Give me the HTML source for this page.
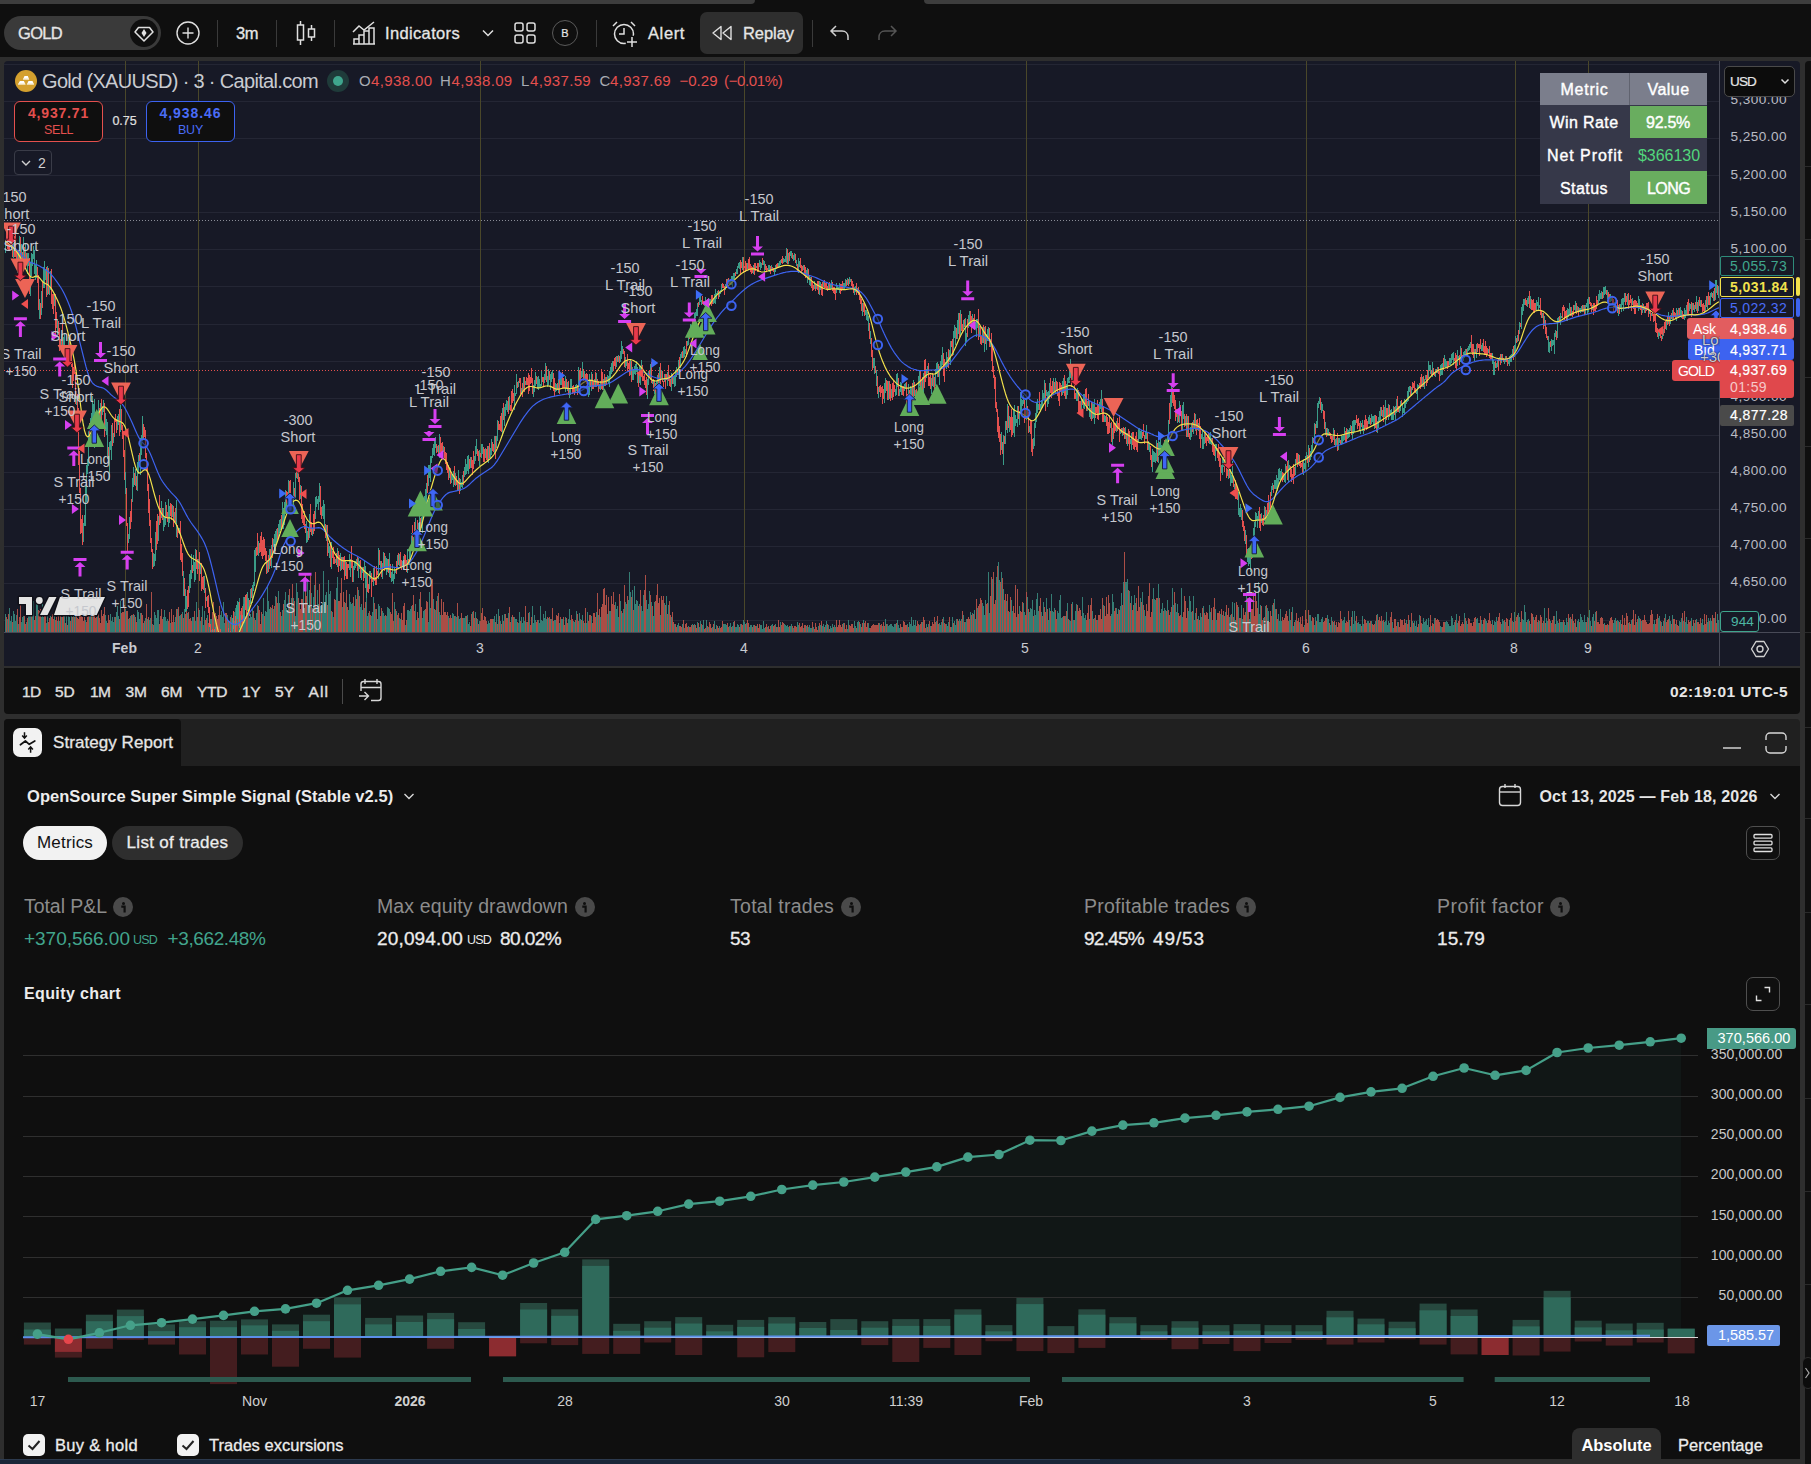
<!DOCTYPE html>
<html><head><meta charset="utf-8"><title>GOLD</title><style>html,body{margin:0;padding:0;background:#0f0f0f;}
body{width:1811px;height:1464px;position:relative;overflow:hidden;font-family:"Liberation Sans",sans-serif;}
.b{position:absolute;display:block;}
.t{position:absolute;white-space:nowrap;display:block;}
.lb{font-family:"Liberation Sans",sans-serif;font-size:15px;fill:#c6c8ce;}
</style></head><body>
<div class="b" style="left:0px;top:57px;width:1811px;height:1407px;background:#2e2e2e;"></div>
<div class="b" style="left:1805px;top:61px;width:6px;height:1403px;background:#0f0f0f;border-radius:4px 0 0 0;"></div>
<div class="b" style="left:1805px;top:166px;width:6px;height:1px;background:#2a2a2a;"></div>
<div class="b" style="left:1805px;top:239px;width:6px;height:1px;background:#2a2a2a;"></div>
<div class="b" style="left:1805px;top:377px;width:6px;height:1px;background:#2a2a2a;"></div>
<div class="b" style="left:1805px;top:446px;width:6px;height:1px;background:#2a2a2a;"></div>
<div class="b" style="left:1805px;top:538px;width:6px;height:1px;background:#2a2a2a;"></div>
<div class="b" style="left:1805px;top:632px;width:6px;height:1px;background:#2a2a2a;"></div>
<div class="b" style="left:1805px;top:727px;width:6px;height:1px;background:#2a2a2a;"></div>
<div class="b" style="left:1805px;top:818px;width:6px;height:1px;background:#2a2a2a;"></div>
<div class="b" style="left:1805px;top:912px;width:6px;height:1px;background:#2a2a2a;"></div>
<div class="b" style="left:1805px;top:1004px;width:6px;height:1px;background:#2a2a2a;"></div>
<div class="b" style="left:1805px;top:1098px;width:6px;height:1px;background:#2a2a2a;"></div>
<div class="b" style="left:1805px;top:1191px;width:6px;height:1px;background:#2a2a2a;"></div>
<div class="b" style="left:1805px;top:1284px;width:6px;height:1px;background:#2a2a2a;"></div>
<div class="b" style="left:4px;top:61px;width:1796px;height:605px;background:#171926;border-radius:4px 4px 0 0;"></div>
<div class="b" style="left:4px;top:668px;width:1796px;height:46px;background:#0f0f0f;border-radius:0 0 4px 4px;"></div>
<div class="b" style="left:0px;top:0px;width:755px;height:4px;background:#3d3d3d;border-radius:0 0 4px 0;"></div>
<div class="b" style="left:924px;top:0px;width:887px;height:4px;background:#3d3d3d;border-radius:0 0 0 4px;"></div>
<div class="b" style="left:4px;top:16px;width:157px;height:34px;background:#3a3a3a;border-radius:17px;"></div>
<span class="t" style="left:18.0px;top:23.0px;font-size:16.5px;line-height:20px;color:#e6e6e6;letter-spacing:-0.69px;-webkit-text-stroke:0.3px #e6e6e6;">GOLD</span>
<div class="b" style="left:130px;top:19px;width:28px;height:28px;background:#0f0f0f;border-radius:14px;"></div>
<svg class="b" style="left:130px;top:19px;" width="28" height="28" viewBox="0 0 28 28"><path d="M8.5 8.5H19.5L23 13L14 22L5 13Z" fill="none" stroke="#e0e0e0" stroke-width="1.5" stroke-linejoin="round"/><path d="M14 10L16.5 14L14 18L11.5 14Z" fill="#e0e0e0"/></svg>
<svg class="b" style="left:176px;top:21px;" width="24" height="24" viewBox="0 0 24 24"><circle cx="12" cy="12" r="11" fill="none" stroke="#e0e0e0" stroke-width="1.4"/><path d="M12 6.5V17.5M6.5 12H17.5" stroke="#e0e0e0" stroke-width="1.4"/></svg>
<div class="b" style="left:217px;top:20px;width:1px;height:27px;background:#3a3a3a;"></div>
<div class="b" style="left:276px;top:20px;width:1px;height:27px;background:#3a3a3a;"></div>
<div class="b" style="left:334px;top:20px;width:1px;height:27px;background:#3a3a3a;"></div>
<div class="b" style="left:596px;top:20px;width:1px;height:27px;background:#3a3a3a;"></div>
<div class="b" style="left:812px;top:20px;width:1px;height:27px;background:#3a3a3a;"></div>
<span class="t" style="left:236.0px;top:23.0px;font-size:16.5px;line-height:20px;color:#e6e6e6;letter-spacing:-0.46px;-webkit-text-stroke:0.3px #e6e6e6;">3m</span>
<svg class="b" style="left:294px;top:20px;" width="24" height="27" viewBox="0 0 24 27"><path d="M6.5 1V5M6.5 20V25M17.5 5V9M17.5 17V21" stroke="#e0e0e0" stroke-width="1.5"/><rect x="3.5" y="5" width="6" height="15" fill="none" stroke="#e0e0e0" stroke-width="1.5"/><rect x="14.5" y="9" width="6" height="8" fill="none" stroke="#e0e0e0" stroke-width="1.5"/></svg>
<svg class="b" style="left:352px;top:20px;" width="24" height="26" viewBox="0 0 24 26"><path d="M1 12L7 6L12 10L22 2" fill="none" stroke="#e0e0e0" stroke-width="1.5"/><path d="M2 24V19H7V24M7 24V15H12V24M12 24V11H17V24M17 24V8H22V24M1 24H23" fill="none" stroke="#e0e0e0" stroke-width="1.5"/></svg>
<span class="t" style="left:385.0px;top:23.0px;font-size:16.5px;line-height:20px;color:#e6e6e6;letter-spacing:0.35px;-webkit-text-stroke:0.3px #e6e6e6;">Indicators</span>
<svg class="b" style="left:481px;top:28px;" width="14" height="10" viewBox="0 0 14 10"><path d="M2 2.5L7 7.5L12 2.5" fill="none" stroke="#e0e0e0" stroke-width="1.5"/></svg>
<svg class="b" style="left:514px;top:22px;" width="22" height="22" viewBox="0 0 22 22"><rect x="1" y="1" width="8" height="8" rx="2" fill="none" stroke="#e0e0e0" stroke-width="1.5"/><rect x="13" y="1" width="8" height="8" rx="2" fill="none" stroke="#e0e0e0" stroke-width="1.5"/><rect x="1" y="13" width="8" height="8" rx="2" fill="none" stroke="#e0e0e0" stroke-width="1.5"/><rect x="13" y="13" width="8" height="8" rx="2" fill="none" stroke="#e0e0e0" stroke-width="1.5"/></svg>
<div class="b" style="left:552px;top:20px;width:26px;height:26px;border:1px solid #5a5a5a;border-radius:13px;box-sizing:border-box;"></div>
<span class="t" style="left:561.3px;top:27.0px;font-size:11px;line-height:13px;color:#e6e6e6;-webkit-text-stroke:0.2px #e6e6e6;">B</span>
<svg class="b" style="left:610px;top:19px;" width="30" height="30" viewBox="0 0 30 30"><circle cx="14" cy="15" r="9.5" fill="none" stroke="#e0e0e0" stroke-width="1.5"/><path d="M14 9V15H9" fill="none" stroke="#e0e0e0" stroke-width="1.5"/><path d="M3 7L7 3M21 3L25 7" stroke="#e0e0e0" stroke-width="1.5"/><circle cx="22" cy="23" r="6.5" fill="#0f0f0f"/><path d="M22 18V28M17 23H27" stroke="#e0e0e0" stroke-width="1.5"/></svg>
<span class="t" style="left:648.0px;top:23.0px;font-size:16.5px;line-height:20px;color:#e6e6e6;letter-spacing:0.61px;-webkit-text-stroke:0.3px #e6e6e6;">Alert</span>
<div class="b" style="left:700px;top:12px;width:103px;height:42px;background:#2e2e2e;border-radius:7px;"></div>
<svg class="b" style="left:711px;top:24px;" width="22" height="18" viewBox="0 0 22 18"><path d="M10 2.5V15.5L2 9Z M20 2.5V15.5L12 9Z" fill="none" stroke="#e0e0e0" stroke-width="1.4" stroke-linejoin="round"/></svg>
<span class="t" style="left:743.0px;top:23.0px;font-size:16.5px;line-height:20px;color:#e6e6e6;letter-spacing:-0.06px;-webkit-text-stroke:0.3px #e6e6e6;">Replay</span>
<svg class="b" style="left:829px;top:23px;" width="22" height="20" viewBox="0 0 22 20"><path d="M7 3L2 8L7 13M2 8H13C17 8 19 11 19 14V17" fill="none" stroke="#d0d0d0" stroke-width="1.5"/></svg>
<svg class="b" style="left:876px;top:23px;" width="22" height="20" viewBox="0 0 22 20"><path d="M15 3L20 8L15 13M20 8H9C5 8 3 11 3 14V17" fill="none" stroke="#555" stroke-width="1.5"/></svg>
<svg class="b" style="left:0;top:0" width="1811" height="700" viewBox="0 0 1811 700">
<defs><clipPath id="pane"><rect x="4" y="61" width="1715" height="571"/></clipPath></defs>
<g clip-path="url(#pane)">
<path d="M4 64.5H1720M4 101.5H1720M4 138.5H1720M4 175.5H1720M4 212.5H1720M4 249.5H1720M4 286.5H1720M4 324.5H1720M4 361.5H1720M4 398.5H1720M4 435.5H1720M4 472.5H1720M4 509.5H1720M4 546.5H1720M4 583.5H1720M4 620.5H1720" stroke="#242634" stroke-width="1" fill="none"/>
<path d="M125.5 61V632M198.5 61V632M480.5 61V632M744.5 61V632M1026.5 61V632M1306.5 61V632M1515.5 61V632M1588.5 61V632" stroke="#4a4729" stroke-width="1" fill="none"/>
<path d="M4 220.5H1720" stroke="#8a8c96" stroke-width="1" stroke-dasharray="1 2" fill="none"/>
<path d="M4 370.5H1720" stroke="#e4504e" stroke-width="1" stroke-dasharray="1 2" fill="none"/>
<path d="M5.5 632V613.7M7.5 632V618.9M9.5 632V607.9M10.5 632V621.1M11.5 632V616.1M13.5 632V611.1M14.5 632V614.0M15.5 632V620.5M16.5 632V615.3M18.5 632V623.9M21.5 632V622.2M22.5 632V616.8M23.5 632V615.6M26.5 632V622.3M28.5 632V615.0M29.5 632V613.6M30.5 632V602.1M32.5 632V611.5M33.5 632V601.2M36.5 632V600.9M37.5 632V600.8M41.5 632V617.2M42.5 632V600.9M43.5 632V617.0M46.5 632V623.2M47.5 632V613.1M50.5 632V615.6M54.5 632V615.7M57.5 632V621.1M59.5 632V620.8M61.5 632V617.2M64.5 632V614.6M66.5 632V612.3M68.5 632V613.7M69.5 632V617.2M71.5 632V614.7M73.5 632V600.5M75.5 632V600.9M85.5 632V619.6M89.5 632V603.9M90.5 632V615.5M92.5 632V612.2M97.5 632V607.9M105.5 632V614.8M106.5 632V621.0M110.5 632V613.5M111.5 632V620.8M112.5 632V616.9M113.5 632V621.5M114.5 632V617.0M116.5 632V611.6M117.5 632V606.2M118.5 632V616.1M120.5 632V600.6M125.5 632V608.8M128.5 632V619.2M130.5 632V615.8M132.5 632V615.2M134.5 632V615.1M137.5 632V610.2M138.5 632V611.9M139.5 632V619.4M140.5 632V612.5M143.5 632V622.7M145.5 632V618.3M147.5 632V619.4M149.5 632V620.4M150.5 632V617.8M152.5 632V623.5M154.5 632V611.6M155.5 632V615.3M156.5 632V618.4M157.5 632V609.5M158.5 632V609.5M163.5 632V617.1M164.5 632V609.7M165.5 632V616.9M166.5 632V620.8M167.5 632V618.8M170.5 632V622.5M174.5 632V621.8M175.5 632V617.2M177.5 632V608.6M179.5 632V616.1M180.5 632V615.1M182.5 632V612.2M184.5 632V608.9M187.5 632V613.1M192.5 632V617.3M193.5 632V616.7M195.5 632V621.2M196.5 632V601.8M199.5 632V609.5M200.5 632V620.5M202.5 632V606.2M203.5 632V624.6M204.5 632V611.4M207.5 632V614.7M209.5 632V614.9M210.5 632V619.0M211.5 632V619.4M214.5 632V614.1M220.5 632V615.1M221.5 632V610.8M222.5 632V617.2M223.5 632V602.3M224.5 632V622.6M227.5 632V614.7M229.5 632V621.0M231.5 632V615.3M232.5 632V620.9M234.5 632V611.8M235.5 632V608.2M238.5 632V617.9M239.5 632V598.3M243.5 632V596.6M244.5 632V604.1M245.5 632V619.7M248.5 632V614.0M249.5 632V618.2M250.5 632V613.9M251.5 632V617.3M252.5 632V608.6M254.5 632V618.4M256.5 632V613.2M257.5 632V604.7M262.5 632V613.6M263.5 632V598.2M265.5 632V611.1M266.5 632V612.4M267.5 632V586.2M268.5 632V601.1M269.5 632V608.6M271.5 632V607.6M273.5 632V609.3M275.5 632V595.5M278.5 632V590.6M279.5 632V602.8M281.5 632V616.2M282.5 632V609.7M284.5 632V599.8M285.5 632V591.6M286.5 632V608.0M287.5 632V609.6M288.5 632V594.5M290.5 632V606.4M291.5 632V598.3M293.5 632V597.6M295.5 632V615.7M296.5 632V582.7M297.5 632V591.9M303.5 632V582.3M304.5 632V608.0M307.5 632V578.5M308.5 632V605.0M309.5 632V590.3M311.5 632V592.5M313.5 632V597.0M314.5 632V585.3M316.5 632V607.4M317.5 632V590.0M318.5 632V603.5M320.5 632V605.8M322.5 632V602.6M323.5 632V571.4M324.5 632V603.7M325.5 632V595.0M326.5 632V592.1M328.5 632V580.4M329.5 632V593.7M330.5 632V590.6M332.5 632V611.8M333.5 632V617.4M336.5 632V588.4M337.5 632V576.7M342.5 632V606.5M345.5 632V602.9M348.5 632V609.7M349.5 632V593.6M350.5 632V601.6M351.5 632V604.2M352.5 632V603.3M354.5 632V606.0M355.5 632V595.1M358.5 632V590.3M360.5 632V606.6M361.5 632V604.2M362.5 632V610.2M364.5 632V608.1M366.5 632V593.4M367.5 632V616.1M368.5 632V613.4M371.5 632V616.3M372.5 632V612.2M373.5 632V596.8M375.5 632V608.7M377.5 632V618.6M378.5 632V603.7M379.5 632V606.2M382.5 632V611.2M383.5 632V613.4M384.5 632V616.1M386.5 632V616.0M387.5 632V607.1M388.5 632V608.0M389.5 632V608.5M394.5 632V601.9M396.5 632V611.3M399.5 632V618.4M400.5 632V619.3M405.5 632V625.3M407.5 632V609.8M408.5 632V610.2M409.5 632V610.8M410.5 632V608.5M411.5 632V605.8M415.5 632V604.4M416.5 632V619.5M419.5 632V598.9M422.5 632V617.9M423.5 632V611.3M424.5 632V610.2M428.5 632V622.1M429.5 632V592.1M430.5 632V607.7M433.5 632V598.6M435.5 632V610.2M437.5 632V595.5M439.5 632V611.8M440.5 632V615.0M448.5 632V616.3M452.5 632V612.9M453.5 632V614.4M455.5 632V616.3M456.5 632V616.6M458.5 632V615.9M459.5 632V618.8M460.5 632V617.6M463.5 632V617.5M464.5 632V618.2M465.5 632V616.4M467.5 632V615.4M468.5 632V623.6M469.5 632V622.1M472.5 632V612.2M475.5 632V611.9M477.5 632V618.6M479.5 632V621.2M487.5 632V624.0M488.5 632V621.1M489.5 632V623.2M493.5 632V618.8M494.5 632V615.8M496.5 632V613.6M498.5 632V609.3M500.5 632V621.2M502.5 632V615.0M504.5 632V614.2M508.5 632V613.0M511.5 632V617.4M514.5 632V617.3M515.5 632V618.8M516.5 632V618.6M518.5 632V623.2M519.5 632V612.1M521.5 632V617.1M522.5 632V623.4M523.5 632V617.4M524.5 632V621.3M526.5 632V622.0M529.5 632V612.1M532.5 632V606.1M533.5 632V622.6M534.5 632V614.8M535.5 632V620.3M538.5 632V620.0M539.5 632V623.1M540.5 632V606.1M541.5 632V620.0M542.5 632V621.1M543.5 632V613.8M544.5 632V618.4M545.5 632V610.8M546.5 632V619.3M548.5 632V617.7M551.5 632V618.6M554.5 632V620.3M555.5 632V619.6M559.5 632V622.9M561.5 632V618.9M562.5 632V619.3M565.5 632V616.9M568.5 632V618.5M569.5 632V609.3M570.5 632V619.7M573.5 632V621.3M574.5 632V621.6M576.5 632V611.0M579.5 632V613.0M580.5 632V618.5M582.5 632V615.0M584.5 632V622.5M586.5 632V622.8M587.5 632V612.0M591.5 632V616.0M596.5 632V612.0M598.5 632V615.1M600.5 632V616.7M607.5 632V614.2M609.5 632V610.9M610.5 632V611.1M615.5 632V602.4M616.5 632V608.7M617.5 632V606.4M618.5 632V616.6M620.5 632V601.2M622.5 632V612.7M623.5 632V609.3M625.5 632V602.4M626.5 632V604.1M628.5 632V600.2M629.5 632V572.0M630.5 632V591.9M632.5 632V590.3M634.5 632V585.9M635.5 632V603.9M636.5 632V599.5M637.5 632V601.1M639.5 632V604.0M641.5 632V605.9M642.5 632V611.0M643.5 632V594.7M646.5 632V600.4M647.5 632V609.0M648.5 632V604.3M649.5 632V590.8M651.5 632V602.3M653.5 632V615.5M654.5 632V602.0M660.5 632V614.5M664.5 632V603.0M666.5 632V595.7M668.5 632V604.9M671.5 632V617.2M674.5 632V624.1M677.5 632V624.8M678.5 632V622.7M682.5 632V623.6M684.5 632V627.7M688.5 632V626.2M692.5 632V624.0M694.5 632V623.5M697.5 632V621.7M699.5 632V626.8M700.5 632V620.6M702.5 632V625.2M703.5 632V620.1M706.5 632V620.0M708.5 632V627.1M712.5 632V626.7M714.5 632V620.6M716.5 632V624.9M719.5 632V625.8M723.5 632V624.3M724.5 632V623.6M725.5 632V624.1M726.5 632V624.7M729.5 632V626.1M730.5 632V623.4M732.5 632V626.3M733.5 632V622.4M735.5 632V626.6M736.5 632V626.9M737.5 632V624.1M738.5 632V624.8M740.5 632V624.1M743.5 632V620.0M744.5 632V621.9M746.5 632V622.9M749.5 632V626.7M750.5 632V624.7M751.5 632V625.3M753.5 632V624.9M756.5 632V626.3M760.5 632V625.4M761.5 632V624.8M762.5 632V628.9M763.5 632V620.9M764.5 632V628.2M767.5 632V626.5M771.5 632V625.0M772.5 632V623.9M775.5 632V624.4M777.5 632V626.8M780.5 632V622.3M784.5 632V624.2M785.5 632V624.7M786.5 632V625.9M787.5 632V624.7M788.5 632V626.8M790.5 632V626.2M791.5 632V623.6M793.5 632V627.7M797.5 632V622.0M798.5 632V624.5M803.5 632V627.8M806.5 632V626.4M808.5 632V627.3M809.5 632V624.9M810.5 632V627.5M811.5 632V627.6M813.5 632V626.7M818.5 632V625.5M820.5 632V624.6M822.5 632V625.7M823.5 632V624.0M825.5 632V625.1M826.5 632V621.3M828.5 632V625.1M830.5 632V626.1M831.5 632V627.6M832.5 632V623.6M834.5 632V624.6M835.5 632V627.2M843.5 632V623.0M847.5 632V628.6M848.5 632V620.0M854.5 632V621.0M855.5 632V625.9M857.5 632V621.7M858.5 632V621.3M860.5 632V624.1M863.5 632V619.9M868.5 632V622.7M869.5 632V627.7M879.5 632V623.4M882.5 632V625.5M885.5 632V619.2M887.5 632V623.6M888.5 632V626.0M889.5 632V625.1M890.5 632V623.8M891.5 632V624.1M892.5 632V625.6M893.5 632V626.5M894.5 632V624.0M895.5 632V623.6M897.5 632V620.1M898.5 632V624.7M899.5 632V627.7M902.5 632V626.5M907.5 632V623.8M909.5 632V622.1M910.5 632V624.4M911.5 632V616.7M912.5 632V625.9M913.5 632V620.2M914.5 632V625.0M915.5 632V620.0M919.5 632V625.2M922.5 632V621.9M926.5 632V624.0M928.5 632V623.9M930.5 632V626.0M936.5 632V620.9M939.5 632V622.5M940.5 632V625.1M941.5 632V621.6M943.5 632V617.1M946.5 632V624.4M947.5 632V625.7M948.5 632V621.8M951.5 632V627.1M952.5 632V616.5M954.5 632V620.9M955.5 632V625.3M956.5 632V619.1M959.5 632V618.7M961.5 632V618.8M963.5 632V614.8M965.5 632V621.8M966.5 632V619.3M970.5 632V612.4M972.5 632V612.9M974.5 632V609.9M975.5 632V619.1M977.5 632V608.4M982.5 632V603.3M983.5 632V605.9M984.5 632V615.0M985.5 632V600.0M988.5 632V572.1M989.5 632V613.1M992.5 632V579.2M996.5 632V576.9M998.5 632V562.0M999.5 632V580.0M1001.5 632V572.0M1003.5 632V588.7M1006.5 632V600.6M1009.5 632V612.4M1011.5 632V600.2M1012.5 632V610.9M1016.5 632V616.5M1019.5 632V605.7M1023.5 632V602.9M1024.5 632V611.6M1027.5 632V597.2M1029.5 632V611.9M1030.5 632V607.7M1031.5 632V609.4M1032.5 632V599.8M1034.5 632V610.0M1035.5 632V615.0M1036.5 632V598.9M1037.5 632V593.3M1038.5 632V610.9M1041.5 632V612.4M1043.5 632V602.1M1046.5 632V598.0M1048.5 632V620.0M1049.5 632V608.4M1051.5 632V594.2M1052.5 632V611.1M1053.5 632V612.4M1054.5 632V608.0M1057.5 632V610.5M1058.5 632V613.4M1059.5 632V599.7M1060.5 632V595.0M1061.5 632V617.7M1062.5 632V617.0M1065.5 632V615.7M1067.5 632V603.4M1069.5 632V619.7M1070.5 632V620.9M1072.5 632V601.5M1073.5 632V619.8M1075.5 632V611.4M1076.5 632V604.0M1082.5 632V597.1M1083.5 632V612.6M1084.5 632V618.4M1085.5 632V615.4M1089.5 632V619.3M1092.5 632V610.6M1094.5 632V617.7M1097.5 632V619.5M1103.5 632V604.8M1111.5 632V613.7M1112.5 632V593.6M1113.5 632V602.2M1116.5 632V608.2M1118.5 632V609.3M1120.5 632V605.5M1121.5 632V593.1M1123.5 632V581.9M1125.5 632V582.3M1126.5 632V582.3M1127.5 632V578.6M1129.5 632V590.9M1131.5 632V596.4M1134.5 632V594.9M1135.5 632V603.2M1140.5 632V598.1M1142.5 632V591.5M1144.5 632V610.0M1145.5 632V615.5M1153.5 632V587.7M1154.5 632V599.4M1155.5 632V599.6M1158.5 632V584.0M1160.5 632V613.4M1161.5 632V608.5M1162.5 632V603.1M1164.5 632V607.7M1165.5 632V609.9M1167.5 632V600.1M1170.5 632V612.3M1172.5 632V587.6M1173.5 632V605.1M1175.5 632V603.0M1176.5 632V612.2M1177.5 632V604.1M1181.5 632V588.0M1182.5 632V617.1M1188.5 632V611.1M1189.5 632V596.0M1190.5 632V600.9M1191.5 632V612.2M1193.5 632V595.9M1194.5 632V619.9M1195.5 632V613.1M1198.5 632V616.1M1200.5 632V612.5M1201.5 632V616.8M1203.5 632V606.0M1209.5 632V605.3M1210.5 632V611.6M1212.5 632V619.7M1215.5 632V608.6M1216.5 632V620.0M1220.5 632V614.0M1222.5 632V615.3M1225.5 632V611.8M1229.5 632V617.2M1230.5 632V614.5M1232.5 632V602.3M1234.5 632V602.5M1235.5 632V619.6M1238.5 632V606.9M1241.5 632V605.2M1242.5 632V618.5M1246.5 632V595.3M1249.5 632V618.8M1250.5 632V608.4M1258.5 632V581.5M1259.5 632V613.7M1260.5 632V605.4M1263.5 632V617.9M1265.5 632V605.7M1267.5 632V607.8M1268.5 632V610.7M1272.5 632V604.6M1274.5 632V599.0M1275.5 632V609.3M1278.5 632V614.2M1279.5 632V620.5M1280.5 632V609.4M1281.5 632V620.7M1289.5 632V608.8M1290.5 632V620.2M1292.5 632V606.6M1293.5 632V625.7M1295.5 632V619.5M1299.5 632V622.2M1304.5 632V625.4M1309.5 632V614.9M1310.5 632V614.5M1311.5 632V621.4M1314.5 632V625.0M1315.5 632V617.4M1317.5 632V613.7M1318.5 632V613.6M1319.5 632V622.3M1320.5 632V622.2M1321.5 632V619.3M1322.5 632V617.2M1327.5 632V614.7M1328.5 632V619.2M1330.5 632V625.4M1331.5 632V616.6M1333.5 632V621.5M1335.5 632V625.0M1342.5 632V621.2M1343.5 632V619.8M1344.5 632V617.3M1349.5 632V620.2M1350.5 632V626.0M1352.5 632V611.3M1353.5 632V623.6M1354.5 632V611.3M1355.5 632V620.8M1357.5 632V622.5M1358.5 632V621.6M1359.5 632V624.4M1360.5 632V624.0M1362.5 632V615.6M1363.5 632V624.3M1367.5 632V620.6M1368.5 632V621.1M1371.5 632V620.7M1375.5 632V620.5M1377.5 632V614.1M1382.5 632V620.6M1384.5 632V622.0M1385.5 632V621.1M1386.5 632V612.2M1387.5 632V624.7M1388.5 632V621.1M1389.5 632V623.1M1392.5 632V622.2M1393.5 632V627.7M1397.5 632V622.1M1406.5 632V619.5M1409.5 632V619.9M1412.5 632V620.7M1414.5 632V621.0M1415.5 632V626.2M1416.5 632V620.6M1419.5 632V615.3M1422.5 632V624.3M1423.5 632V617.5M1424.5 632V621.5M1425.5 632V620.6M1426.5 632V618.9M1427.5 632V624.5M1428.5 632V618.1M1431.5 632V625.7M1434.5 632V618.4M1440.5 632V626.4M1441.5 632V627.1M1445.5 632V621.8M1446.5 632V620.5M1447.5 632V622.2M1448.5 632V624.4M1449.5 632V625.6M1450.5 632V626.4M1451.5 632V616.0M1452.5 632V617.6M1453.5 632V625.2M1454.5 632V622.3M1456.5 632V613.9M1457.5 632V623.3M1464.5 632V612.6M1466.5 632V620.7M1467.5 632V624.3M1476.5 632V619.1M1477.5 632V618.0M1478.5 632V623.3M1481.5 632V619.7M1482.5 632V623.9M1485.5 632V618.6M1486.5 632V621.0M1492.5 632V620.1M1494.5 632V620.6M1495.5 632V622.4M1496.5 632V617.4M1501.5 632V623.7M1502.5 632V619.0M1503.5 632V620.9M1505.5 632V622.3M1509.5 632V620.2M1512.5 632V620.9M1514.5 632V611.7M1518.5 632V613.1M1519.5 632V617.0M1522.5 632V619.1M1523.5 632V619.5M1524.5 632V604.9M1525.5 632V612.3M1527.5 632V619.6M1528.5 632V618.7M1530.5 632V624.4M1533.5 632V616.7M1537.5 632V622.3M1539.5 632V620.7M1542.5 632V623.3M1544.5 632V608.2M1546.5 632V618.2M1547.5 632V621.4M1550.5 632V620.9M1554.5 632V616.4M1556.5 632V611.3M1557.5 632V620.7M1558.5 632V623.4M1560.5 632V622.2M1561.5 632V622.1M1562.5 632V622.2M1564.5 632V621.8M1565.5 632V625.2M1566.5 632V617.7M1567.5 632V621.9M1569.5 632V617.6M1571.5 632V619.2M1574.5 632V623.4M1577.5 632V621.4M1578.5 632V619.1M1580.5 632V613.8M1581.5 632V616.9M1582.5 632V619.6M1583.5 632V621.5M1584.5 632V614.8M1585.5 632V622.4M1587.5 632V616.7M1589.5 632V610.0M1590.5 632V620.9M1592.5 632V617.2M1593.5 632V613.9M1595.5 632V612.0M1604.5 632V622.8M1608.5 632V625.0M1613.5 632V622.5M1614.5 632V620.2M1615.5 632V617.7M1617.5 632V620.0M1618.5 632V621.3M1620.5 632V620.0M1623.5 632V624.9M1628.5 632V623.0M1631.5 632V620.4M1636.5 632V622.3M1638.5 632V616.3M1639.5 632V617.9M1641.5 632V621.0M1653.5 632V624.1M1654.5 632V620.0M1658.5 632V617.8M1659.5 632V616.4M1661.5 632V622.2M1663.5 632V620.7M1665.5 632V614.3M1669.5 632V615.5M1670.5 632V620.6M1672.5 632V615.4M1675.5 632V624.3M1679.5 632V621.2M1680.5 632V621.9M1681.5 632V618.0M1683.5 632V620.5M1685.5 632V622.4M1686.5 632V617.1M1687.5 632V624.4M1691.5 632V617.9M1692.5 632V625.8M1694.5 632V623.1M1696.5 632V618.8M1701.5 632V622.7M1702.5 632V618.6M1703.5 632V624.8M1707.5 632V622.0M1708.5 632V618.2M1710.5 632V617.6M1711.5 632V620.5M1714.5 632V617.6M1717.5 632V614.4M1718.5 632V620.2" stroke="#357d74" stroke-width="1" fill="none" shape-rendering="crispEdges"/>
<path d="M6.5 632V616.8M8.5 632V613.7M12.5 632V621.6M17.5 632V608.8M19.5 632V616.8M20.5 632V602.4M24.5 632V616.3M25.5 632V624.4M27.5 632V618.3M31.5 632V608.5M34.5 632V619.8M35.5 632V616.2M38.5 632V610.3M39.5 632V610.8M40.5 632V609.1M44.5 632V615.6M45.5 632V600.5M48.5 632V622.2M49.5 632V618.3M51.5 632V616.9M52.5 632V614.2M53.5 632V618.8M55.5 632V620.4M56.5 632V617.1M58.5 632V611.3M60.5 632V611.1M62.5 632V616.7M63.5 632V607.6M65.5 632V622.7M67.5 632V625.3M70.5 632V621.2M72.5 632V616.7M74.5 632V617.3M76.5 632V605.9M77.5 632V618.1M78.5 632V619.0M79.5 632V606.4M80.5 632V615.9M81.5 632V614.3M82.5 632V616.5M83.5 632V620.5M84.5 632V617.0M86.5 632V621.6M87.5 632V616.7M88.5 632V602.3M91.5 632V614.4M93.5 632V606.1M94.5 632V613.4M95.5 632V617.5M96.5 632V617.1M98.5 632V600.5M99.5 632V618.2M100.5 632V623.2M101.5 632V610.2M102.5 632V615.6M103.5 632V614.4M104.5 632V607.0M107.5 632V623.0M108.5 632V615.4M109.5 632V620.4M115.5 632V617.4M119.5 632V619.2M121.5 632V613.1M122.5 632V611.6M123.5 632V611.6M124.5 632V605.3M126.5 632V611.2M127.5 632V610.6M129.5 632V618.2M131.5 632V614.7M133.5 632V613.5M135.5 632V617.4M136.5 632V622.0M141.5 632V613.1M142.5 632V615.0M144.5 632V620.7M146.5 632V604.2M148.5 632V617.1M151.5 632V592.0M153.5 632V625.3M159.5 632V623.6M160.5 632V616.4M161.5 632V608.5M162.5 632V618.7M168.5 632V621.3M169.5 632V612.4M171.5 632V609.4M172.5 632V622.3M173.5 632V615.4M176.5 632V609.3M178.5 632V607.2M181.5 632V614.4M183.5 632V617.7M185.5 632V613.9M186.5 632V608.6M188.5 632V611.8M189.5 632V619.1M190.5 632V617.8M191.5 632V621.3M194.5 632V610.9M197.5 632V616.5M198.5 632V607.8M201.5 632V617.2M205.5 632V620.0M206.5 632V618.2M208.5 632V623.2M212.5 632V611.9M213.5 632V602.1M215.5 632V612.9M216.5 632V616.3M217.5 632V619.3M218.5 632V614.7M219.5 632V606.1M225.5 632V612.8M226.5 632V613.1M228.5 632V620.9M230.5 632V617.2M233.5 632V620.2M236.5 632V617.5M237.5 632V618.0M240.5 632V610.7M241.5 632V613.9M242.5 632V606.2M246.5 632V612.9M247.5 632V614.6M253.5 632V610.5M255.5 632V619.5M258.5 632V605.8M259.5 632V609.9M260.5 632V624.1M261.5 632V612.3M264.5 632V615.9M270.5 632V607.3M272.5 632V604.8M274.5 632V606.1M276.5 632V597.4M277.5 632V602.5M280.5 632V612.0M283.5 632V604.4M289.5 632V589.0M292.5 632V584.4M294.5 632V601.2M298.5 632V597.7M299.5 632V603.3M300.5 632V609.4M301.5 632V598.9M302.5 632V598.6M305.5 632V575.2M306.5 632V595.5M310.5 632V576.2M312.5 632V608.0M315.5 632V572.0M319.5 632V584.2M321.5 632V610.9M327.5 632V605.0M331.5 632V611.2M334.5 632V599.1M335.5 632V599.7M338.5 632V600.6M339.5 632V600.9M340.5 632V593.1M341.5 632V577.5M343.5 632V591.7M344.5 632V601.8M346.5 632V590.4M347.5 632V607.4M353.5 632V597.3M356.5 632V599.4M357.5 632V586.7M359.5 632V595.9M363.5 632V583.3M365.5 632V601.7M369.5 632V610.9M370.5 632V614.8M374.5 632V602.8M376.5 632V608.9M380.5 632V616.2M381.5 632V608.2M385.5 632V614.5M390.5 632V612.1M391.5 632V613.6M392.5 632V593.1M393.5 632V620.6M395.5 632V609.2M397.5 632V614.9M398.5 632V613.3M401.5 632V612.8M402.5 632V620.2M403.5 632V605.8M404.5 632V603.2M406.5 632V619.7M412.5 632V604.7M413.5 632V595.2M414.5 632V611.0M417.5 632V611.8M418.5 632V617.7M420.5 632V592.3M421.5 632V606.6M425.5 632V608.9M426.5 632V601.2M427.5 632V602.4M431.5 632V585.0M432.5 632V578.9M434.5 632V608.6M436.5 632V601.2M438.5 632V592.7M441.5 632V599.1M442.5 632V615.3M443.5 632V601.5M444.5 632V611.6M445.5 632V611.8M446.5 632V614.8M447.5 632V611.8M449.5 632V617.5M450.5 632V615.0M451.5 632V617.7M454.5 632V616.4M457.5 632V603.4M461.5 632V612.7M462.5 632V617.6M466.5 632V615.5M470.5 632V626.0M471.5 632V614.0M473.5 632V610.9M474.5 632V617.5M476.5 632V618.3M478.5 632V623.5M480.5 632V620.5M481.5 632V613.4M482.5 632V608.4M483.5 632V620.0M484.5 632V616.3M485.5 632V616.8M486.5 632V621.2M490.5 632V619.4M491.5 632V618.7M492.5 632V618.9M495.5 632V621.7M497.5 632V623.9M499.5 632V616.3M501.5 632V623.7M503.5 632V620.8M505.5 632V614.3M506.5 632V618.1M507.5 632V618.1M509.5 632V607.0M510.5 632V621.7M512.5 632V615.4M513.5 632V617.2M517.5 632V621.7M520.5 632V620.7M525.5 632V606.1M527.5 632V621.8M528.5 632V613.3M530.5 632V624.9M531.5 632V617.0M536.5 632V621.9M537.5 632V619.6M547.5 632V616.5M549.5 632V617.4M550.5 632V619.0M552.5 632V608.4M553.5 632V620.8M556.5 632V615.4M557.5 632V616.2M558.5 632V613.3M560.5 632V616.9M563.5 632V617.4M564.5 632V624.6M566.5 632V617.5M567.5 632V623.2M571.5 632V615.3M572.5 632V619.1M575.5 632V619.8M577.5 632V614.0M578.5 632V620.9M581.5 632V620.4M583.5 632V620.6M585.5 632V607.8M588.5 632V621.4M589.5 632V614.5M590.5 632V615.1M592.5 632V622.6M593.5 632V613.4M594.5 632V612.6M595.5 632V616.9M597.5 632V593.1M599.5 632V608.6M601.5 632V606.8M602.5 632V604.3M603.5 632V589.1M604.5 632V588.4M605.5 632V604.8M606.5 632V594.5M608.5 632V597.3M611.5 632V595.6M612.5 632V603.9M613.5 632V591.8M614.5 632V604.9M619.5 632V593.7M621.5 632V610.6M624.5 632V585.0M627.5 632V595.5M631.5 632V596.9M633.5 632V610.3M638.5 632V606.4M640.5 632V590.0M644.5 632V590.0M645.5 632V575.0M650.5 632V595.0M652.5 632V606.4M655.5 632V601.1M656.5 632V595.3M657.5 632V583.9M658.5 632V603.2M659.5 632V598.0M661.5 632V596.3M662.5 632V600.3M663.5 632V595.5M665.5 632V605.3M667.5 632V613.7M669.5 632V601.3M670.5 632V615.2M672.5 632V612.1M673.5 632V621.5M675.5 632V624.0M676.5 632V626.9M679.5 632V626.2M680.5 632V626.0M681.5 632V627.4M683.5 632V620.0M685.5 632V623.7M686.5 632V623.4M687.5 632V626.5M689.5 632V627.3M690.5 632V626.9M691.5 632V625.1M693.5 632V625.2M695.5 632V625.0M696.5 632V627.5M698.5 632V622.5M701.5 632V624.4M704.5 632V629.0M705.5 632V628.0M707.5 632V625.9M709.5 632V621.5M710.5 632V624.4M711.5 632V627.6M713.5 632V623.5M715.5 632V628.5M717.5 632V626.2M718.5 632V628.2M720.5 632V628.0M721.5 632V626.5M722.5 632V621.1M727.5 632V623.1M728.5 632V627.4M731.5 632V626.8M734.5 632V621.4M739.5 632V626.7M741.5 632V624.2M742.5 632V625.3M745.5 632V623.5M747.5 632V620.0M748.5 632V622.7M752.5 632V626.5M754.5 632V624.9M755.5 632V625.5M757.5 632V623.5M758.5 632V628.0M759.5 632V623.5M765.5 632V627.0M766.5 632V623.9M768.5 632V626.2M769.5 632V628.7M770.5 632V626.3M773.5 632V626.0M774.5 632V624.9M776.5 632V626.7M778.5 632V620.0M779.5 632V627.0M781.5 632V625.3M782.5 632V621.5M783.5 632V623.4M789.5 632V625.6M792.5 632V625.6M794.5 632V626.1M795.5 632V625.6M796.5 632V627.0M799.5 632V623.4M800.5 632V626.8M801.5 632V626.2M802.5 632V623.0M804.5 632V624.6M805.5 632V625.2M807.5 632V625.2M812.5 632V621.8M814.5 632V628.6M815.5 632V623.0M816.5 632V626.8M817.5 632V629.8M819.5 632V623.2M821.5 632V620.7M824.5 632V627.2M827.5 632V624.3M829.5 632V628.5M833.5 632V626.8M836.5 632V620.1M837.5 632V627.4M838.5 632V625.1M839.5 632V620.0M840.5 632V624.9M841.5 632V627.0M842.5 632V624.0M844.5 632V623.3M845.5 632V628.5M846.5 632V624.9M849.5 632V625.3M850.5 632V626.3M851.5 632V623.8M852.5 632V624.3M853.5 632V627.5M856.5 632V628.2M859.5 632V622.2M861.5 632V627.0M862.5 632V623.0M864.5 632V623.2M865.5 632V620.7M866.5 632V626.6M867.5 632V622.5M870.5 632V627.8M871.5 632V626.4M872.5 632V624.7M873.5 632V623.8M874.5 632V625.3M875.5 632V624.9M876.5 632V625.0M877.5 632V624.5M878.5 632V623.2M880.5 632V624.7M881.5 632V623.9M883.5 632V622.3M884.5 632V625.6M886.5 632V624.4M896.5 632V622.5M900.5 632V624.2M901.5 632V627.4M903.5 632V620.5M904.5 632V622.1M905.5 632V625.2M906.5 632V625.2M908.5 632V627.2M916.5 632V625.6M917.5 632V621.0M918.5 632V624.4M920.5 632V623.6M921.5 632V621.7M923.5 632V617.2M924.5 632V620.3M925.5 632V628.1M927.5 632V627.2M929.5 632V620.8M931.5 632V625.7M932.5 632V622.3M933.5 632V623.5M934.5 632V616.6M935.5 632V621.6M937.5 632V615.5M938.5 632V623.9M942.5 632V618.7M944.5 632V622.5M945.5 632V624.3M949.5 632V616.8M950.5 632V627.4M953.5 632V622.5M957.5 632V619.0M958.5 632V621.3M960.5 632V621.4M962.5 632V611.3M964.5 632V621.7M967.5 632V618.7M968.5 632V616.8M969.5 632V619.3M971.5 632V615.3M973.5 632V614.4M976.5 632V598.8M978.5 632V606.4M979.5 632V603.7M980.5 632V597.5M981.5 632V599.7M986.5 632V604.0M987.5 632V603.0M990.5 632V595.8M991.5 632V577.2M993.5 632V571.9M994.5 632V604.0M995.5 632V599.9M997.5 632V566.0M1000.5 632V582.3M1002.5 632V578.3M1004.5 632V599.8M1005.5 632V594.1M1007.5 632V594.0M1008.5 632V610.8M1010.5 632V596.8M1013.5 632V606.0M1014.5 632V612.6M1015.5 632V584.6M1017.5 632V589.3M1018.5 632V613.7M1020.5 632V611.2M1021.5 632V612.0M1022.5 632V601.7M1025.5 632V615.3M1026.5 632V591.9M1028.5 632V608.8M1033.5 632V615.9M1039.5 632V606.3M1040.5 632V598.2M1042.5 632V616.1M1044.5 632V606.9M1045.5 632V612.0M1047.5 632V609.1M1050.5 632V611.3M1055.5 632V609.5M1056.5 632V618.8M1063.5 632V616.4M1064.5 632V615.5M1066.5 632V611.4M1068.5 632V618.7M1071.5 632V603.5M1074.5 632V620.2M1077.5 632V604.7M1078.5 632V611.1M1079.5 632V607.6M1080.5 632V610.3M1081.5 632V615.7M1086.5 632V620.3M1087.5 632V612.7M1088.5 632V604.8M1090.5 632V604.7M1091.5 632V597.9M1093.5 632V619.0M1095.5 632V615.1M1096.5 632V619.6M1098.5 632V614.9M1099.5 632V614.5M1100.5 632V609.3M1101.5 632V619.1M1102.5 632V597.7M1104.5 632V606.0M1105.5 632V615.9M1106.5 632V597.0M1107.5 632V613.8M1108.5 632V595.3M1109.5 632V602.8M1110.5 632V616.3M1114.5 632V611.2M1115.5 632V608.4M1117.5 632V614.4M1119.5 632V609.9M1122.5 632V605.1M1124.5 632V552.0M1128.5 632V590.1M1130.5 632V602.6M1132.5 632V610.3M1133.5 632V605.2M1136.5 632V598.1M1137.5 632V611.0M1138.5 632V586.1M1139.5 632V607.3M1141.5 632V602.3M1143.5 632V605.3M1146.5 632V604.3M1147.5 632V611.1M1148.5 632V595.5M1149.5 632V583.0M1150.5 632V616.9M1151.5 632V611.9M1152.5 632V598.7M1156.5 632V598.0M1157.5 632V597.6M1159.5 632V597.9M1163.5 632V611.4M1166.5 632V611.4M1168.5 632V609.8M1169.5 632V614.5M1171.5 632V607.0M1174.5 632V592.1M1178.5 632V613.2M1179.5 632V616.0M1180.5 632V614.5M1183.5 632V611.7M1184.5 632V596.1M1185.5 632V601.4M1186.5 632V617.7M1187.5 632V608.1M1192.5 632V611.1M1196.5 632V607.9M1197.5 632V618.6M1199.5 632V619.7M1202.5 632V608.0M1204.5 632V613.0M1205.5 632V615.4M1206.5 632V611.6M1207.5 632V612.8M1208.5 632V619.2M1211.5 632V607.5M1213.5 632V606.7M1214.5 632V597.6M1217.5 632V612.5M1218.5 632V613.1M1219.5 632V611.3M1221.5 632V609.2M1223.5 632V611.0M1224.5 632V616.4M1226.5 632V605.0M1227.5 632V615.2M1228.5 632V607.6M1231.5 632V613.6M1233.5 632V616.5M1236.5 632V601.6M1237.5 632V605.1M1239.5 632V617.5M1240.5 632V618.4M1243.5 632V607.5M1244.5 632V614.8M1245.5 632V611.7M1247.5 632V598.2M1248.5 632V605.1M1251.5 632V608.9M1252.5 632V608.6M1253.5 632V592.4M1254.5 632V616.4M1255.5 632V592.0M1256.5 632V600.7M1257.5 632V608.3M1261.5 632V606.3M1262.5 632V620.3M1264.5 632V616.5M1266.5 632V604.6M1269.5 632V622.4M1270.5 632V611.4M1271.5 632V615.9M1273.5 632V603.3M1276.5 632V608.8M1277.5 632V619.4M1282.5 632V616.7M1283.5 632V619.6M1284.5 632V618.3M1285.5 632V613.8M1286.5 632V611.4M1287.5 632V615.6M1288.5 632V621.2M1291.5 632V612.2M1294.5 632V622.2M1296.5 632V612.8M1297.5 632V621.0M1298.5 632V617.7M1300.5 632V617.3M1301.5 632V623.7M1302.5 632V615.9M1303.5 632V627.4M1305.5 632V610.0M1306.5 632V619.1M1307.5 632V622.9M1308.5 632V610.0M1312.5 632V617.2M1313.5 632V617.8M1316.5 632V620.7M1323.5 632V621.6M1324.5 632V620.5M1325.5 632V617.5M1326.5 632V618.4M1329.5 632V623.2M1332.5 632V621.4M1334.5 632V621.3M1336.5 632V621.7M1337.5 632V627.0M1338.5 632V621.8M1339.5 632V623.3M1340.5 632V610.9M1341.5 632V618.5M1345.5 632V623.0M1346.5 632V621.3M1347.5 632V621.7M1348.5 632V611.1M1351.5 632V617.1M1356.5 632V616.2M1361.5 632V626.4M1364.5 632V619.3M1365.5 632V619.5M1366.5 632V622.9M1369.5 632V622.5M1370.5 632V620.7M1372.5 632V624.0M1373.5 632V624.7M1374.5 632V623.6M1376.5 632V614.5M1378.5 632V619.8M1379.5 632V616.9M1380.5 632V620.5M1381.5 632V616.2M1383.5 632V619.5M1390.5 632V617.1M1391.5 632V612.3M1394.5 632V618.8M1395.5 632V618.8M1396.5 632V625.8M1398.5 632V621.5M1399.5 632V627.0M1400.5 632V618.6M1401.5 632V619.6M1402.5 632V620.4M1403.5 632V624.5M1404.5 632V618.5M1405.5 632V623.3M1407.5 632V624.3M1408.5 632V614.6M1410.5 632V626.8M1411.5 632V613.3M1413.5 632V623.1M1417.5 632V627.3M1418.5 632V624.4M1420.5 632V615.8M1421.5 632V622.5M1429.5 632V626.7M1430.5 632V614.7M1432.5 632V623.4M1433.5 632V623.5M1435.5 632V618.3M1436.5 632V620.0M1437.5 632V619.2M1438.5 632V619.6M1439.5 632V621.6M1442.5 632V627.1M1443.5 632V621.5M1444.5 632V622.1M1455.5 632V619.7M1458.5 632V620.7M1459.5 632V616.4M1460.5 632V626.1M1461.5 632V623.7M1462.5 632V621.5M1463.5 632V623.7M1465.5 632V617.8M1468.5 632V617.8M1469.5 632V618.9M1470.5 632V623.1M1471.5 632V622.8M1472.5 632V625.5M1473.5 632V621.7M1474.5 632V617.8M1475.5 632V617.2M1479.5 632V622.9M1480.5 632V616.1M1483.5 632V619.5M1484.5 632V618.0M1487.5 632V623.1M1488.5 632V619.9M1489.5 632V613.3M1490.5 632V620.9M1491.5 632V623.5M1493.5 632V625.0M1497.5 632V621.0M1498.5 632V617.0M1499.5 632V612.6M1500.5 632V622.0M1504.5 632V619.8M1506.5 632V617.5M1507.5 632V619.4M1508.5 632V625.9M1510.5 632V617.5M1511.5 632V612.5M1513.5 632V621.6M1515.5 632V620.5M1516.5 632V617.2M1517.5 632V615.0M1520.5 632V621.6M1521.5 632V611.0M1526.5 632V621.7M1529.5 632V620.8M1531.5 632V613.4M1532.5 632V613.7M1534.5 632V619.7M1535.5 632V617.1M1536.5 632V614.9M1538.5 632V619.7M1540.5 632V614.9M1541.5 632V617.3M1543.5 632V621.1M1545.5 632V622.5M1548.5 632V608.2M1549.5 632V619.4M1551.5 632V623.4M1552.5 632V620.4M1553.5 632V615.5M1555.5 632V624.0M1559.5 632V619.4M1563.5 632V620.3M1568.5 632V614.1M1570.5 632V617.3M1572.5 632V613.6M1573.5 632V621.2M1575.5 632V618.6M1576.5 632V627.1M1579.5 632V621.6M1586.5 632V621.6M1588.5 632V617.5M1591.5 632V625.6M1594.5 632V620.7M1596.5 632V610.5M1597.5 632V622.4M1598.5 632V621.8M1599.5 632V624.1M1600.5 632V617.8M1601.5 632V616.9M1602.5 632V617.5M1603.5 632V624.1M1605.5 632V624.6M1606.5 632V625.0M1607.5 632V624.4M1609.5 632V620.8M1610.5 632V618.4M1611.5 632V617.4M1612.5 632V620.2M1616.5 632V621.3M1619.5 632V622.1M1621.5 632V623.8M1622.5 632V615.3M1624.5 632V618.3M1625.5 632V624.5M1626.5 632V612.6M1627.5 632V616.3M1629.5 632V621.8M1630.5 632V623.9M1632.5 632V618.5M1633.5 632V610.2M1634.5 632V624.5M1635.5 632V614.3M1637.5 632V619.1M1640.5 632V618.5M1642.5 632V620.3M1643.5 632V619.7M1644.5 632V614.6M1645.5 632V620.4M1646.5 632V622.0M1647.5 632V624.2M1648.5 632V623.5M1649.5 632V623.0M1650.5 632V615.2M1651.5 632V610.3M1652.5 632V613.7M1655.5 632V623.9M1656.5 632V618.5M1657.5 632V614.2M1660.5 632V620.9M1662.5 632V625.9M1664.5 632V617.9M1666.5 632V621.6M1667.5 632V620.0M1668.5 632V619.3M1671.5 632V623.9M1673.5 632V618.7M1674.5 632V618.8M1676.5 632V620.4M1677.5 632V625.4M1678.5 632V626.0M1682.5 632V613.3M1684.5 632V611.1M1688.5 632V619.9M1689.5 632V621.6M1690.5 632V621.2M1693.5 632V620.0M1695.5 632V620.0M1697.5 632V621.8M1698.5 632V621.8M1699.5 632V624.1M1700.5 632V618.2M1704.5 632V613.9M1705.5 632V623.7M1706.5 632V615.1M1709.5 632V621.0M1712.5 632V614.5M1713.5 632V617.6M1715.5 632V612.1M1716.5 632V622.8M1719.5 632V624.9" stroke="#ab4e46" stroke-width="1" fill="none" shape-rendering="crispEdges"/>
<path d="M5.5 239.7V253.1M10.5 223.0V246.9M13.5 240.5V257.6M17.5 250.6V272.5M19.5 236.3V259.5M21.5 244.0V276.8M23.5 237.3V271.3M25.5 244.2V266.8M27.5 252.8V274.4M28.5 252.8V265.7M30.5 262.3V295.9M31.5 253.2V275.8M32.5 253.7V265.9M33.5 246.4V259.2M34.5 250.0V274.2M35.5 265.2V280.2M36.5 260.3V278.4M39.5 299.3V318.6M41.5 291.2V315.2M43.5 266.9V288.2M44.5 260.5V287.7M45.5 269.3V280.3M47.5 265.8V295.0M49.5 287.2V294.6M50.5 271.0V289.6M54.5 293.2V306.4M57.5 320.1V335.4M61.5 333.8V351.0M63.5 336.6V352.7M64.5 333.2V350.5M65.5 344.7V349.7M68.5 336.6V357.1M76.5 395.7V404.6M83.5 523.4V542.0M84.5 515.4V525.9M85.5 485.5V525.7M86.5 464.7V502.4M87.5 458.6V473.5M88.5 430.4V465.6M90.5 418.2V429.8M91.5 412.6V426.1M92.5 395.7V422.9M93.5 403.9V432.9M94.5 398.6V448.4M96.5 410.7V427.8M98.5 400.0V422.7M100.5 403.4V424.3M102.5 406.3V415.0M103.5 400.3V412.3M105.5 412.5V431.1M106.5 418.9V434.6M107.5 422.4V458.7M109.5 441.7V480.0M110.5 441.0V450.1M111.5 425.3V459.6M113.5 432.9V442.6M117.5 415.8V430.0M118.5 414.2V424.5M120.5 397.0V431.9M125.5 472.3V493.7M128.5 533.9V542.9M129.5 516.5V538.9M132.5 478.3V502.3M133.5 467.2V487.2M135.5 469.3V485.8M137.5 461.6V491.0M138.5 454.6V473.6M140.5 437.6V475.2M141.5 434.8V455.0M142.5 416.2V441.2M153.5 552.6V566.5M154.5 553.6V566.1M155.5 531.8V561.3M158.5 516.1V541.1M161.5 500.8V517.5M163.5 508.4V530.9M164.5 515.7V526.6M165.5 501.9V525.1M168.5 498.8V527.0M169.5 506.1V522.7M172.5 504.8V517.3M174.5 512.0V523.3M176.5 500.1V537.3M179.5 528.2V533.6M183.5 571.1V595.8M185.5 588.5V612.4M186.5 596.1V610.7M189.5 574.3V593.1M190.5 570.4V588.2M191.5 553.6V578.8M193.5 554.6V571.3M194.5 561.9V581.9M195.5 548.5V579.5M198.5 559.1V568.8M200.5 563.3V573.9M204.5 575.7V592.6M206.5 596.7V601.1M211.5 630.0V642.4M213.5 630.0V642.8M215.5 626.8V642.7M217.5 632.9V662.0M218.5 633.0V643.1M221.5 636.7V656.9M223.5 640.1V653.6M226.5 638.7V646.1M227.5 632.1V645.9M229.5 632.6V649.6M232.5 618.3V643.7M234.5 620.5V632.9M236.5 605.0V625.9M237.5 600.8V619.1M238.5 602.2V626.3M240.5 614.8V631.3M243.5 603.7V619.1M244.5 597.3V623.1M247.5 591.9V611.4M248.5 597.9V614.8M250.5 589.1V604.2M252.5 584.6V602.8M253.5 582.0V591.0M254.5 549.9V586.2M255.5 547.5V572.4M258.5 541.3V556.2M267.5 559.6V572.9M269.5 548.6V568.5M271.5 544.9V567.7M273.5 538.8V547.3M274.5 534.1V551.0M275.5 531.3V551.2M276.5 528.5V543.2M278.5 524.2V538.6M279.5 519.9V533.0M280.5 518.7V529.5M282.5 501.6V529.4M283.5 507.6V528.8M284.5 502.4V524.7M285.5 489.9V512.9M288.5 479.7V500.3M291.5 493.6V501.1M293.5 482.3V504.1M295.5 473.1V501.1M297.5 467.5V478.7M300.5 484.6V498.6M306.5 520.8V542.7M307.5 530.5V542.3M309.5 514.1V538.3M312.5 528.4V535.7M315.5 496.9V519.3M316.5 495.8V507.0M317.5 499.4V503.9M318.5 495.7V509.8M319.5 482.5V502.3M322.5 505.5V516.1M323.5 500.2V518.5M324.5 504.1V532.4M326.5 524.6V540.8M328.5 543.0V553.1M329.5 545.7V558.3M331.5 541.9V569.4M335.5 558.9V562.9M337.5 548.0V566.9M340.5 552.9V571.2M342.5 556.5V569.3M345.5 561.3V575.7M349.5 553.5V569.6M350.5 559.0V577.0M353.5 565.8V582.3M354.5 560.7V570.1M355.5 560.6V568.3M356.5 559.2V566.3M358.5 558.2V577.9M359.5 560.5V569.1M361.5 568.0V580.0M362.5 567.1V573.2M364.5 560.5V578.1M365.5 565.8V587.5M366.5 573.4V598.0M369.5 571.2V588.8M370.5 571.0V578.8M373.5 567.8V586.1M378.5 547.6V578.5M380.5 561.4V569.7M382.5 563.0V578.7M383.5 552.2V566.9M385.5 555.8V568.9M386.5 558.3V574.9M387.5 559.1V571.5M389.5 552.6V577.4M391.5 571.9V581.9M392.5 564.4V580.6M393.5 574.4V584.4M394.5 568.3V579.1M395.5 569.6V573.4M397.5 555.0V568.6M399.5 554.4V566.0M402.5 560.7V566.2M403.5 555.9V569.4M407.5 549.4V573.3M409.5 550.5V564.6M410.5 545.9V562.1M411.5 533.1V550.9M413.5 537.0V548.9M415.5 517.7V540.1M416.5 529.2V539.8M418.5 523.2V532.7M419.5 515.6V537.3M421.5 517.2V528.3M422.5 504.7V533.2M423.5 504.0V516.5M424.5 495.6V515.6M425.5 488.8V504.5M426.5 482.7V508.8M428.5 465.0V485.7M429.5 464.5V478.1M430.5 456.3V481.7M431.5 455.8V463.1M432.5 448.1V458.3M433.5 443.6V454.8M434.5 440.7V455.7M435.5 436.9V448.1M437.5 446.4V452.3M439.5 434.2V458.2M443.5 445.6V451.8M449.5 467.3V477.9M451.5 473.9V482.9M452.5 474.0V479.9M453.5 471.4V486.9M455.5 473.1V485.8M458.5 470.3V490.9M460.5 479.2V491.4M461.5 482.1V487.0M462.5 474.9V488.1M464.5 466.8V477.1M465.5 459.2V474.6M466.5 464.1V474.3M467.5 456.3V470.6M468.5 455.1V474.2M470.5 456.5V468.4M474.5 455.6V463.6M475.5 446.3V460.6M476.5 438.6V454.0M479.5 449.5V465.9M481.5 444.4V457.9M482.5 444.1V454.4M485.5 448.1V458.3M488.5 446.3V463.3M490.5 447.7V459.4M491.5 439.1V454.7M494.5 435.9V452.5M496.5 435.8V448.2M497.5 420.4V441.1M502.5 407.7V436.2M504.5 407.0V426.3M505.5 404.4V415.9M506.5 399.9V410.4M507.5 401.0V412.3M509.5 395.7V409.6M514.5 384.5V409.6M515.5 392.9V395.5M516.5 373.5V394.2M518.5 380.9V386.7M521.5 387.5V392.9M523.5 377.4V389.5M525.5 380.6V385.4M533.5 384.9V396.6M534.5 379.6V392.1M535.5 371.8V385.7M537.5 377.0V388.8M538.5 376.1V390.4M539.5 378.8V388.0M540.5 383.7V387.8M541.5 371.1V386.1M544.5 374.4V382.8M545.5 363.0V380.3M547.5 375.5V386.8M548.5 368.5V384.7M550.5 373.8V389.5M551.5 372.2V382.3M552.5 370.4V378.9M555.5 383.0V391.6M556.5 384.3V391.3M558.5 379.0V392.9M560.5 374.3V385.0M561.5 375.1V384.9M565.5 375.7V391.5M567.5 382.2V390.9M569.5 389.0V398.2M570.5 379.0V394.8M571.5 379.0V388.4M575.5 384.9V392.3M576.5 383.5V391.2M578.5 366.7V392.5M581.5 371.0V378.3M582.5 361.9V376.8M584.5 371.0V378.9M588.5 386.3V397.2M589.5 373.5V395.3M591.5 371.8V391.4M594.5 378.6V387.2M596.5 373.2V386.9M599.5 383.5V389.1M600.5 381.2V389.8M603.5 378.7V389.8M605.5 376.8V385.6M607.5 375.3V382.2M608.5 375.5V382.9M609.5 371.4V386.8M610.5 367.4V377.9M611.5 363.1V373.8M612.5 361.4V372.1M616.5 356.0V367.1M618.5 354.7V361.8M620.5 351.0V361.8M621.5 341.0V359.4M622.5 346.4V354.4M625.5 356.5V368.0M626.5 360.8V365.8M630.5 358.6V374.8M632.5 366.6V380.3M633.5 369.6V379.8M634.5 365.7V373.5M635.5 363.9V375.0M636.5 360.5V371.8M637.5 367.2V382.6M639.5 365.1V383.4M640.5 365.7V384.9M641.5 360.3V374.6M647.5 378.5V399.3M648.5 371.4V385.0M650.5 364.3V380.1M652.5 379.8V383.9M654.5 379.9V394.2M656.5 381.0V391.8M657.5 375.0V384.3M659.5 367.0V386.8M661.5 370.2V378.2M664.5 374.4V382.1M667.5 372.2V385.8M671.5 372.9V391.2M673.5 376.3V384.0M674.5 375.0V387.0M675.5 370.0V385.6M676.5 367.4V376.5M678.5 359.7V374.6M680.5 353.7V367.7M681.5 352.0V357.9M683.5 346.8V358.4M684.5 346.1V357.0M685.5 349.3V353.7M687.5 340.8V346.4M688.5 332.5V345.2M690.5 324.2V334.0M693.5 318.9V329.0M694.5 313.4V326.0M695.5 311.5V317.5M696.5 308.7V315.7M697.5 303.1V316.2M699.5 295.7V305.3M700.5 294.9V302.1M701.5 299.5V305.0M704.5 300.9V305.6M705.5 296.9V305.8M706.5 300.6V306.6M708.5 297.5V308.4M709.5 299.0V304.2M710.5 299.2V303.9M713.5 297.5V304.3M714.5 294.2V303.2M715.5 289.3V303.9M716.5 293.1V299.2M717.5 291.3V295.4M719.5 290.8V296.9M720.5 289.9V293.8M721.5 284.0V292.3M725.5 283.8V290.3M727.5 279.2V284.7M729.5 279.9V283.9M730.5 279.3V284.9M731.5 276.4V285.4M732.5 276.2V287.0M733.5 273.1V282.2M734.5 273.4V278.6M736.5 268.5V273.5M737.5 265.7V273.5M738.5 263.4V268.3M739.5 262.0V269.3M742.5 257.4V269.7M747.5 262.7V269.3M753.5 264.6V274.0M756.5 265.5V267.8M759.5 259.5V266.7M760.5 262.3V270.4M761.5 262.9V268.4M763.5 260.4V265.3M764.5 260.7V271.1M768.5 264.5V270.8M769.5 264.9V271.6M771.5 264.5V270.9M774.5 267.7V274.6M775.5 265.0V272.3M778.5 262.9V267.9M779.5 260.9V266.5M780.5 259.5V264.9M783.5 258.2V262.8M784.5 259.3V261.9M785.5 255.5V262.2M786.5 248.4V263.3M788.5 252.6V263.5M790.5 250.9V255.7M791.5 251.3V257.6M793.5 255.1V261.1M794.5 252.6V259.5M796.5 260.3V265.5M798.5 257.7V273.3M799.5 260.6V266.5M803.5 264.6V270.1M806.5 269.5V276.7M807.5 267.6V282.5M809.5 275.0V285.4M810.5 276.7V285.9M814.5 281.4V288.9M816.5 283.9V288.8M819.5 280.6V294.5M820.5 281.7V289.7M823.5 281.3V287.0M828.5 283.2V290.0M830.5 284.2V289.0M831.5 279.7V288.9M836.5 283.1V292.9M837.5 285.2V289.5M838.5 286.6V289.8M839.5 282.5V293.0M843.5 283.1V288.9M844.5 282.7V289.1M845.5 279.4V286.9M847.5 278.3V285.4M849.5 277.1V284.4M850.5 279.3V282.0M854.5 286.7V294.6M855.5 285.9V292.0M857.5 288.3V293.0M862.5 302.9V316.1M865.5 309.5V314.7M866.5 309.8V320.4M867.5 311.5V321.4M868.5 315.5V331.4M870.5 331.1V344.2M873.5 358.3V368.1M874.5 357.9V373.9M876.5 369.6V385.5M878.5 387.0V398.0M884.5 382.9V402.9M885.5 377.7V392.9M888.5 380.9V400.1M891.5 388.6V398.4M895.5 389.0V395.6M896.5 374.0V394.6M897.5 373.2V387.0M899.5 389.2V395.9M900.5 381.6V391.9M901.5 383.2V394.6M904.5 384.2V391.0M905.5 382.5V389.2M908.5 384.2V405.2M910.5 386.2V403.8M911.5 386.7V404.3M913.5 380.4V406.5M915.5 390.3V402.7M918.5 375.8V399.0M919.5 369.8V385.7M921.5 379.5V391.7M923.5 373.4V393.0M926.5 368.5V378.1M927.5 366.2V372.7M931.5 378.1V393.8M933.5 374.6V387.2M935.5 369.1V385.8M936.5 363.3V374.2M937.5 362.3V376.5M939.5 366.0V384.9M940.5 360.6V370.7M941.5 354.6V368.8M942.5 347.1V364.8M945.5 362.2V366.6M946.5 352.3V368.6M947.5 356.7V366.8M949.5 349.9V361.7M950.5 341.3V365.3M953.5 330.6V355.1M954.5 324.9V338.0M955.5 327.4V345.4M957.5 320.2V338.9M958.5 313.3V334.1M960.5 310.1V334.8M963.5 319.7V329.0M965.5 317.7V345.5M966.5 333.0V342.2M968.5 314.7V327.9M969.5 311.1V326.2M972.5 313.5V324.7M975.5 321.8V329.2M976.5 319.2V337.1M977.5 318.8V328.2M979.5 326.1V337.1M982.5 326.5V342.8M984.5 326.8V352.0M986.5 333.8V350.2M987.5 328.8V341.4M988.5 327.3V337.1M990.5 338.9V346.6M1001.5 432.3V449.5M1003.5 435.2V465.4M1005.5 421.0V444.1M1007.5 403.9V433.1M1009.5 416.0V431.5M1013.5 409.3V433.3M1014.5 405.4V436.5M1015.5 414.6V426.3M1016.5 418.7V422.5M1017.5 406.0V426.9M1019.5 410.9V424.7M1020.5 391.8V413.9M1021.5 399.3V410.7M1022.5 400.0V405.9M1023.5 394.5V404.4M1026.5 398.7V420.4M1029.5 425.7V431.5M1033.5 437.6V448.8M1034.5 423.4V446.1M1035.5 412.6V428.2M1036.5 402.3V422.1M1037.5 399.2V412.7M1038.5 403.7V409.9M1040.5 403.8V411.5M1041.5 400.2V409.4M1042.5 390.1V408.3M1043.5 393.2V399.9M1044.5 380.2V401.9M1046.5 390.2V396.0M1047.5 391.6V407.3M1048.5 390.8V403.6M1049.5 382.7V398.9M1053.5 377.7V391.7M1055.5 378.1V393.4M1062.5 381.0V394.8M1063.5 378.0V392.5M1066.5 383.9V398.9M1067.5 378.1V394.5M1068.5 376.5V382.8M1069.5 371.1V382.5M1070.5 358.9V378.2M1072.5 366.1V383.4M1076.5 389.8V400.6M1077.5 387.7V400.8M1081.5 398.0V413.0M1083.5 393.5V408.1M1084.5 394.2V408.9M1087.5 401.3V411.3M1089.5 401.0V416.6M1090.5 407.9V419.2M1092.5 401.6V418.7M1093.5 403.8V418.4M1094.5 399.3V424.0M1099.5 402.1V414.6M1100.5 399.3V408.8M1101.5 390.1V411.6M1104.5 415.0V422.3M1105.5 416.1V422.2M1110.5 423.4V428.2M1112.5 428.4V444.6M1116.5 420.9V432.2M1120.5 429.0V434.4M1122.5 427.6V435.8M1125.5 427.3V439.3M1127.5 433.2V445.9M1130.5 438.6V444.2M1131.5 432.8V449.5M1138.5 427.8V442.4M1139.5 428.0V438.8M1140.5 431.0V438.9M1141.5 429.7V440.1M1145.5 431.5V439.2M1146.5 425.2V438.9M1148.5 440.7V450.3M1149.5 443.5V451.5M1152.5 448.7V472.0M1153.5 451.2V462.0M1154.5 452.1V461.7M1155.5 452.9V462.5M1156.5 439.7V460.8M1158.5 441.1V462.8M1159.5 442.1V455.5M1160.5 437.3V454.9M1161.5 445.2V452.5M1163.5 444.3V454.1M1166.5 443.3V452.8M1167.5 436.3V455.8M1168.5 419.9V442.3M1170.5 395.0V418.6M1171.5 385.5V407.1M1177.5 413.6V422.8M1179.5 400.6V423.3M1182.5 405.3V430.7M1183.5 402.3V418.5M1185.5 416.0V425.6M1187.5 415.8V437.1M1190.5 427.0V440.0M1191.5 423.3V436.5M1193.5 420.1V434.0M1195.5 414.3V430.9M1198.5 423.3V431.0M1201.5 433.5V439.2M1202.5 430.4V448.5M1203.5 437.1V448.6M1204.5 432.1V443.8M1209.5 434.3V443.7M1210.5 431.6V443.5M1211.5 438.3V445.4M1215.5 444.0V460.5M1216.5 443.6V451.0M1221.5 464.9V473.0M1222.5 457.5V474.5M1223.5 456.6V466.8M1225.5 456.3V465.4M1228.5 463.5V478.9M1230.5 468.9V485.8M1231.5 474.8V482.9M1232.5 461.3V483.0M1234.5 483.8V488.6M1238.5 492.2V515.4M1239.5 507.5V516.7M1240.5 503.6V516.8M1241.5 507.8V519.6M1245.5 530.2V544.1M1247.5 548.5V562.0M1248.5 547.8V566.1M1249.5 557.2V564.1M1250.5 550.8V572.0M1252.5 539.8V557.9M1253.5 528.4V543.4M1254.5 522.4V537.6M1255.5 512.1V526.7M1256.5 512.7V521.1M1257.5 515.9V527.8M1258.5 510.6V520.6M1261.5 513.4V523.2M1264.5 505.7V520.8M1266.5 510.4V522.8M1269.5 501.8V513.8M1271.5 486.0V496.0M1272.5 483.2V490.0M1274.5 480.0V489.3M1275.5 479.8V488.7M1276.5 474.9V488.8M1277.5 478.2V491.2M1278.5 468.5V486.7M1279.5 468.3V480.3M1280.5 470.8V480.0M1281.5 469.3V479.3M1284.5 474.9V481.8M1285.5 464.2V483.1M1288.5 460.2V481.6M1289.5 465.3V469.5M1295.5 459.1V474.6M1298.5 453.9V464.8M1303.5 460.4V474.6M1304.5 462.5V469.1M1305.5 455.5V471.3M1306.5 451.5V459.9M1308.5 444.7V466.9M1310.5 450.5V460.4M1311.5 444.6V457.4M1312.5 436.5V453.1M1314.5 422.5V444.0M1316.5 420.9V428.4M1317.5 403.4V427.6M1318.5 401.1V407.5M1319.5 396.5V404.4M1321.5 402.2V412.6M1322.5 403.8V411.2M1325.5 421.6V435.1M1327.5 428.0V436.4M1328.5 429.2V435.5M1333.5 427.8V439.9M1335.5 439.4V446.6M1336.5 437.7V445.2M1338.5 438.3V449.6M1339.5 437.8V442.7M1341.5 435.2V444.5M1342.5 436.0V444.4M1343.5 433.5V440.8M1344.5 426.8V439.6M1347.5 429.4V438.9M1348.5 429.7V437.8M1349.5 427.9V436.6M1350.5 424.7V430.8M1352.5 421.4V438.5M1353.5 419.5V434.1M1354.5 419.5V431.8M1355.5 419.6V425.2M1360.5 420.7V434.2M1362.5 420.4V431.2M1363.5 424.6V433.9M1368.5 416.7V423.9M1369.5 415.1V423.8M1371.5 413.7V423.9M1372.5 415.6V421.8M1373.5 416.0V426.3M1374.5 414.5V428.7M1377.5 421.3V432.6M1378.5 416.5V427.6M1379.5 411.0V420.7M1380.5 407.1V419.5M1382.5 410.2V417.3M1384.5 406.9V417.0M1385.5 400.4V425.3M1388.5 404.3V419.8M1390.5 410.4V415.7M1391.5 408.8V419.6M1392.5 412.0V419.5M1393.5 405.7V420.1M1395.5 405.9V420.6M1396.5 399.2V413.3M1399.5 407.1V412.8M1400.5 400.5V410.9M1402.5 402.5V417.4M1403.5 408.3V413.4M1404.5 399.3V414.6M1405.5 399.7V408.0M1406.5 399.0V403.5M1407.5 390.6V402.3M1408.5 386.8V401.1M1409.5 386.1V391.6M1411.5 387.1V395.6M1416.5 389.8V393.6M1417.5 383.7V400.2M1418.5 384.9V388.2M1422.5 377.0V387.3M1424.5 378.6V388.5M1425.5 374.7V380.3M1428.5 360.6V377.9M1429.5 365.1V370.0M1430.5 365.1V374.2M1432.5 361.9V377.0M1435.5 368.6V377.1M1437.5 367.2V373.3M1440.5 365.3V375.5M1441.5 363.9V375.0M1442.5 362.5V374.6M1444.5 354.9V367.0M1445.5 358.9V367.5M1446.5 360.6V366.6M1449.5 357.9V365.1M1450.5 357.8V365.2M1451.5 353.6V363.3M1452.5 353.0V359.9M1453.5 352.4V365.1M1457.5 349.6V366.2M1458.5 356.3V359.9M1460.5 346.3V362.4M1463.5 351.6V360.6M1464.5 351.0V358.1M1465.5 349.2V356.1M1467.5 348.2V356.4M1468.5 346.1V350.7M1469.5 344.3V350.3M1470.5 342.2V348.1M1474.5 348.5V360.6M1476.5 343.6V358.1M1481.5 345.3V351.4M1482.5 342.8V350.7M1488.5 349.0V352.6M1492.5 352.8V364.3M1493.5 360.4V375.3M1494.5 361.5V375.4M1496.5 363.2V367.6M1497.5 360.4V366.7M1499.5 356.8V360.9M1501.5 353.9V363.3M1504.5 359.1V363.5M1505.5 355.5V362.0M1508.5 360.2V363.7M1509.5 356.4V365.6M1510.5 355.0V361.9M1511.5 353.8V361.8M1512.5 348.9V357.8M1514.5 344.7V357.1M1515.5 335.6V350.8M1517.5 334.9V342.0M1519.5 322.0V333.5M1521.5 306.7V328.9M1522.5 304.3V315.0M1523.5 299.4V310.5M1524.5 299.3V305.1M1527.5 297.6V306.9M1528.5 295.7V304.1M1530.5 295.5V308.9M1536.5 299.6V311.0M1537.5 301.9V305.6M1538.5 296.5V311.3M1539.5 304.9V308.1M1542.5 312.5V318.2M1544.5 315.9V326.4M1548.5 335.8V352.4M1549.5 341.5V352.5M1551.5 338.6V350.6M1552.5 340.0V345.8M1553.5 340.4V345.1M1554.5 332.5V353.9M1555.5 330.0V336.8M1557.5 317.7V338.2M1558.5 316.8V323.2M1560.5 313.2V324.6M1561.5 315.7V318.0M1567.5 308.3V321.3M1568.5 309.2V316.8M1569.5 303.3V314.9M1571.5 306.7V316.3M1574.5 304.9V310.3M1575.5 301.2V311.5M1577.5 306.2V311.6M1579.5 308.0V312.3M1580.5 307.8V313.0M1581.5 306.4V312.4M1583.5 304.6V312.0M1585.5 305.2V314.8M1586.5 302.5V306.8M1587.5 298.6V313.7M1588.5 296.6V311.8M1592.5 304.5V309.9M1598.5 294.1V304.3M1599.5 289.9V300.5M1600.5 293.3V299.2M1601.5 291.4V298.5M1603.5 286.7V298.1M1604.5 287.2V294.5M1605.5 286.1V293.5M1607.5 290.4V298.5M1610.5 294.4V302.1M1611.5 297.5V301.2M1614.5 301.6V308.0M1618.5 305.0V315.8M1620.5 304.3V308.8M1621.5 298.5V312.0M1622.5 297.8V304.6M1623.5 297.5V311.2M1624.5 293.3V302.1M1627.5 294.1V304.8M1632.5 298.2V305.2M1638.5 295.9V311.4M1639.5 299.0V309.4M1642.5 303.3V313.3M1644.5 305.9V312.9M1649.5 307.9V314.4M1651.5 312.6V315.9M1658.5 331.0V339.3M1659.5 331.3V336.1M1662.5 327.6V338.8M1663.5 328.8V335.7M1666.5 318.7V329.9M1668.5 312.0V323.5M1670.5 315.1V323.7M1672.5 310.2V320.3M1676.5 308.4V321.1M1678.5 308.2V317.6M1680.5 306.8V317.3M1681.5 309.6V317.9M1684.5 307.5V319.7M1685.5 310.2V318.1M1686.5 304.7V314.8M1689.5 303.2V310.5M1690.5 303.6V309.4M1692.5 303.4V314.8M1694.5 304.8V311.9M1696.5 296.2V311.3M1698.5 299.9V311.3M1700.5 299.7V307.1M1705.5 300.3V311.9M1707.5 295.8V308.5M1710.5 292.9V305.2M1711.5 291.9V297.2M1713.5 290.9V300.7M1715.5 280.3V299.8M1716.5 280.2V293.4M1718.5 285.9V297.5" stroke="#3a9c88" stroke-width="1" fill="none" shape-rendering="crispEdges"/>
<path d="M6.5 231.8V246.4M7.5 233.6V249.3M8.5 229.3V250.3M9.5 234.2V250.3M11.5 230.8V247.8M12.5 230.6V256.7M14.5 235.6V257.0M15.5 229.4V256.9M16.5 250.9V260.5M18.5 250.1V268.5M20.5 236.6V269.5M22.5 252.0V273.8M24.5 246.7V262.5M26.5 253.3V265.4M29.5 257.6V293.8M37.5 266.6V283.2M38.5 275.0V310.4M40.5 303.2V319.3M42.5 280.6V307.6M46.5 266.8V296.9M48.5 268.3V294.0M51.5 268.5V304.0M52.5 293.6V308.6M53.5 293.5V313.6M55.5 293.9V335.0M56.5 312.2V328.3M58.5 321.1V334.5M59.5 328.3V350.9M60.5 338.7V349.4M62.5 323.4V345.3M66.5 347.6V362.6M67.5 346.3V365.5M69.5 334.7V357.9M70.5 349.0V364.3M71.5 355.3V367.2M72.5 360.5V388.4M73.5 366.8V381.1M74.5 362.2V373.5M75.5 371.9V403.8M77.5 394.0V417.4M78.5 408.0V464.7M79.5 451.4V492.9M80.5 488.4V533.7M81.5 518.5V532.6M82.5 514.9V545.1M89.5 422.6V442.8M95.5 411.5V417.7M97.5 412.9V417.9M99.5 407.8V415.7M101.5 399.3V425.2M104.5 403.3V437.1M108.5 446.9V463.3M112.5 423.4V446.4M114.5 419.0V437.2M115.5 413.9V421.7M116.5 419.1V433.4M119.5 408.8V435.5M121.5 409.3V429.9M122.5 425.0V439.2M123.5 430.6V456.8M124.5 449.6V480.4M126.5 487.6V526.0M127.5 523.1V552.3M130.5 510.5V528.9M131.5 498.8V522.0M134.5 473.3V485.2M136.5 476.0V490.3M139.5 453.4V461.1M143.5 423.5V438.6M144.5 426.9V436.7M145.5 430.0V458.3M146.5 452.7V469.6M147.5 465.9V491.2M148.5 484.4V512.9M149.5 499.1V526.0M150.5 520.4V543.3M151.5 537.6V552.0M152.5 549.4V569.0M156.5 521.4V550.0M157.5 514.4V543.8M159.5 495.2V524.9M160.5 508.3V522.7M162.5 507.9V519.5M166.5 505.2V517.6M167.5 512.2V522.4M170.5 503.2V516.3M171.5 504.1V520.0M173.5 505.8V526.8M175.5 508.2V522.1M177.5 525.3V538.4M178.5 528.2V532.9M180.5 520.6V559.5M181.5 544.3V562.4M182.5 553.3V575.8M184.5 577.9V595.8M187.5 589.8V608.5M188.5 585.6V606.8M192.5 564.5V573.4M196.5 549.8V568.8M197.5 559.2V574.1M199.5 552.3V580.7M201.5 562.7V590.9M202.5 577.1V589.3M203.5 575.5V589.9M205.5 587.5V607.6M207.5 596.3V607.1M208.5 594.9V613.3M209.5 607.0V627.1M210.5 623.5V646.4M212.5 628.9V643.2M214.5 628.9V645.4M216.5 625.8V657.7M219.5 632.3V650.5M220.5 629.3V656.7M222.5 640.1V656.0M224.5 638.9V649.6M225.5 635.7V652.9M228.5 627.5V650.8M230.5 630.9V654.5M231.5 633.7V645.2M233.5 611.2V629.2M235.5 615.5V636.3M239.5 601.5V627.7M241.5 607.6V620.2M242.5 615.2V625.9M245.5 594.8V610.1M246.5 594.1V614.3M249.5 600.1V616.0M251.5 588.4V598.4M256.5 547.3V555.5M257.5 532.5V555.0M259.5 542.9V553.1M260.5 535.9V552.4M261.5 532.1V555.8M262.5 540.3V559.4M263.5 536.5V555.9M264.5 539.0V554.7M265.5 547.9V560.9M266.5 550.5V574.2M268.5 554.5V572.4M270.5 549.2V566.3M272.5 538.4V557.9M277.5 528.4V540.0M281.5 515.1V528.8M286.5 491.2V503.6M287.5 491.5V498.1M289.5 480.6V496.5M290.5 480.1V509.0M292.5 495.7V505.6M294.5 487.8V499.3M296.5 467.7V478.0M298.5 467.0V481.9M299.5 477.3V500.4M301.5 486.4V518.5M302.5 503.6V523.4M303.5 515.0V525.3M304.5 511.0V529.1M305.5 523.5V533.1M308.5 527.4V539.8M310.5 504.2V531.5M311.5 522.3V534.6M313.5 513.5V533.6M314.5 511.1V531.2M320.5 486.4V514.9M321.5 506.8V518.7M325.5 524.3V537.8M327.5 525.1V555.9M330.5 542.0V566.9M332.5 550.5V558.0M333.5 546.6V564.4M334.5 556.7V564.3M336.5 552.8V565.4M338.5 551.4V572.1M339.5 555.2V566.2M341.5 557.0V569.8M343.5 557.2V569.5M344.5 556.0V580.1M346.5 562.4V578.7M347.5 564.2V579.1M348.5 563.5V568.3M351.5 545.8V567.8M352.5 560.4V582.3M357.5 557.1V571.2M360.5 559.7V577.7M363.5 567.3V581.0M367.5 575.2V591.6M368.5 584.1V592.9M371.5 573.4V596.7M372.5 579.0V582.3M374.5 565.8V581.3M375.5 576.7V584.9M376.5 565.6V584.9M377.5 571.0V575.1M379.5 550.2V564.8M381.5 561.2V577.0M384.5 552.8V570.7M388.5 558.9V572.7M390.5 564.0V577.8M396.5 561.2V573.7M398.5 552.7V565.1M400.5 551.5V568.2M401.5 559.7V570.0M404.5 554.3V567.2M405.5 555.0V566.2M406.5 560.4V571.8M408.5 558.7V565.3M412.5 525.1V545.5M414.5 522.0V541.0M417.5 520.2V541.4M420.5 517.7V528.4M427.5 475.2V493.4M436.5 443.6V452.7M438.5 444.5V454.6M440.5 437.1V452.1M441.5 443.2V452.1M442.5 441.9V453.8M444.5 446.7V457.9M445.5 452.3V464.4M446.5 453.1V470.1M447.5 461.6V473.4M448.5 465.0V479.5M450.5 467.8V483.5M454.5 466.2V485.0M456.5 475.9V484.6M457.5 480.0V490.1M459.5 478.3V494.4M463.5 471.4V484.9M469.5 458.5V468.8M471.5 457.4V468.0M472.5 460.0V474.5M473.5 451.3V468.6M477.5 449.2V455.5M478.5 450.6V460.7M480.5 452.5V456.9M483.5 447.3V462.2M484.5 448.7V462.0M486.5 449.3V459.7M487.5 445.7V462.1M489.5 442.5V457.9M492.5 442.3V450.6M493.5 443.5V452.2M495.5 435.7V458.9M498.5 420.5V430.0M499.5 424.3V429.7M500.5 416.0V430.6M501.5 413.2V432.3M503.5 403.4V420.4M508.5 396.8V413.9M510.5 404.7V410.5M511.5 390.6V411.4M512.5 388.7V402.6M513.5 393.0V400.5M517.5 381.7V388.1M519.5 378.0V382.8M520.5 377.5V394.1M522.5 383.2V396.9M524.5 376.6V391.6M526.5 376.9V385.0M527.5 378.0V384.9M528.5 372.7V393.8M529.5 374.6V390.8M530.5 376.8V383.5M531.5 367.7V382.6M532.5 377.7V393.8M536.5 375.7V384.4M542.5 376.5V382.0M543.5 377.4V386.4M546.5 365.6V381.5M549.5 371.2V380.2M553.5 372.8V390.6M554.5 377.9V395.5M557.5 382.7V389.8M559.5 369.9V393.9M562.5 372.4V387.7M563.5 378.2V388.1M564.5 380.5V387.8M566.5 379.2V388.7M568.5 380.5V394.6M572.5 385.7V394.0M573.5 385.2V393.3M574.5 387.9V394.9M577.5 385.3V394.8M579.5 370.3V385.5M580.5 368.3V381.5M583.5 368.5V380.8M585.5 374.1V380.7M586.5 372.6V383.8M587.5 374.1V390.7M590.5 379.8V386.6M592.5 373.6V389.0M593.5 380.5V389.1M595.5 372.1V386.5M597.5 378.9V385.2M598.5 381.2V392.4M601.5 368.6V388.6M602.5 372.2V389.9M604.5 374.2V385.8M606.5 377.4V384.9M613.5 361.0V370.6M614.5 357.5V366.4M615.5 356.5V368.7M617.5 356.4V362.3M619.5 355.5V362.9M623.5 348.8V353.6M624.5 351.1V367.0M627.5 353.6V371.0M628.5 363.2V369.0M629.5 361.3V375.5M631.5 360.7V382.1M638.5 371.6V387.2M642.5 364.6V381.4M643.5 375.8V380.6M644.5 373.6V384.8M645.5 380.1V388.4M646.5 377.1V395.0M649.5 369.6V377.4M651.5 361.5V382.8M653.5 378.8V390.9M655.5 383.1V394.6M658.5 373.1V391.0M660.5 363.0V383.7M662.5 370.5V382.0M663.5 380.5V387.4M665.5 373.5V389.0M666.5 374.1V380.3M668.5 364.7V380.5M669.5 375.0V386.1M670.5 378.5V387.2M672.5 373.8V384.4M677.5 368.9V375.4M679.5 356.9V368.4M682.5 351.2V358.3M686.5 340.6V356.5M689.5 328.7V338.5M691.5 326.0V331.2M692.5 321.3V332.4M698.5 302.3V306.9M702.5 296.4V304.1M703.5 300.5V304.6M707.5 299.0V313.3M711.5 295.1V305.8M712.5 295.4V304.2M718.5 290.2V299.2M722.5 283.3V288.3M723.5 284.3V288.3M724.5 285.9V294.5M726.5 278.5V288.1M728.5 277.8V284.0M735.5 271.8V276.3M740.5 260.0V273.9M741.5 261.9V267.9M743.5 256.8V273.0M744.5 266.3V268.3M745.5 260.9V272.3M746.5 263.4V269.5M748.5 259.3V270.4M749.5 257.2V269.4M750.5 263.7V272.2M751.5 266.0V273.5M752.5 267.3V273.4M754.5 262.5V274.5M755.5 262.9V271.0M757.5 262.8V271.9M758.5 263.3V271.8M762.5 257.5V264.9M765.5 263.9V269.7M766.5 265.8V271.8M767.5 268.0V270.4M770.5 265.9V273.8M772.5 267.2V270.8M773.5 267.6V271.8M776.5 264.4V269.1M777.5 262.7V268.2M781.5 259.1V262.8M782.5 256.1V263.9M787.5 249.3V263.6M789.5 252.1V261.4M792.5 252.7V259.1M795.5 253.7V263.1M797.5 263.5V271.0M800.5 258.2V268.4M801.5 264.9V271.5M802.5 265.6V270.6M804.5 264.9V275.8M805.5 267.1V277.7M808.5 268.7V279.5M811.5 277.1V288.1M812.5 281.3V290.8M813.5 285.3V289.6M815.5 284.0V290.8M817.5 280.8V289.9M818.5 281.0V293.5M821.5 283.7V294.8M822.5 282.1V296.4M824.5 280.1V288.2M825.5 282.6V287.6M826.5 283.4V288.8M827.5 285.8V290.5M829.5 281.9V289.3M832.5 281.7V290.9M833.5 287.1V292.5M834.5 286.5V294.0M835.5 288.6V300.2M840.5 284.2V294.0M841.5 284.3V291.2M842.5 281.3V289.0M846.5 279.8V285.8M848.5 279.3V286.3M851.5 279.2V286.0M852.5 280.5V289.2M853.5 284.1V292.6M856.5 282.6V294.8M858.5 286.9V295.3M859.5 289.9V299.5M860.5 295.3V304.4M861.5 299.1V310.7M863.5 302.5V311.9M864.5 304.2V316.4M869.5 322.5V338.7M871.5 338.0V357.2M872.5 349.7V369.7M875.5 365.5V372.8M877.5 375.5V394.2M879.5 386.4V392.3M880.5 385.1V396.5M881.5 387.1V393.1M882.5 386.1V404.0M883.5 388.7V399.4M886.5 379.9V391.1M887.5 381.3V400.0M889.5 380.5V398.5M890.5 383.8V401.2M892.5 382.9V400.3M893.5 380.5V397.0M894.5 384.6V392.4M898.5 378.0V395.5M902.5 385.9V395.1M903.5 386.3V396.0M906.5 381.6V405.5M907.5 394.0V404.1M909.5 390.0V400.8M912.5 383.4V401.2M914.5 382.2V395.7M916.5 388.6V397.0M917.5 392.4V397.5M920.5 369.9V388.8M922.5 377.0V392.4M924.5 359.7V388.0M925.5 359.3V381.5M928.5 363.1V386.2M929.5 377.4V386.2M930.5 374.5V389.4M932.5 373.2V385.6M934.5 377.4V388.7M938.5 363.7V376.8M943.5 353.0V376.3M944.5 359.1V382.3M948.5 349.2V368.2M951.5 340.9V346.8M952.5 339.0V355.9M956.5 327.5V339.1M959.5 312.6V337.2M961.5 314.2V331.0M962.5 324.0V332.8M964.5 319.0V327.1M967.5 318.5V336.7M970.5 311.2V323.7M971.5 316.1V332.9M973.5 317.9V326.3M974.5 314.2V330.2M978.5 309.1V340.0M980.5 325.8V343.6M981.5 336.3V344.8M983.5 325.2V342.6M985.5 325.5V344.3M989.5 327.9V347.3M991.5 332.9V361.1M992.5 346.1V371.7M993.5 366.4V378.2M994.5 375.3V389.4M995.5 376.9V408.3M996.5 401.8V412.4M997.5 409.0V431.5M998.5 417.4V437.7M999.5 426.4V441.6M1000.5 433.7V454.8M1002.5 441.6V454.0M1004.5 435.6V443.5M1006.5 421.3V430.1M1008.5 405.5V428.0M1010.5 416.6V430.3M1011.5 409.4V436.9M1012.5 417.0V434.9M1018.5 405.7V418.6M1024.5 400.3V422.5M1025.5 410.1V419.4M1027.5 405.9V417.6M1028.5 412.0V432.5M1030.5 419.6V433.7M1031.5 419.7V452.3M1032.5 439.4V456.3M1039.5 391.7V410.4M1045.5 383.0V410.9M1050.5 377.8V393.2M1051.5 385.8V397.7M1052.5 380.6V393.2M1054.5 382.2V391.7M1056.5 381.0V390.1M1057.5 381.5V396.4M1058.5 392.1V401.0M1059.5 382.3V406.3M1060.5 382.8V391.8M1061.5 385.1V395.8M1064.5 374.6V395.8M1065.5 381.2V398.5M1071.5 370.0V387.2M1073.5 371.5V382.1M1074.5 372.0V399.4M1075.5 392.9V398.9M1078.5 390.3V411.6M1079.5 400.5V413.3M1080.5 401.0V412.2M1082.5 398.6V405.3M1085.5 388.8V403.8M1086.5 388.0V410.9M1088.5 393.8V405.8M1091.5 402.4V420.6M1095.5 406.7V417.8M1096.5 407.3V412.7M1097.5 400.0V418.9M1098.5 404.2V420.4M1102.5 398.9V421.7M1103.5 405.9V421.5M1106.5 414.8V425.7M1107.5 417.0V434.1M1108.5 422.4V434.0M1109.5 415.1V433.4M1111.5 421.7V441.9M1113.5 416.6V439.2M1114.5 423.5V432.7M1115.5 423.1V430.8M1117.5 417.9V431.3M1118.5 423.3V428.4M1119.5 415.4V441.9M1121.5 428.4V432.7M1123.5 426.8V434.7M1124.5 428.1V438.5M1126.5 433.3V443.8M1128.5 429.1V443.5M1129.5 430.8V449.6M1132.5 432.2V444.9M1133.5 431.9V449.3M1134.5 439.2V450.4M1135.5 436.4V446.8M1136.5 432.4V449.8M1137.5 439.4V452.2M1142.5 431.9V438.4M1143.5 423.5V436.3M1144.5 434.8V443.9M1147.5 432.9V450.3M1150.5 445.8V460.4M1151.5 455.2V466.5M1157.5 443.1V461.5M1162.5 447.7V452.7M1164.5 440.4V451.1M1165.5 445.0V456.1M1169.5 402.7V424.2M1172.5 388.1V403.0M1173.5 391.4V406.0M1174.5 394.6V409.3M1175.5 400.2V420.8M1176.5 409.4V417.3M1178.5 414.8V422.3M1180.5 404.8V415.5M1181.5 410.7V430.9M1184.5 414.4V427.1M1186.5 414.1V437.0M1188.5 416.1V437.0M1189.5 432.9V439.4M1192.5 422.1V432.4M1194.5 412.5V427.7M1196.5 419.9V434.9M1197.5 418.9V430.3M1199.5 418.3V438.8M1200.5 426.0V447.5M1205.5 430.7V443.4M1206.5 436.7V446.1M1207.5 435.3V440.9M1208.5 433.1V442.6M1212.5 438.1V452.3M1213.5 445.3V455.4M1214.5 447.0V456.3M1217.5 448.2V457.8M1218.5 443.9V460.8M1219.5 453.3V467.1M1220.5 458.1V481.2M1224.5 458.9V471.8M1226.5 456.9V477.5M1227.5 468.9V475.7M1229.5 460.0V477.8M1233.5 475.5V487.4M1235.5 479.6V499.0M1236.5 485.4V499.4M1237.5 488.0V499.9M1242.5 509.6V527.1M1243.5 521.1V531.2M1244.5 526.2V541.3M1246.5 535.1V556.6M1251.5 549.2V558.8M1259.5 506.7V528.1M1260.5 513.9V531.1M1262.5 517.8V525.2M1263.5 514.5V525.6M1265.5 506.8V521.3M1267.5 502.9V515.2M1268.5 494.7V514.4M1270.5 492.2V510.2M1273.5 484.8V492.9M1282.5 471.5V482.4M1283.5 473.0V479.6M1286.5 465.8V471.4M1287.5 461.0V480.3M1290.5 465.6V476.5M1291.5 469.4V482.0M1292.5 473.8V479.9M1293.5 464.1V484.0M1294.5 467.1V476.2M1296.5 452.8V462.7M1297.5 453.0V466.7M1299.5 454.8V465.8M1300.5 461.3V468.4M1301.5 463.0V467.0M1302.5 460.8V473.4M1307.5 455.4V463.4M1309.5 448.1V462.3M1313.5 438.0V443.0M1315.5 423.7V433.7M1320.5 397.7V410.3M1323.5 409.6V419.3M1324.5 411.4V429.0M1326.5 427.9V436.6M1329.5 431.5V435.6M1330.5 433.2V439.1M1331.5 435.7V442.5M1332.5 436.0V441.7M1334.5 430.1V444.9M1337.5 432.6V450.7M1340.5 439.6V443.6M1345.5 430.5V443.1M1346.5 427.5V443.3M1351.5 426.4V434.5M1356.5 415.3V423.1M1357.5 418.8V428.9M1358.5 418.2V426.3M1359.5 423.4V430.0M1361.5 423.2V426.9M1364.5 419.5V431.1M1365.5 415.1V427.8M1366.5 419.3V429.6M1367.5 421.4V428.6M1370.5 418.4V425.2M1375.5 414.6V427.8M1376.5 415.9V431.7M1381.5 406.6V415.6M1383.5 404.8V422.4M1386.5 407.8V420.4M1387.5 408.2V417.4M1389.5 405.3V417.2M1394.5 406.8V414.8M1397.5 395.6V411.5M1398.5 406.3V412.2M1401.5 399.5V404.9M1410.5 386.3V394.6M1412.5 382.3V389.6M1413.5 382.5V388.0M1414.5 380.6V391.8M1415.5 387.5V392.8M1419.5 383.0V388.4M1420.5 377.4V389.0M1421.5 374.4V386.8M1423.5 375.5V386.8M1426.5 375.3V385.5M1427.5 370.2V383.0M1431.5 370.3V375.9M1433.5 368.4V374.8M1434.5 372.9V376.4M1436.5 368.7V373.3M1438.5 366.8V373.8M1439.5 371.1V381.2M1443.5 357.7V369.8M1447.5 361.4V369.0M1448.5 360.5V366.8M1454.5 358.1V361.4M1455.5 353.2V368.1M1456.5 354.7V370.6M1459.5 355.3V364.8M1461.5 347.5V357.6M1462.5 354.6V358.0M1466.5 349.4V356.1M1471.5 335.1V352.0M1472.5 344.0V354.5M1473.5 344.4V357.7M1475.5 348.7V354.4M1477.5 342.5V351.6M1478.5 343.9V348.0M1479.5 344.4V356.0M1480.5 339.1V349.1M1483.5 339.0V352.0M1484.5 346.1V355.4M1485.5 340.7V354.0M1486.5 345.7V356.5M1487.5 348.2V355.4M1489.5 346.2V358.2M1490.5 352.8V359.4M1491.5 353.4V358.6M1495.5 360.9V367.6M1498.5 358.3V369.5M1500.5 354.0V365.4M1502.5 353.8V360.4M1503.5 358.2V362.3M1506.5 355.9V361.9M1507.5 358.2V366.2M1513.5 346.2V359.9M1516.5 338.2V343.4M1518.5 330.1V341.3M1520.5 322.9V326.8M1525.5 298.3V305.0M1526.5 299.7V305.5M1529.5 291.2V308.3M1531.5 299.0V310.2M1532.5 300.4V310.2M1533.5 298.7V311.7M1534.5 302.6V313.1M1535.5 302.6V310.0M1540.5 298.1V315.1M1541.5 310.7V318.1M1543.5 312.9V329.2M1545.5 320.0V334.3M1546.5 326.6V337.5M1547.5 336.1V339.5M1550.5 340.6V346.5M1556.5 330.9V339.8M1559.5 315.5V320.7M1562.5 306.6V317.8M1563.5 305.4V311.1M1564.5 307.0V320.1M1565.5 310.5V317.8M1566.5 309.9V320.6M1570.5 307.1V316.2M1572.5 311.4V316.8M1573.5 305.2V315.0M1576.5 302.8V314.0M1578.5 306.8V316.7M1582.5 304.9V311.8M1584.5 305.0V315.4M1589.5 296.5V304.0M1590.5 302.1V305.8M1591.5 303.0V311.7M1593.5 302.5V314.6M1594.5 303.3V311.0M1595.5 304.7V312.2M1596.5 295.5V308.9M1597.5 299.5V306.3M1602.5 292.2V298.6M1606.5 290.3V294.7M1608.5 291.8V300.7M1609.5 294.4V302.0M1612.5 296.6V304.9M1613.5 298.5V311.8M1615.5 302.9V310.6M1616.5 305.5V309.4M1617.5 300.4V312.6M1619.5 304.2V314.4M1625.5 292.5V304.7M1626.5 295.7V302.3M1628.5 292.7V308.6M1629.5 299.7V304.8M1630.5 295.4V303.3M1631.5 299.0V310.9M1633.5 300.6V308.5M1634.5 300.0V313.9M1635.5 299.8V314.3M1636.5 301.2V308.1M1637.5 302.9V307.8M1640.5 305.2V309.6M1641.5 304.7V314.7M1643.5 304.0V309.6M1645.5 306.4V313.2M1646.5 303.2V310.6M1647.5 303.0V309.5M1648.5 301.8V317.4M1650.5 310.8V320.5M1652.5 309.0V316.1M1653.5 313.5V321.9M1654.5 312.2V321.1M1655.5 311.5V332.0M1656.5 323.3V333.4M1657.5 327.5V336.9M1660.5 331.0V338.3M1661.5 335.6V340.6M1664.5 322.2V332.8M1665.5 321.4V329.2M1667.5 316.0V325.4M1669.5 317.2V325.9M1671.5 312.7V319.1M1673.5 308.2V318.7M1674.5 311.5V317.4M1675.5 313.4V318.2M1677.5 310.2V317.3M1679.5 307.8V316.7M1682.5 310.9V318.6M1683.5 314.1V319.4M1687.5 301.9V314.6M1688.5 299.4V315.2M1691.5 302.1V317.4M1693.5 302.7V310.3M1695.5 302.3V308.8M1697.5 301.9V312.5M1699.5 296.7V306.2M1701.5 300.1V307.3M1702.5 303.5V311.5M1703.5 303.1V310.8M1704.5 304.9V312.5M1706.5 296.4V306.7M1708.5 291.6V304.8M1709.5 296.4V305.4M1712.5 292.9V297.5M1714.5 288.2V300.9M1717.5 285.3V294.9M1719.5 285.3V301.4" stroke="#e4504e" stroke-width="1" fill="none" shape-rendering="crispEdges"/>
<path d="M5.0 239.2L6.5 239.9L8.0 241.1L9.5 242.6L11.0 244.1L12.5 245.6L14.0 247.1L15.5 248.7L17.0 250.2L18.5 251.7L20.0 253.2L21.5 254.8L23.0 256.3L24.5 257.8L26.0 259.2L27.5 260.4L29.0 261.4L30.5 262.2L32.0 262.9L33.5 263.4L35.0 264.0L36.5 264.6L38.0 265.2L39.5 266.0L41.0 266.9L42.5 267.8L44.0 268.8L45.5 269.7L47.0 270.7L48.5 271.8L50.0 273.2L51.5 274.8L53.0 276.6L54.5 278.5L56.0 280.6L57.5 282.7L59.0 284.8L60.5 287.0L62.0 289.5L63.5 292.3L65.0 295.3L66.5 298.6L68.0 302.1L69.5 305.8L71.0 309.8L72.5 314.3L74.0 319.4L75.5 324.9L77.0 330.8L78.5 336.8L80.0 342.8L81.5 348.8L83.0 354.8L84.5 360.9L86.0 366.7L87.5 372.0L89.0 376.4L90.5 379.9L92.0 382.3L93.5 384.1L95.0 385.2L96.5 386.1L98.0 386.7L99.5 387.1L101.0 387.4L102.5 387.8L104.0 388.5L105.5 389.5L107.0 390.8L108.5 392.2L110.0 393.7L111.5 395.1L113.0 396.4L114.5 397.6L116.0 398.7L117.5 399.7L119.0 400.8L120.5 402.1L122.0 403.8L123.5 405.8L125.0 408.3L126.5 411.0L128.0 414.0L129.5 417.1L131.0 420.2L132.5 423.5L134.0 426.9L135.5 430.4L137.0 433.8L138.5 436.9L140.0 439.5L141.5 441.5L143.0 443.2L144.5 444.6L146.0 446.3L147.5 448.4L149.0 451.1L150.5 454.2L152.0 457.8L153.5 461.6L155.0 465.4L156.5 469.2L158.0 472.8L159.5 476.1L161.0 479.0L162.5 481.5L164.0 483.7L165.5 485.7L167.0 487.6L168.5 489.4L170.0 491.1L171.5 492.8L173.0 494.4L174.5 495.9L176.0 497.5L177.5 499.3L179.0 501.4L180.5 503.8L182.0 506.5L183.5 509.4L185.0 512.3L186.5 515.1L188.0 517.8L189.5 520.2L191.0 522.5L192.5 524.6L194.0 526.6L195.5 528.6L197.0 530.7L198.5 532.9L200.0 535.2L201.5 537.6L203.0 540.2L204.5 543.3L206.0 546.9L207.5 551.1L209.0 556.0L210.5 561.5L212.0 567.3L213.5 573.5L215.0 579.9L216.5 586.4L218.0 592.9L219.5 599.1L221.0 604.7L222.5 609.5L224.0 613.5L225.5 616.7L227.0 619.2L228.5 621.0L230.0 622.5L231.5 623.6L233.0 624.2L234.5 624.4L236.0 624.3L237.5 623.8L239.0 623.0L240.5 621.9L242.0 620.7L243.5 619.3L245.0 617.8L246.5 616.1L248.0 614.4L249.5 612.5L251.0 610.7L252.5 608.7L254.0 606.8L255.5 604.8L257.0 602.8L258.5 600.8L260.0 598.6L261.5 596.3L263.0 593.9L264.5 591.4L266.0 588.8L267.5 586.2L269.0 583.3L270.5 580.3L272.0 577.0L273.5 573.5L275.0 569.7L276.5 565.6L278.0 561.2L279.5 556.7L281.0 552.1L282.5 547.9L284.0 544.5L285.5 541.7L287.0 539.7L288.5 538.3L290.0 537.1L291.5 536.0L293.0 534.7L294.5 533.4L296.0 532.0L297.5 530.6L299.0 529.2L300.5 528.0L302.0 527.2L303.5 526.7L305.0 526.7L306.5 526.9L308.0 527.4L309.5 527.8L311.0 528.1L312.5 528.2L314.0 528.2L315.5 528.0L317.0 527.8L318.5 527.7L320.0 527.8L321.5 528.4L323.0 529.4L324.5 530.8L326.0 532.4L327.5 534.1L329.0 535.8L330.5 537.4L332.0 538.8L333.5 540.2L335.0 541.5L336.5 542.8L338.0 544.0L339.5 545.2L341.0 546.3L342.5 547.4L344.0 548.5L345.5 549.5L347.0 550.5L348.5 551.4L350.0 552.3L351.5 553.2L353.0 554.0L354.5 554.7L356.0 555.5L357.5 556.3L359.0 557.2L360.5 558.1L362.0 559.0L363.5 560.0L365.0 561.0L366.5 562.0L368.0 563.0L369.5 564.0L371.0 565.0L372.5 566.0L374.0 566.9L375.5 567.7L377.0 568.3L378.5 568.6L380.0 568.6L381.5 568.3L383.0 567.9L384.5 567.4L386.0 567.1L387.5 566.9L389.0 566.8L390.5 566.8L392.0 567.0L393.5 567.2L395.0 567.4L396.5 567.5L398.0 567.6L399.5 567.4L401.0 567.1L402.5 566.6L404.0 566.0L405.5 565.2L407.0 564.3L408.5 563.1L410.0 561.7L411.5 559.9L413.0 557.8L414.5 555.4L416.0 552.9L417.5 550.1L419.0 547.2L420.5 544.1L422.0 540.8L423.5 537.3L425.0 533.7L426.5 529.9L428.0 526.1L429.5 522.4L431.0 518.7L432.5 515.2L434.0 511.9L435.5 509.0L437.0 506.3L438.5 504.0L440.0 501.8L441.5 499.7L443.0 497.7L444.5 496.0L446.0 494.5L447.5 493.4L449.0 492.6L450.5 492.1L452.0 491.8L453.5 491.5L455.0 491.2L456.5 490.8L458.0 490.4L459.5 490.0L461.0 489.5L462.5 489.0L464.0 488.4L465.5 487.5L467.0 486.5L468.5 485.3L470.0 483.9L471.5 482.4L473.0 481.0L474.5 479.6L476.0 478.3L477.5 477.2L479.0 476.1L480.5 475.1L482.0 474.1L483.5 473.1L485.0 472.1L486.5 471.1L488.0 470.1L489.5 469.0L491.0 468.0L492.5 466.7L494.0 465.1L495.5 463.2L497.0 461.1L498.5 458.7L500.0 456.2L501.5 453.7L503.0 451.2L504.5 448.7L506.0 446.2L507.5 443.7L509.0 441.2L510.5 438.7L512.0 436.2L513.5 433.7L515.0 431.2L516.5 428.7L518.0 426.2L519.5 423.8L521.0 421.4L522.5 419.1L524.0 416.9L525.5 414.9L527.0 412.8L528.5 410.9L530.0 409.1L531.5 407.4L533.0 405.9L534.5 404.7L536.0 403.6L537.5 402.5L539.0 401.6L540.5 400.8L542.0 400.0L543.5 399.3L545.0 398.8L546.5 398.3L548.0 397.8L549.5 397.3L551.0 396.9L552.5 396.6L554.0 396.3L555.5 396.0L557.0 395.7L558.5 395.5L560.0 395.2L561.5 395.0L563.0 394.7L564.5 394.4L566.0 394.2L567.5 393.9L569.0 393.7L570.5 393.4L572.0 393.2L573.5 392.9L575.0 392.7L576.5 392.3L578.0 391.9L579.5 391.4L581.0 390.7L582.5 389.9L584.0 389.0L585.5 388.1L587.0 387.4L588.5 386.7L590.0 386.3L591.5 386.0L593.0 385.8L594.5 385.8L596.0 385.8L597.5 385.7L599.0 385.6L600.5 385.5L602.0 385.2L603.5 385.0L605.0 384.7L606.5 384.3L608.0 383.8L609.5 383.2L611.0 382.3L612.5 381.4L614.0 380.4L615.5 379.4L617.0 378.4L618.5 377.4L620.0 376.4L621.5 375.4L623.0 374.4L624.5 373.4L626.0 372.5L627.5 371.7L629.0 371.1L630.5 370.5L632.0 370.0L633.5 369.6L635.0 369.3L636.5 369.3L638.0 369.6L639.5 370.1L641.0 370.7L642.5 371.5L644.0 372.2L645.5 373.0L647.0 373.7L648.5 374.5L650.0 375.2L651.5 376.0L653.0 376.7L654.5 377.3L656.0 377.8L657.5 378.2L659.0 378.6L660.5 378.8L662.0 379.0L663.5 379.1L665.0 379.0L666.5 378.8L668.0 378.4L669.5 377.9L671.0 377.4L672.5 376.8L674.0 376.0L675.5 375.1L677.0 374.0L678.5 372.8L680.0 371.5L681.5 370.2L683.0 368.7L684.5 367.1L686.0 365.3L687.5 363.4L689.0 361.4L690.5 359.3L692.0 357.2L693.5 354.9L695.0 352.6L696.5 350.2L698.0 347.7L699.5 345.2L701.0 342.7L702.5 340.2L704.0 337.7L705.5 335.2L707.0 332.8L708.5 330.3L710.0 327.9L711.5 325.6L713.0 323.4L714.5 321.2L716.0 319.2L717.5 317.2L719.0 315.3L720.5 313.4L722.0 311.6L723.5 310.0L725.0 308.4L726.5 306.8L728.0 305.3L729.5 303.8L731.0 302.3L732.5 300.8L734.0 299.3L735.5 297.8L737.0 296.2L738.5 294.8L740.0 293.4L741.5 292.0L743.0 290.7L744.5 289.4L746.0 288.2L747.5 287.0L749.0 285.9L750.5 285.0L752.0 284.1L753.5 283.3L755.0 282.5L756.5 281.8L758.0 281.1L759.5 280.5L761.0 279.9L762.5 279.4L764.0 278.9L765.5 278.4L767.0 277.9L768.5 277.4L770.0 276.9L771.5 276.4L773.0 275.9L774.5 275.4L776.0 274.9L777.5 274.4L779.0 274.0L780.5 273.5L782.0 273.1L783.5 272.7L785.0 272.4L786.5 272.0L788.0 271.8L789.5 271.6L791.0 271.4L792.5 271.3L794.0 271.3L795.5 271.3L797.0 271.4L798.5 271.7L800.0 272.1L801.5 272.6L803.0 273.1L804.5 273.6L806.0 274.1L807.5 274.6L809.0 275.2L810.5 275.7L812.0 276.2L813.5 276.7L815.0 277.3L816.5 277.9L818.0 278.6L819.5 279.3L821.0 280.0L822.5 280.7L824.0 281.4L825.5 282.0L827.0 282.6L828.5 283.2L830.0 283.7L831.5 284.2L833.0 284.6L834.5 285.0L836.0 285.4L837.5 285.7L839.0 286.0L840.5 286.2L842.0 286.5L843.5 286.7L845.0 287.0L846.5 287.2L848.0 287.5L849.5 287.8L851.0 288.1L852.5 288.4L854.0 288.8L855.5 289.3L857.0 289.9L858.5 290.6L860.0 291.5L861.5 292.6L863.0 294.1L864.5 295.8L866.0 297.8L867.5 300.2L869.0 302.8L870.5 305.5L872.0 308.4L873.5 311.2L875.0 314.0L876.5 316.8L878.0 319.8L879.5 323.1L881.0 326.5L882.5 329.9L884.0 333.3L885.5 336.5L887.0 339.6L888.5 342.6L890.0 345.4L891.5 348.1L893.0 350.5L894.5 352.8L896.0 354.9L897.5 356.9L899.0 358.8L900.5 360.6L902.0 362.1L903.5 363.4L905.0 364.6L906.5 365.6L908.0 366.6L909.5 367.4L911.0 368.2L912.5 368.8L914.0 369.3L915.5 369.7L917.0 370.1L918.5 370.4L920.0 370.6L921.5 370.7L923.0 370.7L924.5 370.5L926.0 370.4L927.5 370.3L929.0 370.2L930.5 370.1L932.0 370.0L933.5 370.0L935.0 370.0L936.5 369.9L938.0 369.7L939.5 369.4L941.0 368.9L942.5 368.3L944.0 367.6L945.5 366.8L947.0 365.8L948.5 364.6L950.0 363.1L951.5 361.3L953.0 359.4L954.5 357.4L956.0 355.4L957.5 353.5L959.0 351.5L960.5 349.4L962.0 347.4L963.5 345.5L965.0 343.6L966.5 341.8L968.0 340.3L969.5 339.0L971.0 337.9L972.5 336.9L974.0 336.0L975.5 335.4L977.0 335.0L978.5 335.0L980.0 335.3L981.5 335.8L983.0 336.5L984.5 337.3L986.0 338.3L987.5 339.4L989.0 340.6L990.5 342.1L992.0 343.9L993.5 346.1L995.0 348.6L996.5 351.4L998.0 354.4L999.5 357.4L1001.0 360.4L1002.5 363.4L1004.0 366.2L1005.5 368.9L1007.0 371.5L1008.5 373.9L1010.0 376.3L1011.5 378.5L1013.0 380.7L1014.5 382.7L1016.0 384.6L1017.5 386.5L1019.0 388.2L1020.5 390.0L1022.0 391.6L1023.5 393.2L1025.0 394.7L1026.5 396.3L1028.0 397.7L1029.5 399.2L1031.0 400.4L1032.5 401.4L1034.0 402.0L1035.5 402.3L1037.0 402.2L1038.5 402.0L1040.0 401.5L1041.5 401.0L1043.0 400.3L1044.5 399.5L1046.0 398.6L1047.5 397.7L1049.0 396.9L1050.5 396.1L1052.0 395.3L1053.5 394.5L1055.0 393.8L1056.5 393.1L1058.0 392.4L1059.5 391.8L1061.0 391.2L1062.5 390.7L1064.0 390.3L1065.5 389.9L1067.0 389.5L1068.5 389.3L1070.0 389.1L1071.5 389.0L1073.0 389.1L1074.5 389.5L1076.0 390.1L1077.5 391.1L1079.0 392.3L1080.5 393.7L1082.0 395.1L1083.5 396.4L1085.0 397.6L1086.5 398.7L1088.0 399.7L1089.5 400.7L1091.0 401.6L1092.5 402.4L1094.0 403.1L1095.5 403.8L1097.0 404.3L1098.5 404.9L1100.0 405.4L1101.5 406.0L1103.0 406.6L1104.5 407.3L1106.0 408.0L1107.5 408.7L1109.0 409.5L1110.5 410.3L1112.0 411.2L1113.5 412.1L1115.0 413.0L1116.5 414.0L1118.0 415.0L1119.5 416.0L1121.0 417.0L1122.5 418.0L1124.0 419.0L1125.5 420.0L1127.0 421.0L1128.5 422.0L1130.0 423.0L1131.5 424.0L1133.0 425.0L1134.5 426.0L1136.0 427.0L1137.5 427.9L1139.0 428.8L1140.5 429.6L1142.0 430.3L1143.5 430.9L1145.0 431.4L1146.5 432.0L1148.0 432.5L1149.5 433.1L1151.0 433.8L1152.5 434.4L1154.0 435.2L1155.5 435.8L1157.0 436.4L1158.5 436.7L1160.0 436.8L1161.5 436.7L1163.0 436.4L1164.5 436.0L1166.0 435.5L1167.5 435.1L1169.0 434.6L1170.5 434.1L1172.0 433.6L1173.5 433.1L1175.0 432.6L1176.5 432.1L1178.0 431.6L1179.5 431.2L1181.0 430.7L1182.5 430.3L1184.0 429.9L1185.5 429.6L1187.0 429.2L1188.5 429.0L1190.0 428.8L1191.5 428.6L1193.0 428.5L1194.5 428.4L1196.0 428.5L1197.5 428.6L1199.0 428.8L1200.5 429.2L1202.0 429.6L1203.5 430.2L1205.0 430.8L1206.5 431.5L1208.0 432.4L1209.5 433.5L1211.0 434.6L1212.5 435.9L1214.0 437.2L1215.5 438.6L1217.0 440.0L1218.5 441.6L1220.0 443.3L1221.5 445.0L1223.0 446.7L1224.5 448.5L1226.0 450.4L1227.5 452.3L1229.0 454.2L1230.5 456.2L1232.0 458.2L1233.5 460.4L1235.0 462.7L1236.5 465.3L1238.0 468.0L1239.5 470.9L1241.0 473.9L1242.5 476.9L1244.0 479.9L1245.5 482.9L1247.0 485.7L1248.5 488.3L1250.0 490.4L1251.5 492.2L1253.0 493.7L1254.5 495.0L1256.0 496.1L1257.5 497.2L1259.0 498.2L1260.5 499.2L1262.0 500.1L1263.5 500.9L1265.0 501.5L1266.5 501.7L1268.0 501.6L1269.5 501.0L1271.0 500.1L1272.5 498.8L1274.0 497.4L1275.5 495.8L1277.0 494.0L1278.5 492.3L1280.0 490.6L1281.5 489.0L1283.0 487.4L1284.5 485.9L1286.0 484.4L1287.5 483.1L1289.0 481.8L1290.5 480.6L1292.0 479.5L1293.5 478.4L1295.0 477.5L1296.5 476.5L1298.0 475.6L1299.5 474.7L1301.0 473.9L1302.5 473.2L1304.0 472.4L1305.5 471.6L1307.0 470.6L1308.5 469.4L1310.0 468.1L1311.5 466.7L1313.0 465.2L1314.5 463.5L1316.0 461.7L1317.5 459.8L1319.0 457.9L1320.5 455.9L1322.0 454.1L1323.5 452.6L1325.0 451.3L1326.5 450.3L1328.0 449.5L1329.5 448.7L1331.0 448.0L1332.5 447.3L1334.0 446.7L1335.5 446.2L1337.0 445.7L1338.5 445.2L1340.0 444.7L1341.5 444.2L1343.0 443.6L1344.5 443.0L1346.0 442.4L1347.5 441.8L1349.0 441.2L1350.5 440.5L1352.0 439.9L1353.5 439.3L1355.0 438.6L1356.5 438.0L1358.0 437.3L1359.5 436.7L1361.0 436.1L1362.5 435.6L1364.0 435.0L1365.5 434.5L1367.0 434.0L1368.5 433.5L1370.0 432.9L1371.5 432.3L1373.0 431.6L1374.5 430.9L1376.0 430.2L1377.5 429.4L1379.0 428.7L1380.5 427.9L1382.0 427.2L1383.5 426.4L1385.0 425.7L1386.5 424.9L1388.0 424.2L1389.5 423.4L1391.0 422.7L1392.5 421.9L1394.0 421.2L1395.5 420.4L1397.0 419.6L1398.5 418.7L1400.0 417.6L1401.5 416.5L1403.0 415.3L1404.5 414.1L1406.0 412.8L1407.5 411.6L1409.0 410.3L1410.5 409.0L1412.0 407.8L1413.5 406.5L1415.0 405.2L1416.5 403.9L1418.0 402.7L1419.5 401.4L1421.0 400.2L1422.5 398.9L1424.0 397.7L1425.5 396.4L1427.0 395.2L1428.5 394.0L1430.0 392.7L1431.5 391.5L1433.0 390.2L1434.5 389.0L1436.0 387.9L1437.5 386.7L1439.0 385.7L1440.5 384.7L1442.0 383.6L1443.5 382.4L1445.0 381.0L1446.5 379.3L1448.0 377.5L1449.5 375.8L1451.0 374.2L1452.5 372.8L1454.0 371.7L1455.5 370.7L1457.0 369.8L1458.5 368.9L1460.0 368.0L1461.5 367.2L1463.0 366.4L1464.5 365.7L1466.0 365.0L1467.5 364.3L1469.0 363.7L1470.5 363.1L1472.0 362.5L1473.5 362.0L1475.0 361.6L1476.5 361.1L1478.0 360.8L1479.5 360.5L1481.0 360.3L1482.5 360.1L1484.0 360.0L1485.5 359.9L1487.0 359.8L1488.5 359.8L1490.0 359.8L1491.5 359.8L1493.0 359.9L1494.5 359.9L1496.0 360.0L1497.5 360.0L1499.0 360.0L1500.5 360.0L1502.0 360.0L1503.5 359.9L1505.0 359.7L1506.5 359.4L1508.0 359.0L1509.5 358.5L1511.0 357.9L1512.5 357.1L1514.0 356.1L1515.5 354.7L1517.0 353.0L1518.5 350.9L1520.0 348.7L1521.5 346.3L1523.0 343.8L1524.5 341.4L1526.0 339.0L1527.5 336.6L1529.0 334.3L1530.5 332.3L1532.0 330.5L1533.5 329.0L1535.0 327.7L1536.5 326.6L1538.0 325.7L1539.5 325.0L1541.0 324.6L1542.5 324.3L1544.0 324.2L1545.5 324.1L1547.0 324.0L1548.5 323.9L1550.0 323.7L1551.5 323.6L1553.0 323.5L1554.5 323.3L1556.0 323.1L1557.5 322.8L1559.0 322.5L1560.5 322.0L1562.0 321.6L1563.5 321.1L1565.0 320.6L1566.5 320.0L1568.0 319.5L1569.5 319.1L1571.0 318.6L1572.5 318.1L1574.0 317.6L1575.5 317.1L1577.0 316.7L1578.5 316.3L1580.0 315.9L1581.5 315.6L1583.0 315.2L1584.5 314.8L1586.0 314.5L1587.5 314.1L1589.0 313.7L1590.5 313.3L1592.0 312.9L1593.5 312.5L1595.0 312.0L1596.5 311.5L1598.0 311.0L1599.5 310.4L1601.0 309.8L1602.5 309.3L1604.0 308.8L1605.5 308.4L1607.0 308.0L1608.5 307.8L1610.0 307.6L1611.5 307.5L1613.0 307.5L1614.5 307.6L1616.0 307.8L1617.5 308.0L1619.0 308.2L1620.5 308.4L1622.0 308.5L1623.5 308.4L1625.0 308.3L1626.5 308.1L1628.0 307.8L1629.5 307.6L1631.0 307.4L1632.5 307.3L1634.0 307.2L1635.5 307.2L1637.0 307.2L1638.5 307.3L1640.0 307.4L1641.5 307.6L1643.0 308.0L1644.5 308.4L1646.0 308.9L1647.5 309.4L1649.0 310.0L1650.5 310.5L1652.0 311.2L1653.5 311.9L1655.0 312.6L1656.5 313.3L1658.0 313.9L1659.5 314.5L1661.0 315.0L1662.5 315.4L1664.0 315.7L1665.5 316.0L1667.0 316.2L1668.5 316.4L1670.0 316.4L1671.5 316.4L1673.0 316.3L1674.5 316.2L1676.0 316.0L1677.5 315.9L1679.0 315.7L1680.5 315.6L1682.0 315.5L1683.5 315.4L1685.0 315.2L1686.5 315.2L1688.0 315.1L1689.5 315.0L1691.0 315.0L1692.5 315.0L1694.0 315.0L1695.5 315.0L1697.0 314.9L1698.5 314.8L1700.0 314.6L1701.5 314.4L1703.0 314.1L1704.5 313.8L1706.0 313.5L1707.5 313.0L1709.0 312.4L1710.5 311.7L1712.0 311.0L1713.5 310.3L1715.0 309.5L1716.5 308.7L1718.0 308.1L1719.5 307.7" stroke="#3d63f0" stroke-width="1.2" fill="none" stroke-linejoin="round"/>
<path d="M5.0 241.0L6.5 241.6L8.0 242.7L9.5 243.9L11.0 245.3L12.5 246.8L14.0 248.4L15.5 250.1L17.0 252.1L18.5 254.4L20.0 256.9L21.5 259.8L23.0 263.0L24.5 266.2L26.0 269.4L27.5 272.4L29.0 274.9L30.5 276.6L32.0 277.3L33.5 277.1L35.0 276.4L36.5 276.0L38.0 276.5L39.5 277.8L41.0 279.7L42.5 281.5L44.0 282.8L45.5 283.6L47.0 284.3L48.5 285.3L50.0 286.8L51.5 288.9L53.0 291.4L54.5 294.2L56.0 297.2L57.5 300.3L59.0 303.7L60.5 307.3L62.0 311.4L63.5 316.0L65.0 321.2L66.5 326.8L68.0 332.7L69.5 338.9L71.0 345.2L72.5 351.6L74.0 358.8L75.5 367.1L77.0 377.2L78.5 388.5L80.0 400.6L81.5 412.5L83.0 422.9L84.5 430.6L86.0 435.2L87.5 436.8L89.0 436.1L90.5 433.5L92.0 429.9L93.5 426.0L95.0 422.2L96.5 418.3L98.0 414.7L99.5 411.6L101.0 409.1L102.5 407.4L104.0 406.8L105.5 407.3L107.0 408.7L108.5 410.8L110.0 413.2L111.5 415.5L113.0 417.4L114.5 418.8L116.0 419.9L117.5 420.6L119.0 421.2L120.5 421.7L122.0 422.5L123.5 424.0L125.0 426.6L126.5 430.6L128.0 435.9L129.5 442.1L131.0 448.7L132.5 455.2L134.0 461.4L135.5 466.6L137.0 470.5L138.5 472.6L140.0 473.1L141.5 472.2L143.0 470.7L144.5 469.6L146.0 469.8L147.5 471.7L149.0 475.1L150.5 479.8L152.0 485.3L153.5 491.1L155.0 496.5L156.5 501.6L158.0 506.0L159.5 509.7L161.0 512.7L162.5 514.9L164.0 516.5L165.5 517.3L167.0 517.6L168.5 517.8L170.0 517.9L171.5 518.5L173.0 519.6L174.5 521.5L176.0 524.0L177.5 527.1L179.0 530.7L180.5 534.7L182.0 538.9L183.5 543.2L185.0 547.3L186.5 550.9L188.0 553.8L189.5 556.0L191.0 557.5L192.5 558.5L194.0 559.2L195.5 560.0L197.0 560.9L198.5 561.9L200.0 563.2L201.5 564.9L203.0 567.3L204.5 570.6L206.0 575.1L207.5 580.8L209.0 587.7L210.5 595.2L212.0 603.1L213.5 610.8L215.0 618.0L216.5 624.5L218.0 630.4L219.5 635.6L221.0 640.3L222.5 644.3L224.0 647.7L225.5 650.1L227.0 651.6L228.5 652.2L230.0 651.7L231.5 650.3L233.0 647.9L234.5 644.6L236.0 640.9L237.5 636.8L239.0 632.8L240.5 629.1L242.0 625.7L243.5 622.5L245.0 619.4L246.5 616.2L248.0 612.6L249.5 608.8L251.0 604.6L252.5 600.1L254.0 595.1L255.5 589.8L257.0 584.4L258.5 579.0L260.0 573.9L261.5 569.6L263.0 566.3L264.5 564.0L266.0 562.5L267.5 561.4L269.0 560.1L270.5 558.2L272.0 555.6L273.5 552.2L275.0 548.2L276.5 544.0L278.0 539.7L279.5 535.3L281.0 530.8L282.5 526.2L284.0 521.7L285.5 517.3L287.0 513.1L288.5 509.3L290.0 506.1L291.5 503.6L293.0 501.8L294.5 500.6L296.0 500.1L297.5 500.5L299.0 502.0L300.5 504.5L302.0 507.9L303.5 511.7L305.0 515.3L306.5 518.3L308.0 520.6L309.5 522.2L311.0 523.2L312.5 523.7L314.0 523.7L315.5 523.1L317.0 522.4L318.5 522.1L320.0 522.5L321.5 523.9L323.0 526.1L324.5 529.1L326.0 532.6L327.5 536.3L329.0 540.2L330.5 544.2L332.0 547.9L333.5 551.1L335.0 553.9L336.5 556.0L338.0 557.8L339.5 559.1L341.0 560.0L342.5 560.6L344.0 560.8L345.5 560.7L347.0 560.6L348.5 560.5L350.0 560.6L351.5 560.8L353.0 561.2L354.5 561.8L356.0 562.7L357.5 563.9L359.0 565.4L360.5 567.0L362.0 568.7L363.5 570.3L365.0 571.7L366.5 573.0L368.0 574.3L369.5 575.6L371.0 576.9L372.5 578.1L374.0 578.9L375.5 578.8L377.0 577.7L378.5 575.8L380.0 573.5L381.5 571.4L383.0 569.8L384.5 569.0L386.0 568.6L387.5 568.7L389.0 568.9L390.5 569.3L392.0 569.7L393.5 570.0L395.0 569.9L396.5 569.5L398.0 568.8L399.5 568.0L401.0 567.2L402.5 566.5L404.0 566.0L405.5 565.5L407.0 564.5L408.5 562.7L410.0 559.9L411.5 556.2L413.0 551.9L414.5 547.4L416.0 543.1L417.5 538.9L419.0 534.4L420.5 529.5L422.0 523.9L423.5 517.9L425.0 511.6L426.5 505.4L428.0 499.5L429.5 494.0L431.0 488.6L432.5 483.5L434.0 478.4L435.5 473.6L437.0 469.2L438.5 465.2L440.0 461.8L441.5 459.4L443.0 458.5L444.5 459.2L446.0 461.3L447.5 464.4L449.0 467.8L450.5 471.1L452.0 473.8L453.5 476.2L455.0 478.3L456.5 480.4L458.0 482.1L459.5 483.4L461.0 483.8L462.5 483.5L464.0 482.5L465.5 481.0L467.0 479.3L468.5 477.6L470.0 476.0L471.5 474.5L473.0 472.9L474.5 471.5L476.0 470.0L477.5 468.7L479.0 467.4L480.5 466.1L482.0 465.0L483.5 463.9L485.0 462.8L486.5 461.7L488.0 460.6L489.5 459.3L491.0 458.0L492.5 456.4L494.0 454.5L495.5 452.0L497.0 449.0L498.5 445.4L500.0 441.4L501.5 437.3L503.0 433.3L504.5 429.4L506.0 425.7L507.5 422.0L509.0 418.5L510.5 415.1L512.0 411.8L513.5 408.6L515.0 405.5L516.5 402.5L518.0 399.7L519.5 397.0L521.0 394.4L522.5 392.1L524.0 390.2L525.5 388.7L527.0 387.5L528.5 386.8L530.0 386.5L531.5 386.5L533.0 386.8L534.5 387.2L536.0 387.6L537.5 387.9L539.0 387.9L540.5 387.6L542.0 387.1L543.5 386.6L545.0 386.2L546.5 386.0L548.0 385.9L549.5 386.2L551.0 386.6L552.5 387.4L554.0 388.2L555.5 388.9L557.0 389.2L558.5 389.2L560.0 388.9L561.5 388.5L563.0 388.1L564.5 388.0L566.0 388.1L567.5 388.3L569.0 388.5L570.5 388.5L572.0 388.4L573.5 388.1L575.0 387.7L576.5 387.2L578.0 386.4L579.5 385.5L581.0 384.4L582.5 383.3L584.0 382.3L585.5 381.4L587.0 380.7L588.5 380.3L590.0 380.2L591.5 380.4L593.0 380.7L594.5 381.2L596.0 381.6L597.5 381.9L599.0 382.1L600.5 382.1L602.0 382.0L603.5 381.8L605.0 381.5L606.5 381.0L608.0 380.3L609.5 379.3L611.0 378.1L612.5 376.7L614.0 375.0L615.5 373.1L617.0 371.1L618.5 368.8L620.0 366.6L621.5 364.5L623.0 362.8L624.5 361.5L626.0 360.6L627.5 360.0L629.0 359.7L630.5 359.7L632.0 360.0L633.5 360.5L635.0 361.4L636.5 362.4L638.0 363.8L639.5 365.3L641.0 367.1L642.5 369.1L644.0 371.1L645.5 373.2L647.0 375.1L648.5 376.7L650.0 378.2L651.5 379.5L653.0 380.4L654.5 380.9L656.0 381.0L657.5 380.7L659.0 380.0L660.5 379.4L662.0 378.9L663.5 378.8L665.0 378.7L666.5 378.6L668.0 378.2L669.5 377.5L671.0 376.3L672.5 374.9L674.0 373.4L675.5 371.9L677.0 370.4L678.5 368.7L680.0 366.9L681.5 364.8L683.0 362.4L684.5 359.7L686.0 356.5L687.5 352.9L689.0 348.9L690.5 344.7L692.0 340.5L693.5 336.4L695.0 332.5L696.5 328.8L698.0 325.3L699.5 322.0L701.0 318.9L702.5 316.1L704.0 313.5L705.5 311.0L707.0 308.6L708.5 306.2L710.0 303.9L711.5 301.6L713.0 299.5L714.5 297.6L716.0 295.9L717.5 294.4L719.0 293.1L720.5 291.9L722.0 290.8L723.5 289.6L725.0 288.4L726.5 287.2L728.0 285.9L729.5 284.7L731.0 283.3L732.5 281.9L734.0 280.4L735.5 278.9L737.0 277.5L738.5 276.1L740.0 274.8L741.5 273.6L743.0 272.6L744.5 271.6L746.0 270.8L747.5 270.1L749.0 269.5L750.5 269.0L752.0 268.8L753.5 268.8L755.0 269.2L756.5 269.8L758.0 270.6L759.5 271.3L761.0 271.8L762.5 272.0L764.0 271.9L765.5 271.6L767.0 271.3L768.5 270.8L770.0 270.4L771.5 269.8L773.0 269.3L774.5 268.7L776.0 268.2L777.5 267.6L779.0 267.1L780.5 266.6L782.0 266.1L783.5 265.7L785.0 265.4L786.5 265.3L788.0 265.4L789.5 265.6L791.0 266.0L792.5 266.5L794.0 267.2L795.5 268.1L797.0 269.2L798.5 270.3L800.0 271.5L801.5 272.7L803.0 273.9L804.5 275.1L806.0 276.3L807.5 277.5L809.0 278.7L810.5 279.9L812.0 281.1L813.5 282.3L815.0 283.4L816.5 284.5L818.0 285.4L819.5 286.3L821.0 287.1L822.5 287.9L824.0 288.5L825.5 289.0L827.0 289.3L828.5 289.4L830.0 289.3L831.5 289.0L833.0 288.9L834.5 288.8L836.0 288.8L837.5 288.9L839.0 289.2L840.5 289.4L842.0 289.6L843.5 289.6L845.0 289.6L846.5 289.4L848.0 289.2L849.5 289.0L851.0 288.9L852.5 288.9L854.0 289.1L855.5 289.7L857.0 290.8L858.5 292.4L860.0 294.5L861.5 297.1L863.0 300.0L864.5 303.1L866.0 306.4L867.5 310.0L869.0 314.2L870.5 319.1L872.0 324.7L873.5 330.7L875.0 336.8L876.5 342.6L878.0 347.9L879.5 352.7L881.0 357.1L882.5 361.0L884.0 364.6L885.5 367.9L887.0 370.8L888.5 373.4L890.0 375.8L891.5 377.9L893.0 379.7L894.5 381.4L896.0 382.9L897.5 384.2L899.0 385.2L900.5 386.1L902.0 386.9L903.5 387.5L905.0 388.0L906.5 388.2L908.0 388.1L909.5 387.8L911.0 387.3L912.5 386.8L914.0 386.1L915.5 385.2L917.0 384.1L918.5 382.8L920.0 381.4L921.5 379.9L923.0 378.4L924.5 376.9L926.0 375.5L927.5 374.4L929.0 373.8L930.5 373.7L932.0 373.9L933.5 374.1L935.0 373.9L936.5 373.1L938.0 371.8L939.5 370.1L941.0 368.4L942.5 366.8L944.0 365.2L945.5 363.6L947.0 361.8L948.5 359.9L950.0 357.7L951.5 355.2L953.0 352.5L954.5 349.4L956.0 346.2L957.5 342.8L959.0 339.3L960.5 336.1L962.0 333.1L963.5 330.5L965.0 328.2L966.5 326.3L968.0 324.5L969.5 323.0L971.0 321.7L972.5 320.7L974.0 320.3L975.5 320.5L977.0 321.4L978.5 323.0L980.0 325.2L981.5 327.7L983.0 330.3L984.5 332.6L986.0 334.8L987.5 336.8L989.0 338.9L990.5 341.6L992.0 345.0L993.5 349.2L995.0 354.2L996.5 359.6L998.0 365.4L999.5 371.3L1001.0 377.3L1002.5 383.1L1004.0 388.6L1005.5 393.7L1007.0 398.2L1008.5 401.9L1010.0 404.9L1011.5 407.3L1013.0 409.0L1014.5 410.2L1016.0 411.0L1017.5 411.7L1019.0 412.2L1020.5 412.9L1022.0 413.7L1023.5 414.6L1025.0 415.8L1026.5 417.0L1028.0 418.3L1029.5 419.6L1031.0 420.5L1032.5 420.8L1034.0 420.3L1035.5 419.0L1037.0 416.9L1038.5 414.4L1040.0 411.6L1041.5 408.7L1043.0 405.9L1044.5 403.3L1046.0 400.9L1047.5 398.8L1049.0 397.0L1050.5 395.5L1052.0 394.1L1053.5 392.8L1055.0 391.6L1056.5 390.6L1058.0 389.7L1059.5 389.0L1061.0 388.4L1062.5 387.9L1064.0 387.4L1065.5 386.8L1067.0 386.2L1068.5 385.7L1070.0 385.6L1071.5 385.9L1073.0 386.6L1074.5 387.9L1076.0 389.6L1077.5 391.7L1079.0 394.1L1080.5 396.8L1082.0 399.5L1083.5 402.1L1085.0 404.4L1086.5 406.5L1088.0 408.3L1089.5 410.0L1091.0 411.4L1092.5 412.7L1094.0 413.6L1095.5 414.2L1097.0 414.4L1098.5 414.2L1100.0 413.8L1101.5 413.4L1103.0 413.2L1104.5 413.2L1106.0 413.6L1107.5 414.4L1109.0 415.8L1110.5 417.6L1112.0 419.7L1113.5 422.0L1115.0 424.2L1116.5 426.2L1118.0 427.9L1119.5 429.3L1121.0 430.6L1122.5 431.7L1124.0 432.6L1125.5 433.5L1127.0 434.4L1128.5 435.3L1130.0 436.3L1131.5 437.4L1133.0 438.5L1134.5 439.6L1136.0 440.7L1137.5 441.7L1139.0 442.4L1140.5 442.7L1142.0 442.6L1143.5 442.3L1145.0 442.1L1146.5 442.1L1148.0 442.4L1149.5 443.2L1151.0 444.2L1152.5 445.3L1154.0 446.4L1155.5 447.5L1157.0 448.3L1158.5 448.9L1160.0 449.0L1161.5 448.9L1163.0 448.2L1164.5 447.1L1166.0 445.3L1167.5 442.9L1169.0 440.0L1170.5 436.9L1172.0 433.9L1173.5 431.3L1175.0 429.2L1176.5 427.6L1178.0 426.4L1179.5 425.5L1181.0 424.9L1182.5 424.5L1184.0 424.2L1185.5 424.0L1187.0 423.9L1188.5 423.8L1190.0 423.9L1191.5 424.0L1193.0 424.2L1194.5 424.6L1196.0 425.0L1197.5 425.8L1199.0 426.7L1200.5 428.0L1202.0 429.4L1203.5 431.0L1205.0 432.6L1206.5 434.4L1208.0 436.3L1209.5 438.3L1211.0 440.5L1212.5 442.7L1214.0 444.9L1215.5 447.1L1217.0 449.3L1218.5 451.6L1220.0 453.8L1221.5 456.0L1223.0 458.3L1224.5 460.6L1226.0 463.0L1227.5 465.6L1229.0 468.2L1230.5 471.0L1232.0 473.9L1233.5 477.2L1235.0 480.7L1236.5 484.5L1238.0 488.6L1239.5 492.8L1241.0 497.1L1242.5 501.4L1244.0 505.7L1245.5 509.7L1247.0 513.4L1248.5 516.5L1250.0 518.8L1251.5 520.1L1253.0 520.7L1254.5 520.6L1256.0 520.3L1257.5 520.0L1259.0 520.0L1260.5 520.0L1262.0 519.9L1263.5 519.5L1265.0 518.5L1266.5 517.0L1268.0 514.9L1269.5 512.0L1271.0 508.4L1272.5 504.2L1274.0 499.6L1275.5 494.7L1277.0 490.0L1278.5 485.8L1280.0 482.1L1281.5 479.0L1283.0 476.4L1284.5 474.3L1286.0 472.6L1287.5 471.0L1289.0 469.6L1290.5 468.3L1292.0 467.2L1293.5 466.1L1295.0 465.1L1296.5 464.1L1298.0 463.2L1299.5 462.4L1301.0 461.5L1302.5 460.7L1304.0 459.9L1305.5 459.2L1307.0 458.3L1308.5 457.3L1310.0 455.9L1311.5 454.0L1313.0 451.7L1314.5 448.9L1316.0 445.8L1317.5 442.6L1319.0 439.6L1320.5 437.1L1322.0 435.3L1323.5 434.2L1325.0 433.8L1326.5 433.9L1328.0 434.2L1329.5 434.4L1331.0 434.7L1332.5 435.0L1334.0 435.2L1335.5 435.4L1337.0 435.5L1338.5 435.5L1340.0 435.4L1341.5 435.1L1343.0 434.7L1344.5 434.2L1346.0 433.7L1347.5 433.3L1349.0 432.9L1350.5 432.6L1352.0 432.3L1353.5 432.1L1355.0 431.8L1356.5 431.5L1358.0 431.1L1359.5 430.7L1361.0 430.3L1362.5 429.8L1364.0 429.3L1365.5 428.8L1367.0 428.2L1368.5 427.6L1370.0 426.9L1371.5 426.1L1373.0 425.4L1374.5 424.6L1376.0 423.8L1377.5 422.9L1379.0 422.0L1380.5 421.0L1382.0 420.0L1383.5 419.0L1385.0 418.0L1386.5 417.0L1388.0 416.0L1389.5 415.0L1391.0 414.0L1392.5 413.0L1394.0 411.9L1395.5 410.7L1397.0 409.4L1398.5 408.0L1400.0 406.5L1401.5 405.0L1403.0 403.5L1404.5 402.0L1406.0 400.5L1407.5 399.0L1409.0 397.5L1410.5 396.0L1412.0 394.5L1413.5 393.0L1415.0 391.5L1416.5 390.0L1418.0 388.6L1419.5 387.2L1421.0 385.9L1422.5 384.7L1424.0 383.4L1425.5 382.1L1427.0 380.6L1428.5 379.1L1430.0 377.4L1431.5 375.8L1433.0 374.2L1434.5 372.8L1436.0 371.7L1437.5 370.7L1439.0 370.0L1440.5 369.4L1442.0 368.9L1443.5 368.4L1445.0 368.0L1446.5 367.6L1448.0 367.0L1449.5 366.3L1451.0 365.4L1452.5 364.3L1454.0 363.1L1455.5 361.8L1457.0 360.6L1458.5 359.4L1460.0 358.3L1461.5 357.3L1463.0 356.3L1464.5 355.3L1466.0 354.5L1467.5 353.8L1469.0 353.4L1470.5 353.1L1472.0 353.1L1473.5 353.1L1475.0 353.2L1476.5 353.3L1478.0 353.5L1479.5 353.6L1481.0 353.8L1482.5 353.9L1484.0 354.1L1485.5 354.4L1487.0 354.7L1488.5 355.2L1490.0 355.7L1491.5 356.3L1493.0 356.9L1494.5 357.5L1496.0 358.0L1497.5 358.4L1499.0 358.7L1500.5 358.9L1502.0 359.1L1503.5 359.2L1505.0 359.2L1506.5 359.0L1508.0 358.6L1509.5 358.0L1511.0 357.1L1512.5 355.9L1514.0 354.2L1515.5 352.0L1517.0 349.2L1518.5 345.9L1520.0 342.0L1521.5 337.7L1523.0 333.1L1524.5 328.6L1526.0 324.4L1527.5 320.8L1529.0 317.9L1530.5 315.6L1532.0 313.8L1533.5 312.4L1535.0 311.3L1536.5 310.6L1538.0 310.3L1539.5 310.3L1541.0 310.5L1542.5 311.1L1544.0 311.9L1545.5 313.1L1547.0 314.5L1548.5 316.1L1550.0 317.7L1551.5 319.1L1553.0 320.3L1554.5 321.1L1556.0 321.6L1557.5 321.7L1559.0 321.4L1560.5 320.7L1562.0 319.8L1563.5 318.7L1565.0 317.7L1566.5 316.8L1568.0 315.9L1569.5 315.0L1571.0 314.2L1572.5 313.5L1574.0 312.9L1575.5 312.4L1577.0 311.9L1578.5 311.4L1580.0 310.9L1581.5 310.5L1583.0 310.2L1584.5 309.9L1586.0 309.6L1587.5 309.3L1589.0 309.0L1590.5 308.5L1592.0 307.8L1593.5 307.1L1595.0 306.2L1596.5 305.4L1598.0 304.5L1599.5 303.7L1601.0 303.0L1602.5 302.4L1604.0 302.1L1605.5 302.1L1607.0 302.5L1608.5 303.1L1610.0 303.8L1611.5 304.7L1613.0 305.5L1614.5 306.4L1616.0 307.1L1617.5 307.7L1619.0 308.1L1620.5 308.3L1622.0 308.2L1623.5 308.0L1625.0 307.8L1626.5 307.5L1628.0 307.3L1629.5 307.0L1631.0 306.8L1632.5 306.6L1634.0 306.3L1635.5 306.2L1637.0 306.2L1638.5 306.3L1640.0 306.5L1641.5 306.9L1643.0 307.4L1644.5 307.9L1646.0 308.5L1647.5 309.1L1649.0 309.9L1650.5 310.7L1652.0 311.6L1653.5 312.5L1655.0 313.6L1656.5 314.6L1658.0 315.8L1659.5 316.9L1661.0 318.0L1662.5 318.9L1664.0 319.6L1665.5 320.2L1667.0 320.6L1668.5 320.7L1670.0 320.7L1671.5 320.5L1673.0 320.0L1674.5 319.2L1676.0 318.4L1677.5 317.7L1679.0 317.0L1680.5 316.4L1682.0 316.0L1683.5 315.6L1685.0 315.3L1686.5 315.0L1688.0 314.8L1689.5 314.7L1691.0 314.7L1692.5 314.7L1694.0 314.8L1695.5 314.8L1697.0 314.6L1698.5 314.4L1700.0 314.0L1701.5 313.5L1703.0 312.9L1704.5 312.1L1706.0 311.3L1707.5 310.3L1709.0 309.1L1710.5 308.0L1712.0 306.7L1713.5 305.5L1715.0 304.3L1716.5 303.2L1718.0 302.3L1719.5 301.8" stroke="#f2e14c" stroke-width="1.2" fill="none" stroke-linejoin="round"/>
<path d="M86.9 429.0L96.7 409.0L106.5 429.0Z" fill="#62ad5a"/>
<path d="M84.5 447.0L94.3 427.0L104.1 447.0Z" fill="#62ad5a"/>
<path d="M281.2 537.0L290.0 519.0L298.8 537.0Z" fill="#62ad5a"/>
<path d="M281.2 514.0L290.0 496.0L298.8 514.0Z" fill="#62ad5a"/>
<path d="M407.7 516.6L420.4 490.6L433.1 516.6Z" fill="#62ad5a"/>
<path d="M423.2 510.4L433.0 490.4L442.8 510.4Z" fill="#62ad5a"/>
<path d="M407.2 551.3L417.0 531.3L426.8 551.3Z" fill="#62ad5a"/>
<path d="M556.7 424.0L566.5 404.0L576.3 424.0Z" fill="#62ad5a"/>
<path d="M594.7 408.3L604.5 388.3L614.3 408.3Z" fill="#62ad5a"/>
<path d="M608.5 403.6L618.3 383.6L628.1 403.6Z" fill="#62ad5a"/>
<path d="M649.2 405.2L659.0 385.2L668.8 405.2Z" fill="#62ad5a"/>
<path d="M684.9 337.7L694.7 317.7L704.5 337.7Z" fill="#62ad5a"/>
<path d="M695.9 334.5L705.7 314.5L715.5 334.5Z" fill="#62ad5a"/>
<path d="M697.2 322.0L707.0 302.0L716.8 322.0Z" fill="#62ad5a"/>
<path d="M692.2 360.0L700.0 344.0L707.8 360.0Z" fill="#62ad5a"/>
<path d="M899.7 416.0L909.5 396.0L919.3 416.0Z" fill="#62ad5a"/>
<path d="M910.5 405.0L920.3 385.0L930.1 405.0Z" fill="#62ad5a"/>
<path d="M927.0 403.8L936.8 383.8L946.6 403.8Z" fill="#62ad5a"/>
<path d="M1155.5 479.0L1165.3 459.0L1175.1 479.0Z" fill="#62ad5a"/>
<path d="M1154.9 472.7L1164.7 452.7L1174.5 472.7Z" fill="#62ad5a"/>
<path d="M1157.2 456.0L1166.0 438.0L1174.8 456.0Z" fill="#62ad5a"/>
<path d="M1263.2 524.6L1273.0 504.6L1282.8 524.6Z" fill="#62ad5a"/>
<path d="M1244.5 557.6L1254.3 537.6L1264.1 557.6Z" fill="#62ad5a"/>
<path d="M1707.2 331.0L1716.0 313.0L1724.8 331.0Z" fill="#62ad5a"/>
<path d="M1.1 222.5L11.0 241.5L20.9 222.5Z" fill="#ec6456"/>
<path d="M10.5 258.5L20.4 277.5L30.3 258.5Z" fill="#ec6456"/>
<path d="M15.1 278.9L25.0 297.9L34.9 278.9Z" fill="#ec6456"/>
<path d="M57.6 344.9L67.5 363.9L77.4 344.9Z" fill="#ec6456"/>
<path d="M67.1 410.5L77.0 429.5L86.9 410.5Z" fill="#ec6456"/>
<path d="M111.1 382.5L121.0 401.5L130.9 382.5Z" fill="#ec6456"/>
<path d="M288.9 451.0L298.8 470.0L308.7 451.0Z" fill="#ec6456"/>
<path d="M626.1 322.9L636.0 341.9L645.9 322.9Z" fill="#ec6456"/>
<path d="M1065.9 363.7L1075.8 382.7L1085.7 363.7Z" fill="#ec6456"/>
<path d="M1103.7 398.0L1113.6 417.0L1123.5 398.0Z" fill="#ec6456"/>
<path d="M1218.6 447.0L1228.5 466.0L1238.4 447.0Z" fill="#ec6456"/>
<path d="M1645.3 291.5L1655.2 310.5L1665.1 291.5Z" fill="#ec6456"/>
<path d="M92.1 443.2V430.8H88.1L94.3 425.0L100.5 430.8H96.5V443.2Z" fill="#3f66f5" stroke="#141a3a" stroke-width="0.9" stroke-linejoin="round"/>
<path d="M287.8 511.2V498.8H283.8L290.0 493.0L296.2 498.8H292.2V511.2Z" fill="#3f66f5" stroke="#141a3a" stroke-width="0.9" stroke-linejoin="round"/>
<path d="M430.8 506.6V494.2H426.8L433.0 488.4L439.2 494.2H435.2V506.6Z" fill="#3f66f5" stroke="#141a3a" stroke-width="0.9" stroke-linejoin="round"/>
<path d="M414.8 547.5V535.1H410.8L417.0 529.3L423.2 535.1H419.2V547.5Z" fill="#3f66f5" stroke="#141a3a" stroke-width="0.9" stroke-linejoin="round"/>
<path d="M564.3 420.2V407.8H560.3L566.5 402.0L572.7 407.8H568.7V420.2Z" fill="#3f66f5" stroke="#141a3a" stroke-width="0.9" stroke-linejoin="round"/>
<path d="M656.8 401.4V389.0H652.8L659.0 383.2L665.2 389.0H661.2V401.4Z" fill="#3f66f5" stroke="#141a3a" stroke-width="0.9" stroke-linejoin="round"/>
<path d="M703.5 330.7V318.3H699.5L705.7 312.5L711.9 318.3H707.9V330.7Z" fill="#3f66f5" stroke="#141a3a" stroke-width="0.9" stroke-linejoin="round"/>
<path d="M907.3 412.2V399.8H903.3L909.5 394.0L915.7 399.8H911.7V412.2Z" fill="#3f66f5" stroke="#141a3a" stroke-width="0.9" stroke-linejoin="round"/>
<path d="M1162.5 468.9V456.5H1158.5L1164.7 450.7L1170.9 456.5H1166.9V468.9Z" fill="#3f66f5" stroke="#141a3a" stroke-width="0.9" stroke-linejoin="round"/>
<path d="M1252.1 553.8V541.4H1248.1L1254.3 535.6L1260.5 541.4H1256.5V553.8Z" fill="#3f66f5" stroke="#141a3a" stroke-width="0.9" stroke-linejoin="round"/>
<path d="M1713.8 328.2V315.8H1709.8L1716.0 310.0L1722.2 315.8H1718.2V328.2Z" fill="#3f66f5" stroke="#141a3a" stroke-width="0.9" stroke-linejoin="round"/>
<path d="M8.6 226.2V239.2H4.8L11.0 244.7L17.2 239.2H13.4V226.2Z" fill="#e8394b" stroke="#3a0f16" stroke-width="0.9" stroke-linejoin="round"/>
<path d="M18.0 262.2V275.2H14.2L20.4 280.7L26.6 275.2H22.8V262.2Z" fill="#e8394b" stroke="#3a0f16" stroke-width="0.9" stroke-linejoin="round"/>
<path d="M65.1 348.6V361.6H61.3L67.5 367.1L73.7 361.6H69.9V348.6Z" fill="#e8394b" stroke="#3a0f16" stroke-width="0.9" stroke-linejoin="round"/>
<path d="M74.6 414.2V427.2H70.8L77.0 432.7L83.2 427.2H79.4V414.2Z" fill="#e8394b" stroke="#3a0f16" stroke-width="0.9" stroke-linejoin="round"/>
<path d="M118.6 386.2V399.2H114.8L121.0 404.7L127.2 399.2H123.4V386.2Z" fill="#e8394b" stroke="#3a0f16" stroke-width="0.9" stroke-linejoin="round"/>
<path d="M296.4 454.7V467.7H292.6L298.8 473.2L305.0 467.7H301.2V454.7Z" fill="#e8394b" stroke="#3a0f16" stroke-width="0.9" stroke-linejoin="round"/>
<path d="M633.6 326.6V339.6H629.8L636.0 345.1L642.2 339.6H638.4V326.6Z" fill="#e8394b" stroke="#3a0f16" stroke-width="0.9" stroke-linejoin="round"/>
<path d="M1073.4 367.4V380.4H1069.6L1075.8 385.9L1082.0 380.4H1078.2V367.4Z" fill="#e8394b" stroke="#3a0f16" stroke-width="0.9" stroke-linejoin="round"/>
<path d="M1226.1 450.7V463.7H1222.3L1228.5 469.2L1234.7 463.7H1230.9V450.7Z" fill="#e8394b" stroke="#3a0f16" stroke-width="0.9" stroke-linejoin="round"/>
<path d="M1652.8 295.2V308.2H1649.0L1655.2 313.7L1661.4 308.2H1657.6V295.2Z" fill="#e8394b" stroke="#3a0f16" stroke-width="0.9" stroke-linejoin="round"/>
<path d="M99.0 342V353H95.0L100.5 358L106.0 353H102.0V342Z M94.0 359H107.0V362H94.0Z" fill="#d63ff0"/>
<path d="M433.5 409V419H429.5L435 424L440.5 419H436.5V409Z M428.5 425H441.5V428H428.5Z" fill="#d63ff0"/>
<path d="M427.5 431V432H423.5L429 437L434.5 432H430.5V431Z M422.5 438H435.5V441H422.5Z" fill="#d63ff0"/>
<path d="M623.1 304V314H619.1L624.6 319L630.1 314H626.1V304Z M618.1 320H631.1V323H618.1Z" fill="#d63ff0"/>
<path d="M687.8 302.5V312.4H683.8L689.3 317.4L694.8 312.4H690.8V302.5Z M682.8 318.4H695.8V321.4H682.8Z" fill="#d63ff0"/>
<path d="M699.5 269V269H695.5L701 274L706.5 269H702.5V269Z M694.5 275H707.5V278H694.5Z" fill="#d63ff0"/>
<path d="M756.0 236V246.4H752.0L757.5 251.4L763.0 246.4H759.0V236Z M751.0 252.4H764.0V255.4H751.0Z" fill="#d63ff0"/>
<path d="M966.2 280.5V291.3H962.2L967.7 296.3L973.2 291.3H969.2V280.5Z M961.2 297.3H974.2V300.3H961.2Z" fill="#d63ff0"/>
<path d="M1171.7 373.2V383H1167.7L1173.2 388L1178.7 383H1174.7V373.2Z M1166.7 389H1179.7V392H1166.7Z" fill="#d63ff0"/>
<path d="M1277.9 417V427H1273.9L1279.4 432L1284.9 427H1280.9V417Z M1272.9 433H1285.9V436H1272.9Z" fill="#d63ff0"/>
<path d="M13.899999999999999 317.3H26.9V320.3H13.899999999999999Z M20.4 321.3L25.9 326.3H21.9V337H18.9V326.3H14.899999999999999Z" fill="#d63ff0"/>
<path d="M53.2 357.5H66.2V360.5H53.2Z M59.7 361.5L65.2 366.5H61.2V376.4H58.2V366.5H54.2Z" fill="#d63ff0"/>
<path d="M67.3 446.4H80.3V449.4H67.3Z M73.8 450.4L79.3 455.4H75.3V466H72.3V455.4H68.3Z" fill="#d63ff0"/>
<path d="M73.5 558H86.5V561H73.5Z M80 562L85.5 567H81.5V576.5H78.5V567H74.5Z" fill="#d63ff0"/>
<path d="M120.7 550.7H133.7V553.7H120.7Z M127.2 554.7L132.7 559.7H128.7V569.6H125.7V559.7H121.7Z" fill="#d63ff0"/>
<path d="M298.5 572.7H311.5V575.7H298.5Z M305 576.7L310.5 581.7H306.5V591.6H303.5V581.7H299.5Z" fill="#d63ff0"/>
<path d="M641.0 414H654.0V417H641.0Z M647.5 418L653.0 423H649.0V434.5H646.0V423H642.0Z" fill="#d63ff0"/>
<path d="M1111.1 463.7H1124.1V466.7H1111.1Z M1117.6 467.7L1123.1 472.7H1119.1V483.2H1116.1V472.7H1112.1Z" fill="#d63ff0"/>
<path d="M1243.0 593H1256.0V596H1243.0Z M1249.5 597L1255.0 602H1251.0V612H1248.0V602H1244.0Z" fill="#d63ff0"/>
<path d="M12.2 290.6L19.2 295.6L12.2 300.6Z" fill="#d63ff0"/>
<path d="M51.5 331L58.5 336L51.5 341Z" fill="#d63ff0"/>
<path d="M65.0 420L72.0 425L65.0 430Z" fill="#d63ff0"/>
<path d="M71.9 504L78.9 509L71.9 514Z" fill="#d63ff0"/>
<path d="M119.0 515L126.0 520L119.0 525Z" fill="#d63ff0"/>
<path d="M297.5 548L304.5 553L297.5 558Z" fill="#d63ff0"/>
<path d="M639.3 386.4L646.3 391.4L639.3 396.4Z" fill="#d63ff0"/>
<path d="M1109.0 442.7L1116.0 447.7L1109.0 452.7Z" fill="#d63ff0"/>
<path d="M1240.5 558.3L1247.5 563.3L1240.5 568.3Z" fill="#d63ff0"/>
<path d="M108.5 376L101.5 381L108.5 386Z" fill="#d63ff0"/>
<path d="M443.5 450L436.5 455L443.5 460Z" fill="#d63ff0"/>
<path d="M437.5 463.4L430.5 468.4L437.5 473.4Z" fill="#d63ff0"/>
<path d="M632.2 342.5L625.2 347.5L632.2 352.5Z" fill="#d63ff0"/>
<path d="M696.5 338.4L689.5 343.4L696.5 348.4Z" fill="#d63ff0"/>
<path d="M709.2 298L702.2 303L709.2 308Z" fill="#d63ff0"/>
<path d="M765.1 271.8L758.1 276.8L765.1 281.8Z" fill="#d63ff0"/>
<path d="M975.5 320.5L968.5 325.5L975.5 330.5Z" fill="#d63ff0"/>
<path d="M1180.8 406.5L1173.8 411.5L1180.8 416.5Z" fill="#d63ff0"/>
<path d="M1287.0 451.5L1280.0 456.5L1287.0 461.5Z" fill="#d63ff0"/>
<path d="M409.0 498.6L416.0 503.6L409.0 508.6Z" fill="#3d6cf5"/>
<path d="M424.1 465.6L431.1 470.6L424.1 475.6Z" fill="#3d6cf5"/>
<path d="M558.3 370.4L565.3 375.4L558.3 380.4Z" fill="#3d6cf5"/>
<path d="M279.2 488.5L286.2 493.5L279.2 498.5Z" fill="#3d6cf5"/>
<path d="M651.3 358L658.3 363L651.3 368Z" fill="#3d6cf5"/>
<path d="M695.9 289.7L702.9 294.7L695.9 299.7Z" fill="#3d6cf5"/>
<path d="M901.5 373.9L908.5 378.9L901.5 383.9Z" fill="#3d6cf5"/>
<path d="M1158.0 431L1165.0 436L1158.0 441Z" fill="#3d6cf5"/>
<path d="M1245.5 503.3L1252.5 508.3L1245.5 513.3Z" fill="#3d6cf5"/>
<path d="M1709.2 280.2L1716.2 285.2L1709.2 290.2Z" fill="#3d6cf5"/>
<path d="M28.0 299L21.0 304L28.0 309Z" fill="#ef4f4f"/>
<path d="M84.5 443.6L77.5 448.6L84.5 453.6Z" fill="#ef4f4f"/>
<path d="M128.5 428L121.5 433L128.5 438Z" fill="#ef4f4f"/>
<path d="M306.5 489L299.5 494L306.5 499Z" fill="#ef4f4f"/>
<path d="M643.2 368.2L636.2 373.2L643.2 378.2Z" fill="#ef4f4f"/>
<path d="M1083.5 408L1076.5 413L1083.5 418Z" fill="#ef4f4f"/>
<path d="M1236.5 488L1229.5 493L1236.5 498Z" fill="#ef4f4f"/>
<path d="M1663.5 325.8L1656.5 330.8L1663.5 335.8Z" fill="#ef4f4f"/>
<circle cx="143.6" cy="443.3" r="4.3" fill="#171926" fill-opacity="0.5" stroke="#3d63f0" stroke-width="2"/>
<circle cx="143.6" cy="464.3" r="4.3" fill="#171926" fill-opacity="0.5" stroke="#3d63f0" stroke-width="2"/>
<circle cx="290.6" cy="509.2" r="4.3" fill="#171926" fill-opacity="0.5" stroke="#3d63f0" stroke-width="2"/>
<circle cx="290.6" cy="541.3" r="4.3" fill="#171926" fill-opacity="0.5" stroke="#3d63f0" stroke-width="2"/>
<circle cx="437.7" cy="470.6" r="4.3" fill="#171926" fill-opacity="0.5" stroke="#3d63f0" stroke-width="2"/>
<circle cx="437.7" cy="505" r="4.3" fill="#171926" fill-opacity="0.5" stroke="#3d63f0" stroke-width="2"/>
<circle cx="583.7" cy="383.5" r="4.3" fill="#171926" fill-opacity="0.5" stroke="#3d63f0" stroke-width="2"/>
<circle cx="583.7" cy="391" r="4.3" fill="#171926" fill-opacity="0.5" stroke="#3d63f0" stroke-width="2"/>
<circle cx="731.4" cy="284.3" r="4.3" fill="#171926" fill-opacity="0.5" stroke="#3d63f0" stroke-width="2"/>
<circle cx="731.4" cy="305.7" r="4.3" fill="#171926" fill-opacity="0.5" stroke="#3d63f0" stroke-width="2"/>
<circle cx="877.8" cy="319" r="4.3" fill="#171926" fill-opacity="0.5" stroke="#3d63f0" stroke-width="2"/>
<circle cx="877.8" cy="345" r="4.3" fill="#171926" fill-opacity="0.5" stroke="#3d63f0" stroke-width="2"/>
<circle cx="1025.5" cy="394.6" r="4.3" fill="#171926" fill-opacity="0.5" stroke="#3d63f0" stroke-width="2"/>
<circle cx="1025.5" cy="413" r="4.3" fill="#171926" fill-opacity="0.5" stroke="#3d63f0" stroke-width="2"/>
<circle cx="1172.6" cy="436" r="4.3" fill="#171926" fill-opacity="0.5" stroke="#3d63f0" stroke-width="2"/>
<circle cx="1318.7" cy="440.1" r="4.3" fill="#171926" fill-opacity="0.5" stroke="#3d63f0" stroke-width="2"/>
<circle cx="1318.7" cy="457.4" r="4.3" fill="#171926" fill-opacity="0.5" stroke="#3d63f0" stroke-width="2"/>
<circle cx="1465.8" cy="359.7" r="4.3" fill="#171926" fill-opacity="0.5" stroke="#3d63f0" stroke-width="2"/>
<circle cx="1465.8" cy="370" r="4.3" fill="#171926" fill-opacity="0.5" stroke="#3d63f0" stroke-width="2"/>
<circle cx="1612.2" cy="301" r="4.3" fill="#171926" fill-opacity="0.5" stroke="#3d63f0" stroke-width="2"/>
<circle cx="1612.2" cy="308.2" r="4.3" fill="#171926" fill-opacity="0.5" stroke="#3d63f0" stroke-width="2"/>
<g fill="#e4e4e4" stroke="#101018" stroke-width="3" stroke-linejoin="round" paint-order="stroke"><path d="M19 597H32V615H26V604H19Z"/><circle cx="39.3" cy="600.5" r="3.4"/><path d="M49 597H56.5L47.5 615H40Z"/><path d="M60 597H105L96.7 615H54Z"/></g>
<text x="-2.4" y="202.2" textLength="28.8" lengthAdjust="spacingAndGlyphs" class="lb">-150</text>
<text x="-5.4" y="219.2" textLength="34.8" lengthAdjust="spacingAndGlyphs" class="lb">Short</text>
<text x="6.6" y="234.2" textLength="28.8" lengthAdjust="spacingAndGlyphs" class="lb">-150</text>
<text x="3.6" y="251.2" textLength="34.8" lengthAdjust="spacingAndGlyphs" class="lb">Short</text>
<text x="86.6" y="311.2" textLength="28.8" lengthAdjust="spacingAndGlyphs" class="lb">-150</text>
<text x="81.0" y="328.2" textLength="40" lengthAdjust="spacingAndGlyphs" class="lb">L Trail</text>
<text x="53.6" y="324.2" textLength="28.8" lengthAdjust="spacingAndGlyphs" class="lb">-150</text>
<text x="50.6" y="341.2" textLength="34.8" lengthAdjust="spacingAndGlyphs" class="lb">Short</text>
<text x="106.6" y="356.2" textLength="28.8" lengthAdjust="spacingAndGlyphs" class="lb">-150</text>
<text x="103.6" y="373.2" textLength="34.8" lengthAdjust="spacingAndGlyphs" class="lb">Short</text>
<text x="0.5" y="359.2" textLength="41" lengthAdjust="spacingAndGlyphs" class="lb">S Trail</text>
<text x="5.6" y="376.2" textLength="30.8" lengthAdjust="spacingAndGlyphs" class="lb">+150</text>
<text x="61.6" y="385.2" textLength="28.8" lengthAdjust="spacingAndGlyphs" class="lb">-150</text>
<text x="58.6" y="402.2" textLength="34.8" lengthAdjust="spacingAndGlyphs" class="lb">Short</text>
<text x="39.5" y="399.2" textLength="41" lengthAdjust="spacingAndGlyphs" class="lb">S Trail</text>
<text x="44.6" y="416.2" textLength="30.8" lengthAdjust="spacingAndGlyphs" class="lb">+150</text>
<text x="80.1" y="464.2" textLength="29.8" lengthAdjust="spacingAndGlyphs" class="lb">Long</text>
<text x="79.6" y="481.2" textLength="30.8" lengthAdjust="spacingAndGlyphs" class="lb">+150</text>
<text x="53.5" y="487.2" textLength="41" lengthAdjust="spacingAndGlyphs" class="lb">S Trail</text>
<text x="58.6" y="504.2" textLength="30.8" lengthAdjust="spacingAndGlyphs" class="lb">+150</text>
<text x="106.5" y="591.2" textLength="41" lengthAdjust="spacingAndGlyphs" class="lb">S Trail</text>
<text x="111.6" y="608.2" textLength="30.8" lengthAdjust="spacingAndGlyphs" class="lb">+150</text>
<text x="60.5" y="599.2" textLength="41" lengthAdjust="spacingAndGlyphs" class="lb">S Trail</text>
<text x="65.6" y="616.2" textLength="30.8" lengthAdjust="spacingAndGlyphs" class="lb">+150</text>
<text x="283.6" y="425.2" textLength="28.8" lengthAdjust="spacingAndGlyphs" class="lb">-300</text>
<text x="280.6" y="442.2" textLength="34.8" lengthAdjust="spacingAndGlyphs" class="lb">Short</text>
<text x="273.1" y="554.2" textLength="29.8" lengthAdjust="spacingAndGlyphs" class="lb">Long</text>
<text x="272.6" y="571.2" textLength="30.8" lengthAdjust="spacingAndGlyphs" class="lb">+150</text>
<text x="285.5" y="613.2" textLength="41" lengthAdjust="spacingAndGlyphs" class="lb">S Trail</text>
<text x="290.6" y="630.2" textLength="30.8" lengthAdjust="spacingAndGlyphs" class="lb">+150</text>
<text x="421.6" y="377.2" textLength="28.8" lengthAdjust="spacingAndGlyphs" class="lb">-150</text>
<text x="416.0" y="394.2" textLength="40" lengthAdjust="spacingAndGlyphs" class="lb">L Trail</text>
<text x="414.6" y="390.2" textLength="28.8" lengthAdjust="spacingAndGlyphs" class="lb">-150</text>
<text x="409.0" y="407.2" textLength="40" lengthAdjust="spacingAndGlyphs" class="lb">L Trail</text>
<text x="418.1" y="532.2" textLength="29.8" lengthAdjust="spacingAndGlyphs" class="lb">Long</text>
<text x="417.6" y="549.2" textLength="30.8" lengthAdjust="spacingAndGlyphs" class="lb">+150</text>
<text x="402.1" y="570.2" textLength="29.8" lengthAdjust="spacingAndGlyphs" class="lb">Long</text>
<text x="401.6" y="587.2" textLength="30.8" lengthAdjust="spacingAndGlyphs" class="lb">+150</text>
<text x="551.1" y="442.2" textLength="29.8" lengthAdjust="spacingAndGlyphs" class="lb">Long</text>
<text x="550.6" y="459.2" textLength="30.8" lengthAdjust="spacingAndGlyphs" class="lb">+150</text>
<text x="610.6" y="273.2" textLength="28.8" lengthAdjust="spacingAndGlyphs" class="lb">-150</text>
<text x="605.0" y="290.2" textLength="40" lengthAdjust="spacingAndGlyphs" class="lb">L Trail</text>
<text x="623.6" y="296.2" textLength="28.8" lengthAdjust="spacingAndGlyphs" class="lb">-150</text>
<text x="620.6" y="313.2" textLength="34.8" lengthAdjust="spacingAndGlyphs" class="lb">Short</text>
<text x="675.6" y="270.2" textLength="28.8" lengthAdjust="spacingAndGlyphs" class="lb">-150</text>
<text x="670.0" y="287.2" textLength="40" lengthAdjust="spacingAndGlyphs" class="lb">L Trail</text>
<text x="687.6" y="231.2" textLength="28.8" lengthAdjust="spacingAndGlyphs" class="lb">-150</text>
<text x="682.0" y="248.2" textLength="40" lengthAdjust="spacingAndGlyphs" class="lb">L Trail</text>
<text x="744.6" y="204.2" textLength="28.8" lengthAdjust="spacingAndGlyphs" class="lb">-150</text>
<text x="739.0" y="221.2" textLength="40" lengthAdjust="spacingAndGlyphs" class="lb">L Trail</text>
<text x="690.1" y="355.2" textLength="29.8" lengthAdjust="spacingAndGlyphs" class="lb">Long</text>
<text x="689.6" y="372.2" textLength="30.8" lengthAdjust="spacingAndGlyphs" class="lb">+150</text>
<text x="678.1" y="379.2" textLength="29.8" lengthAdjust="spacingAndGlyphs" class="lb">Long</text>
<text x="677.6" y="396.2" textLength="30.8" lengthAdjust="spacingAndGlyphs" class="lb">+150</text>
<text x="647.1" y="422.2" textLength="29.8" lengthAdjust="spacingAndGlyphs" class="lb">Long</text>
<text x="646.6" y="439.2" textLength="30.8" lengthAdjust="spacingAndGlyphs" class="lb">+150</text>
<text x="627.5" y="455.2" textLength="41" lengthAdjust="spacingAndGlyphs" class="lb">S Trail</text>
<text x="632.6" y="472.2" textLength="30.8" lengthAdjust="spacingAndGlyphs" class="lb">+150</text>
<text x="953.6" y="249.2" textLength="28.8" lengthAdjust="spacingAndGlyphs" class="lb">-150</text>
<text x="948.0" y="266.2" textLength="40" lengthAdjust="spacingAndGlyphs" class="lb">L Trail</text>
<text x="894.1" y="432.2" textLength="29.8" lengthAdjust="spacingAndGlyphs" class="lb">Long</text>
<text x="893.6" y="449.2" textLength="30.8" lengthAdjust="spacingAndGlyphs" class="lb">+150</text>
<text x="1060.6" y="337.2" textLength="28.8" lengthAdjust="spacingAndGlyphs" class="lb">-150</text>
<text x="1057.6" y="354.2" textLength="34.8" lengthAdjust="spacingAndGlyphs" class="lb">Short</text>
<text x="1158.6" y="342.2" textLength="28.8" lengthAdjust="spacingAndGlyphs" class="lb">-150</text>
<text x="1153.0" y="359.2" textLength="40" lengthAdjust="spacingAndGlyphs" class="lb">L Trail</text>
<text x="1096.5" y="505.2" textLength="41" lengthAdjust="spacingAndGlyphs" class="lb">S Trail</text>
<text x="1101.6" y="522.2" textLength="30.8" lengthAdjust="spacingAndGlyphs" class="lb">+150</text>
<text x="1150.1" y="496.2" textLength="29.8" lengthAdjust="spacingAndGlyphs" class="lb">Long</text>
<text x="1149.6" y="513.2" textLength="30.8" lengthAdjust="spacingAndGlyphs" class="lb">+150</text>
<text x="1214.6" y="421.2" textLength="28.8" lengthAdjust="spacingAndGlyphs" class="lb">-150</text>
<text x="1211.6" y="438.2" textLength="34.8" lengthAdjust="spacingAndGlyphs" class="lb">Short</text>
<text x="1264.6" y="385.2" textLength="28.8" lengthAdjust="spacingAndGlyphs" class="lb">-150</text>
<text x="1259.0" y="402.2" textLength="40" lengthAdjust="spacingAndGlyphs" class="lb">L Trail</text>
<text x="1238.1" y="576.2" textLength="29.8" lengthAdjust="spacingAndGlyphs" class="lb">Long</text>
<text x="1237.6" y="593.2" textLength="30.8" lengthAdjust="spacingAndGlyphs" class="lb">+150</text>
<text x="1228.5" y="632.2" textLength="41" lengthAdjust="spacingAndGlyphs" class="lb">S Trail</text>
<text x="1233.6" y="649.2" textLength="30.8" lengthAdjust="spacingAndGlyphs" class="lb">+150</text>
<text x="1640.6" y="264.2" textLength="28.8" lengthAdjust="spacingAndGlyphs" class="lb">-150</text>
<text x="1637.6" y="281.2" textLength="34.8" lengthAdjust="spacingAndGlyphs" class="lb">Short</text>
<text x="1701.1" y="345.2" textLength="29.8" lengthAdjust="spacingAndGlyphs" class="lb">Long</text>
<text x="1700.6" y="362.2" textLength="30.8" lengthAdjust="spacingAndGlyphs" class="lb">+300</text>
</g>
</svg>
<div class="b" style="left:15px;top:70px;width:22px;height:22px;background:#d4a02e;border-radius:11px;"></div>
<svg class="b" style="left:15px;top:70px;" width="22" height="22" viewBox="0 0 22 22"><path d="M9.5 6.1H12.8L14.2 9.4H7.9Z M4.9 11.1H8.9L10.5 14.4H2.9Z M13.5 11.1H17.5L19.1 14.4H11.8Z" fill="#fff"/><path d="M8.2 8.6H13.9L14.2 9.4H7.9Z M3.3 13.6H10.1L10.5 14.4H2.9Z M12.2 13.6H18.7L19.1 14.4H11.8Z" fill="#f3e2b8"/></svg>
<span class="t" style="left:42.0px;top:69.0px;font-size:20px;line-height:24px;color:#c9cbd1;letter-spacing:-0.67px;">Gold (XAUUSD) · 3 · Capital.com</span>
<div class="b" style="left:327px;top:70px;width:22px;height:22px;background:#1f3b3a;border-radius:11px;"></div>
<div class="b" style="left:333px;top:76px;width:10px;height:10px;background:#3fa58d;border-radius:5px;"></div>
<span class="t" style="left:359.0px;top:72.0px;font-size:15px;line-height:18px;color:#a9acb4;">O</span>
<span class="t" style="left:371.0px;top:72.0px;font-size:15px;line-height:18px;color:#e4504e;letter-spacing:0.39px;">4,938.00</span>
<span class="t" style="left:440.0px;top:72.0px;font-size:15px;line-height:18px;color:#a9acb4;">H</span>
<span class="t" style="left:451.5px;top:72.0px;font-size:15px;line-height:18px;color:#e4504e;letter-spacing:0.33px;">4,938.09</span>
<span class="t" style="left:521.0px;top:72.0px;font-size:15px;line-height:18px;color:#a9acb4;">L</span>
<span class="t" style="left:530.0px;top:72.0px;font-size:15px;line-height:18px;color:#e4504e;letter-spacing:0.33px;">4,937.59</span>
<span class="t" style="left:599.5px;top:72.0px;font-size:15px;line-height:18px;color:#a9acb4;">C</span>
<span class="t" style="left:610.0px;top:72.0px;font-size:15px;line-height:18px;color:#e4504e;letter-spacing:0.33px;">4,937.69</span>
<span class="t" style="left:679.5px;top:72.0px;font-size:15px;line-height:18px;color:#e4504e;letter-spacing:0.01px;">−0.29</span>
<span class="t" style="left:724.0px;top:72.0px;font-size:15px;line-height:18px;color:#e4504e;letter-spacing:-0.35px;">(−0.01%)</span>
<div class="b" style="left:14px;top:101px;width:89px;height:41px;background:#0f0f0f;border:1px solid #e4504e;border-radius:6px;box-sizing:border-box;"></div>
<span class="t" style="left:28.0px;top:104.5px;font-size:14px;line-height:17px;color:#e4504e;font-weight:700;letter-spacing:0.81px;">4,937.71</span>
<span class="t" style="left:44.0px;top:122.5px;font-size:12.5px;line-height:15px;color:#e4504e;letter-spacing:-0.39px;">SELL</span>
<span class="t" style="left:112.5px;top:113.5px;font-size:12.5px;line-height:15px;color:#e0e0e0;letter-spacing:-0.08px;-webkit-text-stroke:0.2px #e0e0e0;">0.75</span>
<div class="b" style="left:146px;top:101px;width:89px;height:41px;background:#0f0f0f;border:1px solid #3d63f0;border-radius:6px;box-sizing:border-box;"></div>
<span class="t" style="left:159.5px;top:104.5px;font-size:14px;line-height:17px;color:#4a6cf7;font-weight:700;letter-spacing:0.94px;">4,938.46</span>
<span class="t" style="left:178.0px;top:122.5px;font-size:12.5px;line-height:15px;color:#4a6cf7;letter-spacing:-0.23px;">BUY</span>
<div class="b" style="left:14px;top:150px;width:38px;height:25px;border:1px solid #3a3c48;border-radius:4px;box-sizing:border-box;"></div>
<svg class="b" style="left:20px;top:158px;" width="12" height="10" viewBox="0 0 12 10"><path d="M2 3L6 7L10 3" fill="none" stroke="#d0d0d0" stroke-width="1.4"/></svg>
<span class="t" style="left:38.0px;top:154.5px;font-size:14px;line-height:17px;color:#d0d0d0;">2</span>
<div class="b" style="left:1540px;top:73px;width:167px;height:131px;background:#363849;"></div>
<div class="b" style="left:1540px;top:73px;width:167px;height:32px;background:#7b7e8c;"></div>
<div class="b" style="left:1629px;top:73px;width:1px;height:32px;background:#60636f;"></div>
<div class="b" style="left:1630px;top:106px;width:77px;height:32px;background:#69ad5f;"></div>
<div class="b" style="left:1630px;top:171px;width:77px;height:33px;background:#69ad5f;"></div>
<span class="t" style="left:1560.5px;top:79.5px;font-size:16px;line-height:19px;color:#fff;letter-spacing:0.74px;-webkit-text-stroke:0.4px #fff;">Metric</span>
<span class="t" style="left:1647.5px;top:79.5px;font-size:16px;line-height:19px;color:#fff;letter-spacing:0.45px;-webkit-text-stroke:0.4px #fff;">Value</span>
<span class="t" style="left:1549.5px;top:112.5px;font-size:16px;line-height:19px;color:#fff;letter-spacing:0.40px;-webkit-text-stroke:0.4px #fff;">Win Rate</span>
<span class="t" style="left:1646.0px;top:112.5px;font-size:16px;line-height:19px;color:#fff;letter-spacing:-0.27px;-webkit-text-stroke:0.4px #fff;">92.5%</span>
<span class="t" style="left:1547.0px;top:145.5px;font-size:16px;line-height:19px;color:#fff;letter-spacing:0.93px;-webkit-text-stroke:0.4px #fff;">Net Profit</span>
<span class="t" style="left:1638.0px;top:145.5px;font-size:16px;line-height:19px;color:#52d67c;letter-spacing:-0.04px;">$366130</span>
<span class="t" style="left:1560.0px;top:178.5px;font-size:16px;line-height:19px;color:#fff;letter-spacing:0.44px;-webkit-text-stroke:0.4px #fff;">Status</span>
<span class="t" style="left:1647.0px;top:178.5px;font-size:16px;line-height:19px;color:#fff;letter-spacing:-0.59px;-webkit-text-stroke:0.4px #fff;">LONG</span>
<div class="b" style="left:1719px;top:61px;width:1px;height:605px;background:#484a57;"></div>
<span class="t" style="left:1730.5px;top:92.3px;font-size:13.6px;line-height:16px;color:#b9bbc3;letter-spacing:0.45px;">5,300.00</span>
<span class="t" style="left:1730.5px;top:129.4px;font-size:13.6px;line-height:16px;color:#b9bbc3;letter-spacing:0.45px;">5,250.00</span>
<span class="t" style="left:1730.5px;top:166.5px;font-size:13.6px;line-height:16px;color:#b9bbc3;letter-spacing:0.45px;">5,200.00</span>
<span class="t" style="left:1730.5px;top:203.5px;font-size:13.6px;line-height:16px;color:#b9bbc3;letter-spacing:0.45px;">5,150.00</span>
<span class="t" style="left:1730.5px;top:240.6px;font-size:13.6px;line-height:16px;color:#b9bbc3;letter-spacing:0.45px;">5,100.00</span>
<span class="t" style="left:1730.5px;top:277.7px;font-size:13.6px;line-height:16px;color:#b9bbc3;letter-spacing:0.45px;">5,050.00</span>
<span class="t" style="left:1730.5px;top:314.8px;font-size:13.6px;line-height:16px;color:#b9bbc3;letter-spacing:0.45px;">5,000.00</span>
<span class="t" style="left:1730.5px;top:351.9px;font-size:13.6px;line-height:16px;color:#b9bbc3;letter-spacing:0.45px;">4,950.00</span>
<span class="t" style="left:1730.5px;top:388.9px;font-size:13.6px;line-height:16px;color:#b9bbc3;letter-spacing:0.45px;">4,900.00</span>
<span class="t" style="left:1730.5px;top:426.0px;font-size:13.6px;line-height:16px;color:#b9bbc3;letter-spacing:0.45px;">4,850.00</span>
<span class="t" style="left:1730.5px;top:463.1px;font-size:13.6px;line-height:16px;color:#b9bbc3;letter-spacing:0.45px;">4,800.00</span>
<span class="t" style="left:1730.5px;top:500.2px;font-size:13.6px;line-height:16px;color:#b9bbc3;letter-spacing:0.45px;">4,750.00</span>
<span class="t" style="left:1730.5px;top:537.3px;font-size:13.6px;line-height:16px;color:#b9bbc3;letter-spacing:0.45px;">4,700.00</span>
<span class="t" style="left:1730.5px;top:574.3px;font-size:13.6px;line-height:16px;color:#b9bbc3;letter-spacing:0.45px;">4,650.00</span>
<span class="t" style="left:1730.5px;top:611.4px;font-size:13.6px;line-height:16px;color:#b9bbc3;letter-spacing:0.45px;">4,600.00</span>
<div class="b" style="left:1724px;top:66px;width:71px;height:31px;background:#0c0c0c;border:1px solid #4a4a4a;border-radius:5px;box-sizing:border-box;"></div>
<span class="t" style="left:1730.0px;top:73.5px;font-size:13.5px;line-height:16px;color:#e6e6e6;letter-spacing:-0.83px;-webkit-text-stroke:0.2px #e6e6e6;">USD</span>
<svg class="b" style="left:1780px;top:77px;" width="10" height="9" viewBox="0 0 10 9"><path d="M1.5 2.5L5 6L8.5 2.5" fill="none" stroke="#e0e0e0" stroke-width="1.5"/></svg>
<div class="b" style="left:1720px;top:256px;width:74px;height:20px;background:#171926;border:1px solid #2e8b7a;border-radius:2px;box-sizing:border-box;"></div>
<span class="t" style="left:1730.0px;top:257.5px;font-size:14px;line-height:17px;color:#3fa58d;letter-spacing:0.31px;">5,055.73</span>
<div class="b" style="left:1720px;top:277px;width:74px;height:20px;background:#171926;border:1px solid #f2e14c;border-radius:2px;box-sizing:border-box;"></div>
<span class="t" style="left:1730.0px;top:278.5px;font-size:14px;line-height:17px;color:#f2e14c;font-weight:700;letter-spacing:0.44px;">5,031.84</span>
<div class="b" style="left:1796px;top:277px;width:4px;height:19px;background:#f2e14c;border-radius:2px;"></div>
<div class="b" style="left:1720px;top:298px;width:74px;height:20px;background:#171926;border:1px solid #3d63f0;border-radius:2px;box-sizing:border-box;"></div>
<span class="t" style="left:1730.0px;top:299.5px;font-size:14px;line-height:17px;color:#4a6cf7;letter-spacing:0.31px;">5,022.32</span>
<div class="b" style="left:1796px;top:298px;width:4px;height:19px;background:#3d63f0;border-radius:2px;"></div>
<div class="b" style="left:1687px;top:318px;width:107px;height:21px;background:#e25d5f;border-radius:3px;"></div>
<span class="t" style="left:1693.0px;top:320.5px;font-size:14px;line-height:17px;color:#fff;letter-spacing:-0.11px;">Ask</span>
<span class="t" style="left:1730.0px;top:320.5px;font-size:14px;line-height:17px;color:#fff;letter-spacing:0.31px;-webkit-text-stroke:0.2px #fff;">4,938.46</span>
<div class="b" style="left:1688px;top:339px;width:106px;height:21px;background:#3d63f0;border-radius:3px;"></div>
<span class="t" style="left:1694.0px;top:341.5px;font-size:14px;line-height:17px;color:#fff;letter-spacing:0.26px;">Bid</span>
<span class="t" style="left:1730.0px;top:341.5px;font-size:14px;line-height:17px;color:#fff;letter-spacing:0.31px;-webkit-text-stroke:0.2px #fff;">4,937.71</span>
<div class="b" style="left:1672px;top:360px;width:48px;height:21px;background:#e0484c;border-radius:3px 0 0 3px;"></div>
<span class="t" style="left:1678.0px;top:362.5px;font-size:14px;line-height:17px;color:#fff;letter-spacing:-0.92px;">GOLD</span>
<div class="b" style="left:1720px;top:360px;width:74px;height:38px;background:#e0484c;border-radius:0 3px 3px 0;"></div>
<span class="t" style="left:1730.0px;top:361.5px;font-size:14px;line-height:17px;color:#fff;letter-spacing:0.31px;-webkit-text-stroke:0.2px #fff;">4,937.69</span>
<span class="t" style="left:1730.0px;top:378.5px;font-size:14px;line-height:17px;color:#f6c9ca;letter-spacing:0.39px;">01:59</span>
<div class="b" style="left:1720px;top:405px;width:74px;height:21px;background:#4a4a4a;border-radius:2px;"></div>
<span class="t" style="left:1730.0px;top:407.0px;font-size:14px;line-height:17px;color:#fff;letter-spacing:0.44px;-webkit-text-stroke:0.2px #fff;">4,877.28</span>
<div class="b" style="left:1720px;top:611px;width:39px;height:21px;background:#171926;border:1.5px solid #3fa58d;border-radius:3px;box-sizing:border-box;"></div>
<span class="t" style="left:1731.0px;top:613.5px;font-size:13.6px;line-height:16px;color:#4db6a3;letter-spacing:0.10px;">944</span>
<div class="b" style="left:1700px;top:330px;width:20px;height:40px;overflow:hidden"><span class="t" style="left:2px;top:1px;font-size:15px;line-height:18px;color:#c9cbd1;text-shadow:0 0 2px #000">Long</span><span class="t" style="left:0px;top:18px;font-size:15px;line-height:18px;color:#c9cbd1;text-shadow:0 0 2px #000">+300</span></div>
<div class="b" style="left:4px;top:632px;width:1796px;height:1px;background:#484a57;"></div>
<span class="t" style="left:112.0px;top:640.0px;font-size:14px;line-height:17px;color:#c9cbd1;font-weight:700;letter-spacing:0.04px;">Feb</span>
<span class="t" style="left:194.1px;top:640.0px;font-size:14px;line-height:17px;color:#c9cbd1;">2</span>
<span class="t" style="left:476.1px;top:640.0px;font-size:14px;line-height:17px;color:#c9cbd1;">3</span>
<span class="t" style="left:740.1px;top:640.0px;font-size:14px;line-height:17px;color:#c9cbd1;">4</span>
<span class="t" style="left:1021.1px;top:640.0px;font-size:14px;line-height:17px;color:#c9cbd1;">5</span>
<span class="t" style="left:1302.1px;top:640.0px;font-size:14px;line-height:17px;color:#c9cbd1;">6</span>
<span class="t" style="left:1510.1px;top:640.0px;font-size:14px;line-height:17px;color:#c9cbd1;">8</span>
<span class="t" style="left:1584.1px;top:640.0px;font-size:14px;line-height:17px;color:#c9cbd1;">9</span>
<svg class="b" style="left:1749px;top:638px;" width="22" height="22" viewBox="0 0 22 22"><path d="M7 3.5H15L19.5 11L15 18.5H7L2.5 11Z" fill="none" stroke="#d0d0d0" stroke-width="1.4" stroke-linejoin="round"/><circle cx="11" cy="11" r="3" fill="none" stroke="#d0d0d0" stroke-width="1.4"/></svg>
<span class="t" style="left:22.0px;top:681.5px;font-size:15.5px;line-height:19px;color:#e0e0e0;letter-spacing:-0.66px;-webkit-text-stroke:0.35px #e0e0e0;">1D</span>
<span class="t" style="left:55.0px;top:681.5px;font-size:15.5px;line-height:19px;color:#e0e0e0;letter-spacing:-0.16px;-webkit-text-stroke:0.35px #e0e0e0;">5D</span>
<span class="t" style="left:90.0px;top:681.5px;font-size:15.5px;line-height:19px;color:#e0e0e0;letter-spacing:-0.52px;-webkit-text-stroke:0.35px #e0e0e0;">1M</span>
<span class="t" style="left:125.5px;top:681.5px;font-size:15.5px;line-height:19px;color:#e0e0e0;letter-spacing:-0.02px;-webkit-text-stroke:0.35px #e0e0e0;">3M</span>
<span class="t" style="left:161.0px;top:681.5px;font-size:15.5px;line-height:19px;color:#e0e0e0;letter-spacing:-0.02px;-webkit-text-stroke:0.35px #e0e0e0;">6M</span>
<span class="t" style="left:197.0px;top:681.5px;font-size:15.5px;line-height:19px;color:#e0e0e0;letter-spacing:-0.33px;-webkit-text-stroke:0.35px #e0e0e0;">YTD</span>
<span class="t" style="left:242.0px;top:681.5px;font-size:15.5px;line-height:19px;color:#e0e0e0;letter-spacing:-0.48px;-webkit-text-stroke:0.35px #e0e0e0;">1Y</span>
<span class="t" style="left:275.0px;top:681.5px;font-size:15.5px;line-height:19px;color:#e0e0e0;letter-spacing:0.02px;-webkit-text-stroke:0.35px #e0e0e0;">5Y</span>
<span class="t" style="left:308.5px;top:681.5px;font-size:15.5px;line-height:19px;color:#e0e0e0;letter-spacing:1.09px;-webkit-text-stroke:0.35px #e0e0e0;">All</span>
<div class="b" style="left:342px;top:679px;width:1px;height:25px;background:#4a4a4a;"></div>
<svg class="b" style="left:358px;top:678px;" width="26" height="26" viewBox="0 0 26 26"><path d="M7 1V6M19 1V6" stroke="#d8d8d8" stroke-width="1.4"/><path d="M3 13V6C3 4.5 4 3.5 5.5 3.5H20.5C22 3.5 23 4.5 23 6V20C23 21.5 22 22.5 20.5 22.5H13M3 9.5H23" fill="none" stroke="#d8d8d8" stroke-width="1.4"/><path d="M1 18H10M6.5 14L10.5 18L6.5 22" fill="none" stroke="#d8d8d8" stroke-width="1.4"/></svg>
<span class="t" style="left:1670.0px;top:682.0px;font-size:15.5px;line-height:19px;color:#e6e6e6;font-weight:700;letter-spacing:0.43px;">02:19:01 UTC-5</span>
<div class="b" style="left:4px;top:719px;width:1796px;height:47px;background:#202020;border-radius:4px 4px 0 0;"></div>
<div class="b" style="left:4px;top:719px;width:177px;height:47px;background:#0f0f0f;border-radius:4px 4px 0 0;"></div>
<div class="b" style="left:4px;top:766px;width:1796px;height:693px;background:#0f0f0f;"></div>
<div class="b" style="left:0px;top:1459px;width:1805px;height:5px;background:#2e2e2e;"></div>
<div class="b" style="left:0px;top:1459px;width:1100px;height:1px;background:#2c3a4e;"></div>
<div class="b" style="left:0px;top:1460px;width:1100px;height:4px;background:#1a2638;"></div>
<div class="b" style="left:1100px;top:1459px;width:300px;height:5px;background:linear-gradient(90deg,#1a2638,#2e2e2e)"></div>
<div class="b" style="left:13px;top:728px;width:29px;height:29px;background:#f2f2f2;border-radius:7px;"></div>
<svg class="b" style="left:13px;top:728px;" width="29" height="29" viewBox="0 0 29 29"><path d="M7.4 16.8L12.4 13L16.3 16.3L21.8 13" fill="none" stroke="#111" stroke-width="1.7" stroke-linecap="round" stroke-linejoin="round"/><path d="M11.5 4.3V10M9.2 7.6L11.5 10.2L13.8 7.6M17.6 24.7V19M15.3 21.4L17.6 18.8L19.9 21.4" fill="none" stroke="#111" stroke-width="1.5"/></svg>
<span class="t" style="left:53.0px;top:733.0px;font-size:17px;line-height:20px;color:#e6e6e6;letter-spacing:0.06px;-webkit-text-stroke:0.3px #e6e6e6;">Strategy Report</span>
<svg class="b" style="left:1722px;top:746px;" width="20" height="4" viewBox="0 0 20 4"><path d="M1 2H19" stroke="#d0d0d0" stroke-width="1.5"/></svg>
<svg class="b" style="left:1765px;top:732px;" width="22" height="22" viewBox="0 0 22 22"><path d="M1 8V5C1 2.8 2.8 1 5 1H17C19.2 1 21 2.8 21 5V8M1 14V17C1 19.2 2.8 21 5 21H17C19.2 21 21 19.2 21 17V14" fill="none" stroke="#d8d8d8" stroke-width="1.4"/></svg>
<span class="t" style="left:27.0px;top:786.0px;font-size:16.5px;line-height:20px;color:#ececec;font-weight:700;letter-spacing:0.05px;">OpenSource Super Simple Signal (Stable v2.5)</span>
<svg class="b" style="left:402px;top:791px;" width="14" height="10" viewBox="0 0 14 10"><path d="M2.5 3L7 7.5L11.5 3" fill="none" stroke="#d8d8d8" stroke-width="1.4"/></svg>
<svg class="b" style="left:1498px;top:783px;" width="24" height="24" viewBox="0 0 24 24"><path d="M7 1V5M17 1V5" stroke="#d8d8d8" stroke-width="1.4"/><rect x="1.5" y="3.5" width="21" height="19" rx="3" fill="none" stroke="#d8d8d8" stroke-width="1.4"/><path d="M1.5 9H22.5" stroke="#d8d8d8" stroke-width="1.4"/></svg>
<span class="t" style="left:1539.5px;top:786.5px;font-size:16px;line-height:19px;color:#e6e6e6;font-weight:700;letter-spacing:0.17px;">Oct 13, 2025 — Feb 18, 2026</span>
<svg class="b" style="left:1768px;top:791px;" width="14" height="10" viewBox="0 0 14 10"><path d="M2.5 3L7 7.5L11.5 3" fill="none" stroke="#d8d8d8" stroke-width="1.4"/></svg>
<div class="b" style="left:23px;top:826px;width:84px;height:34px;background:#f2f2f2;border-radius:17px;"></div>
<span class="t" style="left:37.0px;top:833.0px;font-size:17px;line-height:20px;color:#111;letter-spacing:0.18px;">Metrics</span>
<div class="b" style="left:112px;top:826px;width:131px;height:34px;background:#2e2e2e;border-radius:17px;"></div>
<span class="t" style="left:126.5px;top:833.0px;font-size:17px;line-height:20px;color:#ececec;letter-spacing:0.33px;-webkit-text-stroke:0.3px #ececec;">List of trades</span>
<div class="b" style="left:1746px;top:826px;width:34px;height:34px;border:1px solid #4f4f4f;border-radius:7px;box-sizing:border-box;"></div>
<svg class="b" style="left:1752px;top:832px;" width="22" height="22" viewBox="0 0 22 22"><rect x="2" y="2.5" width="18" height="3.6" rx="1" fill="none" stroke="#e0e0e0" stroke-width="1.3"/><rect x="2" y="9.2" width="18" height="3.6" rx="1" fill="none" stroke="#e0e0e0" stroke-width="1.3"/><rect x="2" y="15.9" width="18" height="3.6" rx="1" fill="none" stroke="#e0e0e0" stroke-width="1.3"/></svg>
<span class="t" style="left:24.0px;top:895.0px;font-size:19.5px;line-height:23px;color:#8c8c8c;letter-spacing:-0.05px;">Total P&amp;L</span>
<div class="b" style="left:113px;top:897px;width:20px;height:20px;background:#4a4a4a;border-radius:10px;"></div><svg class="b" style="left:113.5px;top:897.5px;" width="19" height="19" viewBox="0 0 19 19"><circle cx="9.5" cy="5.6" r="1.5" fill="#0f0f0f"/><path d="M7.3 8.7H10.6V14.5" fill="none" stroke="#0f0f0f" stroke-width="2.2"/></svg>
<span class="t" style="left:377.0px;top:895.0px;font-size:19.5px;line-height:23px;color:#8c8c8c;letter-spacing:0.13px;">Max equity drawdown</span>
<div class="b" style="left:574.5px;top:897px;width:20px;height:20px;background:#4a4a4a;border-radius:10px;"></div><svg class="b" style="left:575.0px;top:897.5px;" width="19" height="19" viewBox="0 0 19 19"><circle cx="9.5" cy="5.6" r="1.5" fill="#0f0f0f"/><path d="M7.3 8.7H10.6V14.5" fill="none" stroke="#0f0f0f" stroke-width="2.2"/></svg>
<span class="t" style="left:730.0px;top:895.0px;font-size:19.5px;line-height:23px;color:#8c8c8c;letter-spacing:0.27px;">Total trades</span>
<div class="b" style="left:841px;top:897px;width:20px;height:20px;background:#4a4a4a;border-radius:10px;"></div><svg class="b" style="left:841.5px;top:897.5px;" width="19" height="19" viewBox="0 0 19 19"><circle cx="9.5" cy="5.6" r="1.5" fill="#0f0f0f"/><path d="M7.3 8.7H10.6V14.5" fill="none" stroke="#0f0f0f" stroke-width="2.2"/></svg>
<span class="t" style="left:1084.0px;top:895.0px;font-size:19.5px;line-height:23px;color:#8c8c8c;letter-spacing:0.24px;">Profitable trades</span>
<div class="b" style="left:1236px;top:897px;width:20px;height:20px;background:#4a4a4a;border-radius:10px;"></div><svg class="b" style="left:1236.5px;top:897.5px;" width="19" height="19" viewBox="0 0 19 19"><circle cx="9.5" cy="5.6" r="1.5" fill="#0f0f0f"/><path d="M7.3 8.7H10.6V14.5" fill="none" stroke="#0f0f0f" stroke-width="2.2"/></svg>
<span class="t" style="left:1437.0px;top:895.0px;font-size:19.5px;line-height:23px;color:#8c8c8c;letter-spacing:0.56px;">Profit factor</span>
<div class="b" style="left:1550px;top:897px;width:20px;height:20px;background:#4a4a4a;border-radius:10px;"></div><svg class="b" style="left:1550.5px;top:897.5px;" width="19" height="19" viewBox="0 0 19 19"><circle cx="9.5" cy="5.6" r="1.5" fill="#0f0f0f"/><path d="M7.3 8.7H10.6V14.5" fill="none" stroke="#0f0f0f" stroke-width="2.2"/></svg>
<span class="t" style="left:24.0px;top:927.0px;font-size:19px;line-height:23px;color:#42a58d;letter-spacing:-0.02px;">+370,566.00</span>
<span class="t" style="left:133.0px;top:933.0px;font-size:12.5px;line-height:15px;color:#42a58d;letter-spacing:-0.80px;">USD</span>
<span class="t" style="left:167.5px;top:927.0px;font-size:19px;line-height:23px;color:#42a58d;letter-spacing:-0.39px;">+3,662.48%</span>
<span class="t" style="left:377.0px;top:927.0px;font-size:19px;line-height:23px;color:#ececec;letter-spacing:0.16px;-webkit-text-stroke:0.3px #ececec;">20,094.00</span>
<span class="t" style="left:467.0px;top:933.0px;font-size:12.5px;line-height:15px;color:#ececec;letter-spacing:-0.80px;">USD</span>
<span class="t" style="left:500.0px;top:927.0px;font-size:19px;line-height:23px;color:#ececec;letter-spacing:-0.57px;-webkit-text-stroke:0.3px #ececec;">80.02%</span>
<span class="t" style="left:730.0px;top:927.0px;font-size:19px;line-height:23px;color:#ececec;letter-spacing:-0.57px;-webkit-text-stroke:0.3px #ececec;">53</span>
<span class="t" style="left:1084.0px;top:927.0px;font-size:19px;line-height:23px;color:#ececec;letter-spacing:-0.74px;-webkit-text-stroke:0.3px #ececec;">92.45%</span>
<span class="t" style="left:1153.0px;top:927.0px;font-size:19px;line-height:23px;color:#ececec;letter-spacing:0.89px;-webkit-text-stroke:0.3px #ececec;">49/53</span>
<span class="t" style="left:1437.0px;top:927.0px;font-size:19px;line-height:23px;color:#ececec;letter-spacing:0.09px;-webkit-text-stroke:0.3px #ececec;">15.79</span>
<span class="t" style="left:24.0px;top:983.5px;font-size:16px;line-height:19px;color:#ececec;font-weight:700;letter-spacing:0.38px;">Equity chart</span>
<div class="b" style="left:1746px;top:977px;width:34px;height:34px;border:1px solid #4f4f4f;border-radius:7px;box-sizing:border-box;"></div>
<svg class="b" style="left:1752px;top:983px;" width="22" height="22" viewBox="0 0 22 22"><path d="M12.5 4.5H17.5V9.5M9.5 17.5H4.5V12.5" fill="none" stroke="#e0e0e0" stroke-width="1.4"/></svg>
<div class="b" style="left:23px;top:1434px;width:22px;height:22px;background:#f2f2f2;border-radius:5px;"></div>
<svg class="b" style="left:23px;top:1434px;" width="22" height="22" viewBox="0 0 22 22"><path d="M5.5 11.5L9.5 15L16.5 7" fill="none" stroke="#222" stroke-width="2"/></svg>
<div class="b" style="left:177px;top:1434px;width:22px;height:22px;background:#f2f2f2;border-radius:5px;"></div>
<svg class="b" style="left:177px;top:1434px;" width="22" height="22" viewBox="0 0 22 22"><path d="M5.5 11.5L9.5 15L16.5 7" fill="none" stroke="#222" stroke-width="2"/></svg>
<span class="t" style="left:55.0px;top:1435.0px;font-size:16.5px;line-height:20px;color:#ececec;letter-spacing:0.32px;-webkit-text-stroke:0.3px #ececec;">Buy &amp; hold</span>
<span class="t" style="left:209.0px;top:1435.0px;font-size:16.5px;line-height:20px;color:#ececec;letter-spacing:0.02px;-webkit-text-stroke:0.3px #ececec;">Trades excursions</span>
<div class="b" style="left:1572px;top:1428px;width:89px;height:31px;background:#2e2e2e;border-radius:8px 8px 0 0;"></div>
<span class="t" style="left:1581.5px;top:1435.0px;font-size:16.5px;line-height:20px;color:#fff;font-weight:700;letter-spacing:-0.07px;">Absolute</span>
<span class="t" style="left:1678.0px;top:1435.0px;font-size:16.5px;line-height:20px;color:#ececec;letter-spacing:0.06px;-webkit-text-stroke:0.3px #ececec;">Percentage</span>
<div class="b" style="left:1802px;top:1357px;width:12px;height:32px;background:#0c0c0c;border-radius:6px;border:1px solid #2e2e2e;box-sizing:border-box;"></div>
<svg class="b" style="left:1804px;top:1365px;" width="7" height="16" viewBox="0 0 7 16"><path d="M1.5 3L5 8L1.5 13" fill="none" stroke="#aaa" stroke-width="1.2"/></svg>
<svg class="b" style="left:0;top:1015px" width="1811" height="400" viewBox="0 1015 1811 400">
<path d="M37.4 1334.1L68.4 1339.3L99.4 1332.8L130.4 1325.3L161.5 1322.7L192.5 1319.1L223.5 1315.4L254.5 1311.3L285.5 1308.9L316.5 1303.2L347.5 1290.3L378.6 1285.3L409.6 1279.1L440.6 1271.3L471.6 1267.4L502.6 1275.2L533.6 1263.0L564.7 1252.3L595.7 1219.4L626.7 1215.7L657.7 1211.3L688.7 1204.1L719.7 1201.2L750.7 1196.3L781.8 1189.5L812.8 1185.1L843.8 1182.0L874.8 1177.1L905.8 1172.1L936.8 1166.9L967.9 1157.1L998.9 1154.5L1029.9 1140.2L1060.9 1140.5L1091.9 1131.1L1122.9 1125.1L1153.9 1122.8L1185.0 1118.1L1216.0 1115.3L1247.0 1111.9L1278.0 1109.3L1309.0 1106.2L1340.0 1097.4L1371.0 1091.9L1402.1 1088.3L1433.1 1076.3L1464.1 1068.0L1495.1 1075.3L1526.1 1070.4L1557.1 1052.5L1588.2 1048.0L1619.2 1045.2L1650.2 1041.8L1681.2 1038.2L1681.2 1337.3L37.4 1337.3Z" fill="#3fa58d" fill-opacity="0.055"/>
<path d="M23 1297.5H1698M23 1257.5H1698M23 1216.5H1698M23 1176.5H1698M23 1136.5H1698M23 1096.5H1698M23 1055.5H1698" stroke="#2f2f2f" stroke-width="1" fill="none"/>
<rect x="23.9" y="1322.5" width="27" height="14.8" fill="#27493f"/>
<rect x="23.9" y="1329.5" width="27" height="7.8" fill="#2f6a5b"/>
<rect x="23.9" y="1337.3" width="27" height="7.3" fill="#441d1f"/>
<rect x="54.9" y="1328.5" width="27" height="8.8" fill="#27493f"/>
<rect x="54.9" y="1337.3" width="27" height="20.3" fill="#441d1f"/>
<rect x="54.9" y="1337.3" width="27" height="14.6" fill="#8c2c30"/>
<rect x="85.9" y="1314.7" width="27" height="22.6" fill="#27493f"/>
<rect x="85.9" y="1321.2" width="27" height="16.1" fill="#2f6a5b"/>
<rect x="85.9" y="1337.3" width="27" height="11.5" fill="#441d1f"/>
<rect x="116.9" y="1309.6" width="27" height="27.7" fill="#27493f"/>
<rect x="116.9" y="1316.1" width="27" height="21.2" fill="#2f6a5b"/>
<rect x="116.9" y="1337.3" width="27" height="2.6" fill="#441d1f"/>
<rect x="148.0" y="1324.4" width="27" height="12.9" fill="#27493f"/>
<rect x="148.0" y="1331.1" width="27" height="6.2" fill="#2f6a5b"/>
<rect x="148.0" y="1337.3" width="27" height="7.3" fill="#441d1f"/>
<rect x="179.0" y="1321.2" width="27" height="16.1" fill="#27493f"/>
<rect x="179.0" y="1327.2" width="27" height="10.1" fill="#2f6a5b"/>
<rect x="179.0" y="1337.3" width="27" height="17.2" fill="#441d1f"/>
<rect x="210.0" y="1320.7" width="27" height="16.6" fill="#27493f"/>
<rect x="210.0" y="1327.2" width="27" height="10.1" fill="#2f6a5b"/>
<rect x="210.0" y="1337.3" width="27" height="46.8" fill="#441d1f"/>
<rect x="241.0" y="1319.4" width="27" height="17.9" fill="#27493f"/>
<rect x="241.0" y="1325.4" width="27" height="11.9" fill="#2f6a5b"/>
<rect x="241.0" y="1337.3" width="27" height="17.2" fill="#441d1f"/>
<rect x="272.0" y="1324.4" width="27" height="12.9" fill="#27493f"/>
<rect x="272.0" y="1330.8" width="27" height="6.5" fill="#2f6a5b"/>
<rect x="272.0" y="1337.3" width="27" height="29.4" fill="#441d1f"/>
<rect x="303.0" y="1314.7" width="27" height="22.6" fill="#27493f"/>
<rect x="303.0" y="1321.2" width="27" height="16.1" fill="#2f6a5b"/>
<rect x="303.0" y="1337.3" width="27" height="11.5" fill="#441d1f"/>
<rect x="334.0" y="1297.4" width="27" height="39.9" fill="#27493f"/>
<rect x="334.0" y="1304.4" width="27" height="32.9" fill="#2f6a5b"/>
<rect x="334.0" y="1337.3" width="27" height="20.3" fill="#441d1f"/>
<rect x="365.1" y="1317.9" width="27" height="19.4" fill="#27493f"/>
<rect x="365.1" y="1324.4" width="27" height="12.9" fill="#2f6a5b"/>
<rect x="396.1" y="1315.5" width="27" height="21.8" fill="#27493f"/>
<rect x="396.1" y="1322.0" width="27" height="15.3" fill="#2f6a5b"/>
<rect x="427.1" y="1312.9" width="27" height="24.4" fill="#27493f"/>
<rect x="427.1" y="1319.2" width="27" height="18.1" fill="#2f6a5b"/>
<rect x="427.1" y="1337.3" width="27" height="11.5" fill="#441d1f"/>
<rect x="458.1" y="1322.2" width="27" height="15.1" fill="#27493f"/>
<rect x="458.1" y="1329.0" width="27" height="8.3" fill="#2f6a5b"/>
<rect x="489.1" y="1337.3" width="27" height="19.0" fill="#441d1f"/>
<rect x="489.1" y="1337.3" width="27" height="19.0" fill="#8c2c30"/>
<rect x="520.1" y="1303.0" width="27" height="34.3" fill="#27493f"/>
<rect x="520.1" y="1309.5" width="27" height="27.8" fill="#2f6a5b"/>
<rect x="520.1" y="1337.3" width="27" height="6.0" fill="#441d1f"/>
<rect x="551.2" y="1309.3" width="27" height="28.0" fill="#27493f"/>
<rect x="551.2" y="1315.8" width="27" height="21.5" fill="#2f6a5b"/>
<rect x="551.2" y="1337.3" width="27" height="7.8" fill="#441d1f"/>
<rect x="582.2" y="1259.4" width="27" height="77.9" fill="#27493f"/>
<rect x="582.2" y="1265.9" width="27" height="71.4" fill="#2f6a5b"/>
<rect x="582.2" y="1337.3" width="27" height="16.6" fill="#441d1f"/>
<rect x="613.2" y="1323.8" width="27" height="13.5" fill="#27493f"/>
<rect x="613.2" y="1330.8" width="27" height="6.5" fill="#2f6a5b"/>
<rect x="613.2" y="1337.3" width="27" height="16.6" fill="#441d1f"/>
<rect x="644.2" y="1321.2" width="27" height="16.1" fill="#27493f"/>
<rect x="644.2" y="1327.7" width="27" height="9.6" fill="#2f6a5b"/>
<rect x="644.2" y="1337.3" width="27" height="5.2" fill="#441d1f"/>
<rect x="675.2" y="1317.1" width="27" height="20.2" fill="#27493f"/>
<rect x="675.2" y="1323.5" width="27" height="13.8" fill="#2f6a5b"/>
<rect x="675.2" y="1337.3" width="27" height="17.7" fill="#441d1f"/>
<rect x="706.2" y="1324.8" width="27" height="12.5" fill="#27493f"/>
<rect x="706.2" y="1331.3" width="27" height="6.0" fill="#2f6a5b"/>
<rect x="706.2" y="1337.3" width="27" height="0.8" fill="#441d1f"/>
<rect x="737.2" y="1319.9" width="27" height="17.4" fill="#27493f"/>
<rect x="737.2" y="1326.9" width="27" height="10.4" fill="#2f6a5b"/>
<rect x="737.2" y="1337.3" width="27" height="20.0" fill="#441d1f"/>
<rect x="768.3" y="1317.1" width="27" height="20.2" fill="#27493f"/>
<rect x="768.3" y="1323.5" width="27" height="13.8" fill="#2f6a5b"/>
<rect x="768.3" y="1337.3" width="27" height="14.8" fill="#441d1f"/>
<rect x="799.3" y="1322.0" width="27" height="15.3" fill="#27493f"/>
<rect x="799.3" y="1328.0" width="27" height="9.3" fill="#2f6a5b"/>
<rect x="830.3" y="1319.1" width="27" height="18.2" fill="#27493f"/>
<rect x="830.3" y="1330.0" width="27" height="7.3" fill="#2f6a5b"/>
<rect x="861.3" y="1321.2" width="27" height="16.1" fill="#27493f"/>
<rect x="861.3" y="1327.7" width="27" height="9.6" fill="#2f6a5b"/>
<rect x="861.3" y="1337.3" width="27" height="7.8" fill="#441d1f"/>
<rect x="892.3" y="1319.1" width="27" height="18.2" fill="#27493f"/>
<rect x="892.3" y="1325.9" width="27" height="11.4" fill="#2f6a5b"/>
<rect x="892.3" y="1337.3" width="27" height="24.7" fill="#441d1f"/>
<rect x="923.3" y="1319.1" width="27" height="18.2" fill="#27493f"/>
<rect x="923.3" y="1325.9" width="27" height="11.4" fill="#2f6a5b"/>
<rect x="923.3" y="1337.3" width="27" height="10.6" fill="#441d1f"/>
<rect x="954.4" y="1309.3" width="27" height="28.0" fill="#27493f"/>
<rect x="954.4" y="1314.7" width="27" height="22.6" fill="#2f6a5b"/>
<rect x="954.4" y="1337.3" width="27" height="17.7" fill="#441d1f"/>
<rect x="985.4" y="1325.1" width="27" height="12.2" fill="#27493f"/>
<rect x="985.4" y="1331.3" width="27" height="6.0" fill="#2f6a5b"/>
<rect x="985.4" y="1337.3" width="27" height="3.9" fill="#441d1f"/>
<rect x="1016.4" y="1297.8" width="27" height="39.5" fill="#27493f"/>
<rect x="1016.4" y="1304.1" width="27" height="33.2" fill="#2f6a5b"/>
<rect x="1016.4" y="1337.3" width="27" height="13.8" fill="#441d1f"/>
<rect x="1047.4" y="1326.1" width="27" height="11.2" fill="#27493f"/>
<rect x="1047.4" y="1337.3" width="27" height="15.8" fill="#441d1f"/>
<rect x="1078.4" y="1309.3" width="27" height="28.0" fill="#27493f"/>
<rect x="1078.4" y="1314.7" width="27" height="22.6" fill="#2f6a5b"/>
<rect x="1078.4" y="1337.3" width="27" height="10.6" fill="#441d1f"/>
<rect x="1109.4" y="1317.1" width="27" height="20.2" fill="#27493f"/>
<rect x="1109.4" y="1323.3" width="27" height="14.0" fill="#2f6a5b"/>
<rect x="1140.4" y="1325.1" width="27" height="12.2" fill="#27493f"/>
<rect x="1140.4" y="1331.3" width="27" height="6.0" fill="#2f6a5b"/>
<rect x="1140.4" y="1337.3" width="27" height="2.6" fill="#441d1f"/>
<rect x="1171.5" y="1321.2" width="27" height="16.1" fill="#27493f"/>
<rect x="1171.5" y="1327.7" width="27" height="9.6" fill="#2f6a5b"/>
<rect x="1171.5" y="1337.3" width="27" height="11.9" fill="#441d1f"/>
<rect x="1202.5" y="1325.1" width="27" height="12.2" fill="#27493f"/>
<rect x="1202.5" y="1331.3" width="27" height="6.0" fill="#2f6a5b"/>
<rect x="1202.5" y="1337.3" width="27" height="6.7" fill="#441d1f"/>
<rect x="1233.5" y="1324.1" width="27" height="13.2" fill="#27493f"/>
<rect x="1233.5" y="1330.6" width="27" height="6.7" fill="#2f6a5b"/>
<rect x="1233.5" y="1337.3" width="27" height="13.8" fill="#441d1f"/>
<rect x="1264.5" y="1325.1" width="27" height="12.2" fill="#27493f"/>
<rect x="1264.5" y="1331.3" width="27" height="6.0" fill="#2f6a5b"/>
<rect x="1264.5" y="1337.3" width="27" height="5.7" fill="#441d1f"/>
<rect x="1295.5" y="1325.1" width="27" height="12.2" fill="#27493f"/>
<rect x="1295.5" y="1331.3" width="27" height="6.0" fill="#2f6a5b"/>
<rect x="1295.5" y="1337.3" width="27" height="2.6" fill="#441d1f"/>
<rect x="1326.5" y="1310.8" width="27" height="26.5" fill="#27493f"/>
<rect x="1326.5" y="1317.3" width="27" height="20.0" fill="#2f6a5b"/>
<rect x="1326.5" y="1337.3" width="27" height="7.3" fill="#441d1f"/>
<rect x="1357.5" y="1318.6" width="27" height="18.7" fill="#27493f"/>
<rect x="1357.5" y="1324.3" width="27" height="13.0" fill="#2f6a5b"/>
<rect x="1357.5" y="1337.3" width="27" height="5.2" fill="#441d1f"/>
<rect x="1388.6" y="1321.7" width="27" height="15.6" fill="#27493f"/>
<rect x="1388.6" y="1328.2" width="27" height="9.1" fill="#2f6a5b"/>
<rect x="1388.6" y="1337.3" width="27" height="2.0" fill="#441d1f"/>
<rect x="1419.6" y="1303.6" width="27" height="33.7" fill="#27493f"/>
<rect x="1419.6" y="1310.3" width="27" height="27.0" fill="#2f6a5b"/>
<rect x="1419.6" y="1337.3" width="27" height="7.3" fill="#441d1f"/>
<rect x="1450.6" y="1309.5" width="27" height="27.8" fill="#27493f"/>
<rect x="1450.6" y="1316.0" width="27" height="21.3" fill="#2f6a5b"/>
<rect x="1450.6" y="1337.3" width="27" height="17.1" fill="#441d1f"/>
<rect x="1481.6" y="1337.3" width="27" height="17.7" fill="#441d1f"/>
<rect x="1481.6" y="1337.3" width="27" height="17.7" fill="#8c2c30"/>
<rect x="1512.6" y="1319.9" width="27" height="17.4" fill="#27493f"/>
<rect x="1512.6" y="1326.4" width="27" height="10.9" fill="#2f6a5b"/>
<rect x="1512.6" y="1337.3" width="27" height="18.2" fill="#441d1f"/>
<rect x="1543.6" y="1290.8" width="27" height="46.5" fill="#27493f"/>
<rect x="1543.6" y="1297.3" width="27" height="40.0" fill="#2f6a5b"/>
<rect x="1543.6" y="1337.3" width="27" height="14.3" fill="#441d1f"/>
<rect x="1574.7" y="1320.7" width="27" height="16.6" fill="#27493f"/>
<rect x="1574.7" y="1327.4" width="27" height="9.9" fill="#2f6a5b"/>
<rect x="1574.7" y="1337.3" width="27" height="4.2" fill="#441d1f"/>
<rect x="1605.7" y="1323.5" width="27" height="13.8" fill="#27493f"/>
<rect x="1605.7" y="1330.3" width="27" height="7.0" fill="#2f6a5b"/>
<rect x="1605.7" y="1337.3" width="27" height="8.3" fill="#441d1f"/>
<rect x="1636.7" y="1322.8" width="27" height="14.5" fill="#27493f"/>
<rect x="1636.7" y="1329.5" width="27" height="7.8" fill="#2f6a5b"/>
<rect x="1636.7" y="1337.3" width="27" height="5.2" fill="#441d1f"/>
<rect x="1667.7" y="1328.7" width="27" height="8.6" fill="#27493f"/>
<rect x="1667.7" y="1328.7" width="27" height="8.6" fill="#2f6a5b"/>
<rect x="1667.7" y="1337.3" width="27" height="16.1" fill="#441d1f"/>
<rect x="68" y="1377" width="403.0" height="5" fill="#2d5a4f"/>
<rect x="503" y="1377" width="527.0" height="5" fill="#2d5a4f"/>
<rect x="1062" y="1377" width="401.6" height="5" fill="#2d5a4f"/>
<rect x="1494.7" y="1377" width="155.3" height="5" fill="#2d5a4f"/>
<path d="M23 1337.5H1698" stroke="#d8d8d8" stroke-width="1"/>
<path d="M23 1337.3L400 1337.0L900 1336.3L1300 1336.1L1650 1335.8" stroke="#5b8fe8" stroke-width="2" fill="none"/>
<path d="M37.4 1334.1L68.4 1339.3L99.4 1332.8L130.4 1325.3L161.5 1322.7L192.5 1319.1L223.5 1315.4L254.5 1311.3L285.5 1308.9L316.5 1303.2L347.5 1290.3L378.6 1285.3L409.6 1279.1L440.6 1271.3L471.6 1267.4L502.6 1275.2L533.6 1263.0L564.7 1252.3L595.7 1219.4L626.7 1215.7L657.7 1211.3L688.7 1204.1L719.7 1201.2L750.7 1196.3L781.8 1189.5L812.8 1185.1L843.8 1182.0L874.8 1177.1L905.8 1172.1L936.8 1166.9L967.9 1157.1L998.9 1154.5L1029.9 1140.2L1060.9 1140.5L1091.9 1131.1L1122.9 1125.1L1153.9 1122.8L1185.0 1118.1L1216.0 1115.3L1247.0 1111.9L1278.0 1109.3L1309.0 1106.2L1340.0 1097.4L1371.0 1091.9L1402.1 1088.3L1433.1 1076.3L1464.1 1068.0L1495.1 1075.3L1526.1 1070.4L1557.1 1052.5L1588.2 1048.0L1619.2 1045.2L1650.2 1041.8L1681.2 1038.2" stroke="#45a089" stroke-width="2.2" fill="none" stroke-linejoin="round"/>
<circle cx="37.4" cy="1334.1" r="4.8" fill="#45a089"/>
<circle cx="68.4" cy="1339.3" r="4.8" fill="#e8464c"/>
<circle cx="99.4" cy="1332.8" r="4.8" fill="#45a089"/>
<circle cx="130.4" cy="1325.3" r="4.8" fill="#45a089"/>
<circle cx="161.5" cy="1322.7" r="4.8" fill="#45a089"/>
<circle cx="192.5" cy="1319.1" r="4.8" fill="#45a089"/>
<circle cx="223.5" cy="1315.4" r="4.8" fill="#45a089"/>
<circle cx="254.5" cy="1311.3" r="4.8" fill="#45a089"/>
<circle cx="285.5" cy="1308.9" r="4.8" fill="#45a089"/>
<circle cx="316.5" cy="1303.2" r="4.8" fill="#45a089"/>
<circle cx="347.5" cy="1290.3" r="4.8" fill="#45a089"/>
<circle cx="378.6" cy="1285.3" r="4.8" fill="#45a089"/>
<circle cx="409.6" cy="1279.1" r="4.8" fill="#45a089"/>
<circle cx="440.6" cy="1271.3" r="4.8" fill="#45a089"/>
<circle cx="471.6" cy="1267.4" r="4.8" fill="#45a089"/>
<circle cx="502.6" cy="1275.2" r="4.8" fill="#45a089"/>
<circle cx="533.6" cy="1263.0" r="4.8" fill="#45a089"/>
<circle cx="564.7" cy="1252.3" r="4.8" fill="#45a089"/>
<circle cx="595.7" cy="1219.4" r="4.8" fill="#45a089"/>
<circle cx="626.7" cy="1215.7" r="4.8" fill="#45a089"/>
<circle cx="657.7" cy="1211.3" r="4.8" fill="#45a089"/>
<circle cx="688.7" cy="1204.1" r="4.8" fill="#45a089"/>
<circle cx="719.7" cy="1201.2" r="4.8" fill="#45a089"/>
<circle cx="750.7" cy="1196.3" r="4.8" fill="#45a089"/>
<circle cx="781.8" cy="1189.5" r="4.8" fill="#45a089"/>
<circle cx="812.8" cy="1185.1" r="4.8" fill="#45a089"/>
<circle cx="843.8" cy="1182.0" r="4.8" fill="#45a089"/>
<circle cx="874.8" cy="1177.1" r="4.8" fill="#45a089"/>
<circle cx="905.8" cy="1172.1" r="4.8" fill="#45a089"/>
<circle cx="936.8" cy="1166.9" r="4.8" fill="#45a089"/>
<circle cx="967.9" cy="1157.1" r="4.8" fill="#45a089"/>
<circle cx="998.9" cy="1154.5" r="4.8" fill="#45a089"/>
<circle cx="1029.9" cy="1140.2" r="4.8" fill="#45a089"/>
<circle cx="1060.9" cy="1140.5" r="4.8" fill="#45a089"/>
<circle cx="1091.9" cy="1131.1" r="4.8" fill="#45a089"/>
<circle cx="1122.9" cy="1125.1" r="4.8" fill="#45a089"/>
<circle cx="1153.9" cy="1122.8" r="4.8" fill="#45a089"/>
<circle cx="1185.0" cy="1118.1" r="4.8" fill="#45a089"/>
<circle cx="1216.0" cy="1115.3" r="4.8" fill="#45a089"/>
<circle cx="1247.0" cy="1111.9" r="4.8" fill="#45a089"/>
<circle cx="1278.0" cy="1109.3" r="4.8" fill="#45a089"/>
<circle cx="1309.0" cy="1106.2" r="4.8" fill="#45a089"/>
<circle cx="1340.0" cy="1097.4" r="4.8" fill="#45a089"/>
<circle cx="1371.0" cy="1091.9" r="4.8" fill="#45a089"/>
<circle cx="1402.1" cy="1088.3" r="4.8" fill="#45a089"/>
<circle cx="1433.1" cy="1076.3" r="4.8" fill="#45a089"/>
<circle cx="1464.1" cy="1068.0" r="4.8" fill="#45a089"/>
<circle cx="1495.1" cy="1075.3" r="4.8" fill="#45a089"/>
<circle cx="1526.1" cy="1070.4" r="4.8" fill="#45a089"/>
<circle cx="1557.1" cy="1052.5" r="4.8" fill="#45a089"/>
<circle cx="1588.2" cy="1048.0" r="4.8" fill="#45a089"/>
<circle cx="1619.2" cy="1045.2" r="4.8" fill="#45a089"/>
<circle cx="1650.2" cy="1041.8" r="4.8" fill="#45a089"/>
<circle cx="1681.2" cy="1038.2" r="4.8" fill="#45a089"/>
</svg>
<span class="t" style="left:1718.5px;top:1287.3px;font-size:14px;line-height:17px;color:#c8c8c8;letter-spacing:0.19px;">50,000.00</span>
<span class="t" style="left:1710.7px;top:1247.0px;font-size:14px;line-height:17px;color:#c8c8c8;letter-spacing:0.17px;">100,000.00</span>
<span class="t" style="left:1710.7px;top:1206.7px;font-size:14px;line-height:17px;color:#c8c8c8;letter-spacing:0.17px;">150,000.00</span>
<span class="t" style="left:1710.7px;top:1166.4px;font-size:14px;line-height:17px;color:#c8c8c8;letter-spacing:0.17px;">200,000.00</span>
<span class="t" style="left:1710.7px;top:1126.1px;font-size:14px;line-height:17px;color:#c8c8c8;letter-spacing:0.17px;">250,000.00</span>
<span class="t" style="left:1710.7px;top:1085.8px;font-size:14px;line-height:17px;color:#c8c8c8;letter-spacing:0.17px;">300,000.00</span>
<span class="t" style="left:1710.7px;top:1045.5px;font-size:14px;line-height:17px;color:#c8c8c8;letter-spacing:0.17px;">350,000.00</span>
<div class="b" style="left:1707px;top:1028px;width:89px;height:21px;background:#489a86;border-radius:0 3px 3px 0;"></div>
<span class="t" style="left:1717.5px;top:1029.5px;font-size:14.5px;line-height:17px;color:#fff;letter-spacing:0.04px;">370,566.00</span>
<div class="b" style="left:1707px;top:1325px;width:73px;height:21px;background:#6b96e8;border-radius:2px;"></div>
<span class="t" style="left:1718.0px;top:1327.0px;font-size:14.5px;line-height:17px;color:#fff;letter-spacing:-0.05px;">1,585.57</span>
<span class="t" style="left:29.7px;top:1392.5px;font-size:14px;line-height:17px;color:#d0d0d0;">17</span>
<span class="t" style="left:242.1px;top:1392.5px;font-size:14px;line-height:17px;color:#d0d0d0;">Nov</span>
<span class="t" style="left:394.4px;top:1392.5px;font-size:14px;line-height:17px;color:#d0d0d0;font-weight:700;">2026</span>
<span class="t" style="left:557.2px;top:1392.5px;font-size:14px;line-height:17px;color:#d0d0d0;">28</span>
<span class="t" style="left:774.2px;top:1392.5px;font-size:14px;line-height:17px;color:#d0d0d0;">30</span>
<span class="t" style="left:889.0px;top:1392.5px;font-size:14px;line-height:17px;color:#d0d0d0;">11:39</span>
<span class="t" style="left:1018.9px;top:1392.5px;font-size:14px;line-height:17px;color:#d0d0d0;">Feb</span>
<span class="t" style="left:1243.1px;top:1392.5px;font-size:14px;line-height:17px;color:#d0d0d0;">3</span>
<span class="t" style="left:1429.1px;top:1392.5px;font-size:14px;line-height:17px;color:#d0d0d0;">5</span>
<span class="t" style="left:1549.2px;top:1392.5px;font-size:14px;line-height:17px;color:#d0d0d0;">12</span>
<span class="t" style="left:1674.2px;top:1392.5px;font-size:14px;line-height:17px;color:#d0d0d0;">18</span>
</body></html>
